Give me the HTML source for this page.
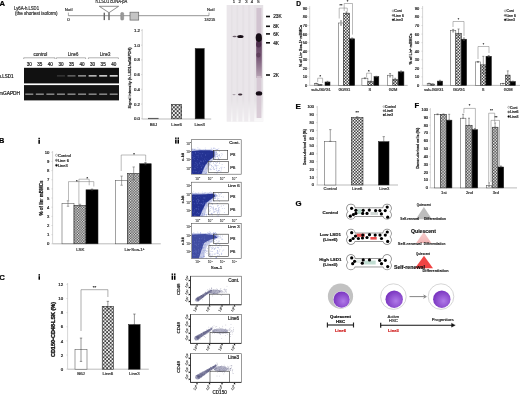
<!DOCTYPE html><html><head><meta charset="utf-8"><style>html,body{margin:0;padding:0;background:#fff;overflow:hidden}svg{display:block;filter:blur(0.35px)}text{font-family:"Liberation Sans", sans-serif}</style></head><body>
<svg width="520" height="395" viewBox="0 0 520 395">
<defs>
<pattern id="chkA" width="3.8" height="3.8" patternUnits="userSpaceOnUse"><rect width="3.8" height="3.8" fill="#444"/><rect width="1.9" height="1.9" fill="#f0f0f0"/><rect x="1.9" y="1.9" width="1.9" height="1.9" fill="#f0f0f0"/></pattern>
<pattern id="chkB" width="2.6" height="2.6" patternUnits="userSpaceOnUse"><rect width="2.6" height="2.6" fill="#444"/><rect width="1.3" height="1.3" fill="#f0f0f0"/><rect x="1.3" y="1.3" width="1.3" height="1.3" fill="#f0f0f0"/></pattern>
<pattern id="chkC" width="3.6" height="3.6" patternUnits="userSpaceOnUse"><rect width="3.6" height="3.6" fill="#444"/><rect width="1.8" height="1.8" fill="#f0f0f0"/><rect x="1.8" y="1.8" width="1.8" height="1.8" fill="#f0f0f0"/></pattern>
<pattern id="chkD" width="3.0" height="3.0" patternUnits="userSpaceOnUse"><rect width="3.0" height="3.0" fill="#444"/><rect width="1.5" height="1.5" fill="#f0f0f0"/><rect x="1.5" y="1.5" width="1.5" height="1.5" fill="#f0f0f0"/></pattern>
<pattern id="chkE" width="3.0" height="3.0" patternUnits="userSpaceOnUse"><rect width="3.0" height="3.0" fill="#444"/><rect width="1.5" height="1.5" fill="#f0f0f0"/><rect x="1.5" y="1.5" width="1.5" height="1.5" fill="#f0f0f0"/></pattern>
<pattern id="chkF" width="2.9" height="2.9" patternUnits="userSpaceOnUse"><rect width="2.9" height="2.9" fill="#444"/><rect width="1.45" height="1.45" fill="#f0f0f0"/><rect x="1.45" y="1.45" width="1.45" height="1.45" fill="#f0f0f0"/></pattern>
<radialGradient id="purp" cx="0.6" cy="0.6" r="0.6"><stop offset="0" stop-color="#b07ae8"/><stop offset="1" stop-color="#7a35c0"/></radialGradient>
<linearGradient id="lane5" x1="0" y1="0" x2="0" y2="1"><stop offset="0" stop-color="#5a3a58"/><stop offset="0.5" stop-color="#7a5a78"/><stop offset="1" stop-color="#b9a6b6"/></linearGradient>
<linearGradient id="blotfade" x1="0" y1="0" x2="0" y2="1"><stop offset="0" stop-color="#fff" stop-opacity="0"/><stop offset="1" stop-color="#fff" stop-opacity="0.8"/></linearGradient>
<filter id="blur1"><feGaussianBlur stdDeviation="0.5"/></filter>
<filter id="blur2"><feGaussianBlur stdDeviation="1"/></filter>
</defs>
<rect width="520" height="395" fill="#fff"/>
<text x="-0.40" y="6.10" font-size="7.6" fill="#000" stroke="#000" stroke-width="0.2" font-weight="bold">A</text>
<text x="14.00" y="10.00" font-size="4.6" fill="#333" stroke="#333" stroke-width="0.2" textLength="25" lengthAdjust="spacingAndGlyphs">Ly6A-h.LSD1</text>
<text x="15.00" y="15.30" font-size="4.6" fill="#333" stroke="#333" stroke-width="0.2" textLength="42.5" lengthAdjust="spacingAndGlyphs">(the shortest isoform)</text>
<line x1="68.40" y1="15.70" x2="209.00" y2="15.70" stroke="#777" stroke-width="0.8"/>
<text x="64.80" y="11.10" font-size="4.3" fill="#333" stroke="#333" stroke-width="0.2" textLength="7.8" lengthAdjust="spacingAndGlyphs">NotI</text>
<line x1="68.40" y1="12.60" x2="68.40" y2="15.70" stroke="#555" stroke-width="0.5"/>
<text x="68.40" y="20.80" font-size="4.3" fill="#333" stroke="#333" stroke-width="0.2" text-anchor="middle">0</text>
<text x="95.60" y="3.40" font-size="4.5" fill="#333" stroke="#333" stroke-width="0.2" textLength="31.7" lengthAdjust="spacingAndGlyphs">h.LSD1 cDNA-pA</text>
<path d="M99.3 6.3 L118.6 6.3 L109 12.7 Z" fill="none" stroke="#444" stroke-width="0.6" />
<rect x="103.60" y="12.70" width="1.40" height="7.40" fill="#666" />
<rect x="108.30" y="12.70" width="1.40" height="7.40" fill="#666" />
<rect x="120.70" y="12.50" width="3.00" height="7.60" fill="#999" stroke="#777" stroke-width="0.4" rx="1"/>
<rect x="130.00" y="12.20" width="8.70" height="7.90" fill="#c4c4c4" stroke="#666" stroke-width="0.7" />
<text x="206.90" y="11.10" font-size="4.3" fill="#333" stroke="#333" stroke-width="0.2" textLength="7.7" lengthAdjust="spacingAndGlyphs">NotI</text>
<line x1="209.00" y1="12.60" x2="209.00" y2="15.70" stroke="#555" stroke-width="0.5"/>
<text x="209.80" y="21.10" font-size="4.3" fill="#333" stroke="#333" stroke-width="0.2" text-anchor="middle" textLength="11" lengthAdjust="spacingAndGlyphs">18215</text>
<text x="40.40" y="55.80" font-size="4.5" fill="#333" stroke="#333" stroke-width="0.2" text-anchor="middle" textLength="14" lengthAdjust="spacingAndGlyphs">control</text>
<text x="73.10" y="55.80" font-size="4.5" fill="#333" stroke="#333" stroke-width="0.2" text-anchor="middle" textLength="10.5" lengthAdjust="spacingAndGlyphs">Line6</text>
<text x="105.10" y="55.80" font-size="4.5" fill="#333" stroke="#333" stroke-width="0.2" text-anchor="middle" textLength="10.5" lengthAdjust="spacingAndGlyphs">Line3</text>
<path d="M23.7 59 L23.7 57.8 L55 57.8 L55 59" fill="none" stroke="#666" stroke-width="0.5" />
<path d="M56.4 59 L56.4 57.8 L85.6 57.8 L85.6 59" fill="none" stroke="#666" stroke-width="0.5" />
<path d="M88.4 59 L88.4 57.8 L118.4 57.8 L118.4 59" fill="none" stroke="#666" stroke-width="0.5" />
<text x="29.28" y="66.30" font-size="4.6" fill="#222" stroke="#222" stroke-width="0.2" text-anchor="middle">30</text>
<text x="39.83" y="66.30" font-size="4.6" fill="#222" stroke="#222" stroke-width="0.2" text-anchor="middle">35</text>
<text x="50.39" y="66.30" font-size="4.6" fill="#222" stroke="#222" stroke-width="0.2" text-anchor="middle">40</text>
<text x="60.94" y="66.30" font-size="4.6" fill="#222" stroke="#222" stroke-width="0.2" text-anchor="middle">30</text>
<text x="71.50" y="66.30" font-size="4.6" fill="#222" stroke="#222" stroke-width="0.2" text-anchor="middle">35</text>
<text x="82.06" y="66.30" font-size="4.6" fill="#222" stroke="#222" stroke-width="0.2" text-anchor="middle">40</text>
<text x="92.61" y="66.30" font-size="4.6" fill="#222" stroke="#222" stroke-width="0.2" text-anchor="middle">30</text>
<text x="103.17" y="66.30" font-size="4.6" fill="#222" stroke="#222" stroke-width="0.2" text-anchor="middle">35</text>
<text x="113.72" y="66.30" font-size="4.6" fill="#222" stroke="#222" stroke-width="0.2" text-anchor="middle">40</text>
<rect x="24.00" y="67.80" width="95.00" height="15.60" fill="#111" />
<rect x="24.00" y="85.10" width="95.00" height="15.30" fill="#141414" />
<rect x="25.28" y="93.5" width="8" height="1.4" fill="#bbb" opacity="0.75" filter="url(#blur1)"/>
<rect x="35.83" y="93.5" width="8" height="1.4" fill="#bbb" opacity="0.75" filter="url(#blur1)"/>
<rect x="46.39" y="93.5" width="8" height="1.4" fill="#bbb" opacity="0.75" filter="url(#blur1)"/>
<rect x="56.94" y="75.1" width="8" height="1.5" fill="#fff" opacity="0.15" filter="url(#blur1)"/>
<rect x="56.94" y="93.5" width="8" height="1.4" fill="#bbb" opacity="0.75" filter="url(#blur1)"/>
<rect x="67.50" y="75.1" width="8" height="1.5" fill="#fff" opacity="0.35" filter="url(#blur1)"/>
<rect x="67.50" y="93.5" width="8" height="1.4" fill="#bbb" opacity="0.75" filter="url(#blur1)"/>
<rect x="78.06" y="75.1" width="8" height="1.5" fill="#fff" opacity="0.55" filter="url(#blur1)"/>
<rect x="78.06" y="93.5" width="8" height="1.4" fill="#bbb" opacity="0.75" filter="url(#blur1)"/>
<rect x="88.61" y="75.1" width="8" height="1.5" fill="#fff" opacity="0.75" filter="url(#blur1)"/>
<rect x="88.61" y="93.5" width="8" height="1.4" fill="#bbb" opacity="0.75" filter="url(#blur1)"/>
<rect x="99.17" y="75.1" width="8" height="1.5" fill="#fff" opacity="0.85" filter="url(#blur1)"/>
<rect x="99.17" y="93.5" width="8" height="1.4" fill="#bbb" opacity="0.75" filter="url(#blur1)"/>
<rect x="109.72" y="75.1" width="8" height="1.5" fill="#fff" opacity="0.9" filter="url(#blur1)"/>
<rect x="109.72" y="93.5" width="8" height="1.4" fill="#bbb" opacity="0.75" filter="url(#blur1)"/>
<text x="-1.50" y="78.20" font-size="4.6" fill="#222" stroke="#222" stroke-width="0.2" textLength="15" lengthAdjust="spacingAndGlyphs">h.LSD1</text>
<text x="-1.00" y="95.20" font-size="4.6" fill="#222" stroke="#222" stroke-width="0.2" textLength="21" lengthAdjust="spacingAndGlyphs">mGAPDH</text>
<line x1="142.20" y1="29.00" x2="142.20" y2="119.00" stroke="#bbb" stroke-width="0.6"/>
<line x1="141.00" y1="118.80" x2="142.20" y2="118.80" stroke="#bbb" stroke-width="0.5"/>
<text x="140.00" y="120.35" font-size="4.3" fill="#222" stroke="#222" stroke-width="0.2" text-anchor="end">0.0</text>
<line x1="141.00" y1="104.07" x2="142.20" y2="104.07" stroke="#bbb" stroke-width="0.5"/>
<text x="140.00" y="105.62" font-size="4.3" fill="#222" stroke="#222" stroke-width="0.2" text-anchor="end">0.2</text>
<line x1="141.00" y1="89.34" x2="142.20" y2="89.34" stroke="#bbb" stroke-width="0.5"/>
<text x="140.00" y="90.89" font-size="4.3" fill="#222" stroke="#222" stroke-width="0.2" text-anchor="end">0.4</text>
<line x1="141.00" y1="74.61" x2="142.20" y2="74.61" stroke="#bbb" stroke-width="0.5"/>
<text x="140.00" y="76.16" font-size="4.3" fill="#222" stroke="#222" stroke-width="0.2" text-anchor="end">0.6</text>
<line x1="141.00" y1="59.88" x2="142.20" y2="59.88" stroke="#bbb" stroke-width="0.5"/>
<text x="140.00" y="61.43" font-size="4.3" fill="#222" stroke="#222" stroke-width="0.2" text-anchor="end">0.8</text>
<line x1="141.00" y1="45.15" x2="142.20" y2="45.15" stroke="#bbb" stroke-width="0.5"/>
<text x="140.00" y="46.70" font-size="4.3" fill="#222" stroke="#222" stroke-width="0.2" text-anchor="end">1.0</text>
<line x1="141.00" y1="30.42" x2="142.20" y2="30.42" stroke="#bbb" stroke-width="0.5"/>
<text x="140.00" y="31.97" font-size="4.3" fill="#222" stroke="#222" stroke-width="0.2" text-anchor="end">1.2</text>
<line x1="142.20" y1="119.00" x2="211.20" y2="119.00" stroke="#aaa" stroke-width="0.8"/>
<rect x="148.30" y="118.20" width="10.20" height="0.60" fill="#fff" stroke="#555" stroke-width="0.55" />
<rect x="171.60" y="104.30" width="10.10" height="14.50" fill="url(#chkA)" stroke="#222" stroke-width="0.55" />
<rect x="195.20" y="48.60" width="9.00" height="70.20" fill="#000" stroke="#222" stroke-width="0.55" />
<text x="153.40" y="126.00" font-size="4.3" fill="#333" stroke="#333" stroke-width="0.2" text-anchor="middle">B6J</text>
<text x="176.60" y="126.00" font-size="4.3" fill="#333" stroke="#333" stroke-width="0.2" text-anchor="middle">Line6</text>
<text x="199.70" y="126.00" font-size="4.3" fill="#333" stroke="#333" stroke-width="0.2" text-anchor="middle">Line3</text>
<text x="131.20" y="78.00" font-size="4.4" fill="#222" stroke="#222" stroke-width="0.22" text-anchor="middle" font-weight="bold" textLength="61" lengthAdjust="spacingAndGlyphs" transform="rotate(-90 131.20 78.00)">Signal intensity (h.LSD1/mGAPDH)</text>
<g>
<rect x="226.70" y="5.00" width="36.50" height="116.50" fill="#e5e1e5" />
<rect x="226.7" y="100" width="36.5" height="21.5" fill="url(#blotfade)"/>
<rect x="227.00" y="5.00" width="4.00" height="116.50" fill="#ebe7eb" opacity="0.8"/>
<rect x="232.50" y="5.00" width="4.00" height="116.50" fill="#ebe7eb" opacity="0.8"/>
<rect x="238.30" y="5.00" width="4.00" height="116.50" fill="#ebe7eb" opacity="0.8"/>
<rect x="244.20" y="5.00" width="4.00" height="116.50" fill="#ebe7eb" opacity="0.8"/>
<rect x="250.20" y="5.00" width="4.00" height="116.50" fill="#ebe7eb" opacity="0.8"/>
<rect x="256.2" y="38" width="5.6" height="40" fill="url(#lane5)" filter="url(#blur1)"/>
<rect x="256.6" y="76" width="4.8" height="42" fill="#d3c3d0" opacity="0.8" filter="url(#blur1)"/>
<ellipse cx="258.6" cy="44.5" rx="2.6" ry="3.0" fill="#4a2a48" opacity="0.85" filter="url(#blur1)"/>
<ellipse cx="258.4" cy="55" rx="2.2" ry="2.6" fill="#5a3a56" opacity="0.8" filter="url(#blur1)"/>
<rect x="256.4" y="8" width="5" height="27" fill="#cdbccb" opacity="0.8" filter="url(#blur1)"/>
<ellipse cx="258.8" cy="37.6" rx="3.1" ry="4.4" fill="#160a14" filter="url(#blur1)"/>
<ellipse cx="259.0" cy="93.4" rx="3.2" ry="2.2" fill="#160a14" filter="url(#blur1)"/>
<ellipse cx="240.4" cy="36.5" rx="3.2" ry="1.6" fill="#160a14" filter="url(#blur1)"/>
<ellipse cx="234.6" cy="36.4" rx="2.1" ry="0.75" fill="#3a2a38" opacity="0.7" filter="url(#blur1)"/>
<ellipse cx="240.2" cy="94.6" rx="2.2" ry="1.0" fill="#2a1a28" opacity="0.9" filter="url(#blur1)"/>
<ellipse cx="234" cy="94.6" rx="1.6" ry="0.6" fill="#6a5a68" opacity="0.5" filter="url(#blur1)"/>
</g>
<text x="233.80" y="3.40" font-size="4.2" fill="#333" stroke="#333" stroke-width="0.2" text-anchor="middle">1</text>
<text x="239.70" y="3.40" font-size="4.2" fill="#333" stroke="#333" stroke-width="0.2" text-anchor="middle">2</text>
<text x="246.30" y="3.40" font-size="4.2" fill="#333" stroke="#333" stroke-width="0.2" text-anchor="middle">3</text>
<text x="251.90" y="3.40" font-size="4.2" fill="#333" stroke="#333" stroke-width="0.2" text-anchor="middle">4</text>
<text x="258.50" y="3.40" font-size="4.2" fill="#333" stroke="#333" stroke-width="0.2" text-anchor="middle">5</text>
<rect x="266.00" y="15.70" width="4.00" height="1.60" fill="#111" />
<text x="273.20" y="18.20" font-size="4.8" fill="#222" stroke="#222" stroke-width="0.2">23K</text>
<rect x="266.00" y="25.50" width="4.00" height="1.60" fill="#111" />
<text x="273.20" y="28.00" font-size="4.8" fill="#222" stroke="#222" stroke-width="0.2">8K</text>
<rect x="266.00" y="33.10" width="4.00" height="1.60" fill="#111" />
<text x="273.20" y="35.60" font-size="4.8" fill="#222" stroke="#222" stroke-width="0.2">6K</text>
<rect x="266.00" y="42.00" width="4.00" height="1.60" fill="#111" />
<text x="273.20" y="44.50" font-size="4.8" fill="#222" stroke="#222" stroke-width="0.2">4K</text>
<rect x="266.00" y="74.20" width="4.00" height="1.60" fill="#111" />
<text x="273.20" y="76.70" font-size="4.8" fill="#222" stroke="#222" stroke-width="0.2">2K</text>
<text x="-1.00" y="143.40" font-size="7.4" fill="#000" stroke="#000" stroke-width="0.2" font-weight="bold">B</text>
<rect x="38.40" y="137.80" width="1.5" height="1.4" fill="#000"/>
<rect x="38.40" y="139.80" width="1.5" height="4.00" fill="#000"/>
<rect x="175.10" y="137.50" width="1.5" height="1.4" fill="#000"/>
<rect x="175.10" y="139.50" width="1.5" height="4.10" fill="#000"/>
<rect x="177.50" y="137.50" width="1.5" height="1.4" fill="#000"/>
<rect x="177.50" y="139.50" width="1.5" height="4.10" fill="#000"/>
<line x1="52.60" y1="151.00" x2="52.60" y2="243.80" stroke="#bbb" stroke-width="0.6"/>
<line x1="51.40" y1="243.80" x2="52.60" y2="243.80" stroke="#bbb" stroke-width="0.5"/>
<text x="49.30" y="245.31" font-size="4.2" fill="#222" stroke="#222" stroke-width="0.2" text-anchor="end">0</text>
<line x1="51.40" y1="234.65" x2="52.60" y2="234.65" stroke="#bbb" stroke-width="0.5"/>
<text x="49.30" y="236.16" font-size="4.2" fill="#222" stroke="#222" stroke-width="0.2" text-anchor="end">1</text>
<line x1="51.40" y1="225.50" x2="52.60" y2="225.50" stroke="#bbb" stroke-width="0.5"/>
<text x="49.30" y="227.01" font-size="4.2" fill="#222" stroke="#222" stroke-width="0.2" text-anchor="end">2</text>
<line x1="51.40" y1="216.35" x2="52.60" y2="216.35" stroke="#bbb" stroke-width="0.5"/>
<text x="49.30" y="217.86" font-size="4.2" fill="#222" stroke="#222" stroke-width="0.2" text-anchor="end">3</text>
<line x1="51.40" y1="207.20" x2="52.60" y2="207.20" stroke="#bbb" stroke-width="0.5"/>
<text x="49.30" y="208.71" font-size="4.2" fill="#222" stroke="#222" stroke-width="0.2" text-anchor="end">4</text>
<line x1="51.40" y1="198.05" x2="52.60" y2="198.05" stroke="#bbb" stroke-width="0.5"/>
<text x="49.30" y="199.56" font-size="4.2" fill="#222" stroke="#222" stroke-width="0.2" text-anchor="end">5</text>
<line x1="51.40" y1="188.90" x2="52.60" y2="188.90" stroke="#bbb" stroke-width="0.5"/>
<text x="49.30" y="190.41" font-size="4.2" fill="#222" stroke="#222" stroke-width="0.2" text-anchor="end">6</text>
<line x1="51.40" y1="179.75" x2="52.60" y2="179.75" stroke="#bbb" stroke-width="0.5"/>
<text x="49.30" y="181.26" font-size="4.2" fill="#222" stroke="#222" stroke-width="0.2" text-anchor="end">7</text>
<line x1="51.40" y1="170.60" x2="52.60" y2="170.60" stroke="#bbb" stroke-width="0.5"/>
<text x="49.30" y="172.11" font-size="4.2" fill="#222" stroke="#222" stroke-width="0.2" text-anchor="end">8</text>
<line x1="51.40" y1="161.45" x2="52.60" y2="161.45" stroke="#bbb" stroke-width="0.5"/>
<text x="49.30" y="162.96" font-size="4.2" fill="#222" stroke="#222" stroke-width="0.2" text-anchor="end">9</text>
<line x1="51.40" y1="152.30" x2="52.60" y2="152.30" stroke="#bbb" stroke-width="0.5"/>
<text x="49.30" y="153.81" font-size="4.2" fill="#222" stroke="#222" stroke-width="0.2" text-anchor="end">10</text>
<line x1="52.60" y1="243.80" x2="160.80" y2="243.80" stroke="#aaa" stroke-width="0.8"/>
<rect x="62.00" y="203.54" width="12.00" height="40.26" fill="#fff" stroke="#555" stroke-width="0.55" />
<line x1="68.00" y1="200.80" x2="68.00" y2="206.28" stroke="#555" stroke-width="0.5"/>
<line x1="66.80" y1="200.80" x2="69.20" y2="200.80" stroke="#555" stroke-width="0.5"/>
<line x1="66.80" y1="206.28" x2="69.20" y2="206.28" stroke="#555" stroke-width="0.5"/>
<rect x="74.00" y="205.37" width="12.00" height="38.43" fill="url(#chkB)" stroke="#222" stroke-width="0.55" />
<line x1="80.00" y1="204.27" x2="80.00" y2="206.47" stroke="#555" stroke-width="0.5"/>
<line x1="78.80" y1="204.27" x2="81.20" y2="204.27" stroke="#555" stroke-width="0.5"/>
<line x1="78.80" y1="206.47" x2="81.20" y2="206.47" stroke="#555" stroke-width="0.5"/>
<rect x="86.00" y="189.81" width="12.00" height="53.99" fill="#000" stroke="#222" stroke-width="0.55" />
<line x1="92.00" y1="189.08" x2="92.00" y2="190.55" stroke="#333" stroke-width="0.5"/>
<line x1="90.80" y1="189.08" x2="93.20" y2="189.08" stroke="#333" stroke-width="0.5"/>
<line x1="90.80" y1="190.55" x2="93.20" y2="190.55" stroke="#333" stroke-width="0.5"/>
<rect x="115.50" y="180.67" width="12.20" height="63.13" fill="#fff" stroke="#555" stroke-width="0.55" />
<line x1="121.60" y1="176.09" x2="121.60" y2="185.24" stroke="#555" stroke-width="0.5"/>
<line x1="120.40" y1="176.09" x2="122.80" y2="176.09" stroke="#555" stroke-width="0.5"/>
<line x1="120.40" y1="185.24" x2="122.80" y2="185.24" stroke="#555" stroke-width="0.5"/>
<rect x="127.70" y="173.35" width="12.00" height="70.45" fill="url(#chkB)" stroke="#222" stroke-width="0.55" />
<line x1="133.70" y1="166.94" x2="133.70" y2="179.75" stroke="#555" stroke-width="0.5"/>
<line x1="132.50" y1="166.94" x2="134.90" y2="166.94" stroke="#555" stroke-width="0.5"/>
<line x1="132.50" y1="179.75" x2="134.90" y2="179.75" stroke="#555" stroke-width="0.5"/>
<rect x="139.70" y="163.74" width="11.50" height="80.06" fill="#000" stroke="#222" stroke-width="0.55" />
<line x1="145.45" y1="162.64" x2="145.45" y2="164.84" stroke="#333" stroke-width="0.5"/>
<line x1="144.25" y1="162.64" x2="146.65" y2="162.64" stroke="#333" stroke-width="0.5"/>
<line x1="144.25" y1="164.84" x2="146.65" y2="164.84" stroke="#333" stroke-width="0.5"/>
<path d="M68.5 200.4 L68.5 181.6 L93.8 181.6 L93.8 186.5" fill="none" stroke="#777" stroke-width="0.5" />
<path d="M78.9 205 L78.9 179.2 L89.2 179.2 L89.2 185.3" fill="none" stroke="#777" stroke-width="0.5" />
<text x="76.90" y="182.60" font-size="4" fill="#333" stroke="#333" stroke-width="0.2" text-anchor="middle">*</text>
<text x="87.20" y="179.80" font-size="4" fill="#333" stroke="#333" stroke-width="0.2" text-anchor="middle">*</text>
<path d="M121.2 171 L121.2 155 L145.7 155 L145.7 161.5" fill="none" stroke="#777" stroke-width="0.5" />
<text x="134.00" y="156.40" font-size="4" fill="#333" stroke="#333" stroke-width="0.2" text-anchor="middle">*</text>
<text x="80.30" y="251.00" font-size="4.4" fill="#333" stroke="#333" stroke-width="0.2" text-anchor="middle">LSK</text>
<text x="134.50" y="251.00" font-size="4.4" fill="#333" stroke="#333" stroke-width="0.2" text-anchor="middle">Lin<tspan font-size="3" dy="-1.5">-</tspan><tspan dy="1.5">Sca-1</tspan><tspan font-size="3" dy="-1.5">+</tspan></text>
<text x="42.60" y="198.00" font-size="4.6" fill="#222" stroke="#222" stroke-width="0.22" text-anchor="middle" font-weight="bold" textLength="35" lengthAdjust="spacingAndGlyphs" transform="rotate(-90 42.60 198.00)">% of lin<tspan font-size="3" dy="-1.5">-</tspan><tspan dy="1.5"> mBMCs</tspan></text>
<circle cx="56.50" cy="155.30" r="1.1" fill="#fff" stroke="#333" stroke-width="0.35"/>
<text x="58.00" y="156.74" font-size="4.0" fill="#222" stroke="#222" stroke-width="0.2">Control</text>
<circle cx="56.50" cy="160.30" r="1.1" fill="#777" stroke="#333" stroke-width="0.35"/>
<text x="58.00" y="161.74" font-size="4.0" fill="#222" stroke="#222" stroke-width="0.2">Line 6</text>
<circle cx="56.50" cy="165.30" r="1.1" fill="#000" stroke="#333" stroke-width="0.35"/>
<text x="58.00" y="166.74" font-size="4.0" fill="#222" stroke="#222" stroke-width="0.2">Line3</text>
<rect x="191.50" y="139.70" width="49.70" height="34.50" fill="#fff" stroke="#555" stroke-width="0.6" />
<path d="M191.6 149.5 L212.0 149.3 L217.0 152.0 L216.0 157.0 L211.0 162.0 L208.0 168.0 L206.5 174.0 L191.6 174.0 Z" fill="#6070c0" opacity="0.35" filter="url(#blur1)"/><path d="M191.6 151.0 L200.0 150.2 L210.0 150.3 L214.5 151.3 L214.5 156.5 L209.0 160.5 L205.0 166.0 L201.5 174.0 L191.6 174.0 Z" fill="#1b2a8e" opacity="0.95" filter="url(#blur1)"/><circle cx="195.8" cy="169.9" r="0.42" fill="#3a4ab0" opacity="0.5"/><circle cx="213.4" cy="155.1" r="0.42" fill="#3a4ab0" opacity="0.5"/><circle cx="205.9" cy="159.9" r="0.42" fill="#3a4ab0" opacity="0.5"/><circle cx="210.2" cy="168.4" r="0.42" fill="#3a4ab0" opacity="0.5"/><circle cx="194.6" cy="149.4" r="0.42" fill="#3a4ab0" opacity="0.5"/><circle cx="215.4" cy="159.5" r="0.42" fill="#3a4ab0" opacity="0.5"/><circle cx="213.3" cy="148.8" r="0.42" fill="#3a4ab0" opacity="0.5"/><circle cx="204.5" cy="166.7" r="0.42" fill="#3a4ab0" opacity="0.5"/><circle cx="198.4" cy="172.3" r="0.42" fill="#3a4ab0" opacity="0.5"/><circle cx="217.2" cy="149.5" r="0.42" fill="#3a4ab0" opacity="0.5"/><circle cx="192.7" cy="162.2" r="0.42" fill="#3a4ab0" opacity="0.5"/><circle cx="218.3" cy="158.2" r="0.42" fill="#3a4ab0" opacity="0.5"/><circle cx="198.1" cy="159.3" r="0.42" fill="#3a4ab0" opacity="0.5"/><circle cx="192.8" cy="154.2" r="0.42" fill="#3a4ab0" opacity="0.5"/><circle cx="204.3" cy="161.1" r="0.42" fill="#3a4ab0" opacity="0.5"/><circle cx="198.5" cy="154.5" r="0.42" fill="#3a4ab0" opacity="0.5"/><circle cx="198.1" cy="160.2" r="0.42" fill="#3a4ab0" opacity="0.5"/><circle cx="200.1" cy="149.2" r="0.42" fill="#3a4ab0" opacity="0.5"/><circle cx="215.5" cy="162.6" r="0.42" fill="#3a4ab0" opacity="0.5"/><circle cx="210.0" cy="153.3" r="0.42" fill="#3a4ab0" opacity="0.5"/><circle cx="219.8" cy="170.2" r="0.42" fill="#3a4ab0" opacity="0.5"/><circle cx="195.4" cy="157.0" r="0.42" fill="#3a4ab0" opacity="0.5"/><circle cx="212.2" cy="166.5" r="0.42" fill="#3a4ab0" opacity="0.5"/><circle cx="218.2" cy="159.3" r="0.42" fill="#3a4ab0" opacity="0.5"/><circle cx="215.2" cy="165.5" r="0.42" fill="#3a4ab0" opacity="0.5"/><circle cx="200.5" cy="163.4" r="0.42" fill="#3a4ab0" opacity="0.5"/><circle cx="216.7" cy="169.9" r="0.42" fill="#3a4ab0" opacity="0.5"/><circle cx="206.1" cy="163.4" r="0.42" fill="#3a4ab0" opacity="0.5"/><circle cx="193.0" cy="154.8" r="0.42" fill="#3a4ab0" opacity="0.5"/><circle cx="214.3" cy="159.1" r="0.42" fill="#3a4ab0" opacity="0.5"/><circle cx="196.8" cy="162.4" r="0.42" fill="#3a4ab0" opacity="0.5"/><circle cx="211.7" cy="165.6" r="0.42" fill="#3a4ab0" opacity="0.5"/><circle cx="202.5" cy="159.7" r="0.42" fill="#3a4ab0" opacity="0.5"/><circle cx="206.2" cy="168.2" r="0.42" fill="#3a4ab0" opacity="0.5"/><circle cx="206.6" cy="158.5" r="0.42" fill="#3a4ab0" opacity="0.5"/><circle cx="205.7" cy="149.4" r="0.42" fill="#3a4ab0" opacity="0.5"/><circle cx="193.2" cy="166.3" r="0.42" fill="#3a4ab0" opacity="0.5"/><circle cx="219.5" cy="163.5" r="0.42" fill="#3a4ab0" opacity="0.5"/><circle cx="203.0" cy="153.0" r="0.42" fill="#3a4ab0" opacity="0.5"/><circle cx="206.1" cy="173.3" r="0.42" fill="#3a4ab0" opacity="0.5"/><circle cx="213.6" cy="162.2" r="0.42" fill="#3a4ab0" opacity="0.5"/><circle cx="216.1" cy="154.5" r="0.42" fill="#3a4ab0" opacity="0.5"/><circle cx="206.4" cy="172.5" r="0.42" fill="#3a4ab0" opacity="0.5"/><circle cx="208.2" cy="160.2" r="0.42" fill="#3a4ab0" opacity="0.5"/><circle cx="199.5" cy="162.4" r="0.42" fill="#3a4ab0" opacity="0.5"/><circle cx="218.8" cy="148.8" r="0.42" fill="#3a4ab0" opacity="0.5"/><circle cx="213.9" cy="169.2" r="0.42" fill="#3a4ab0" opacity="0.5"/><circle cx="216.8" cy="167.2" r="0.42" fill="#3a4ab0" opacity="0.5"/><circle cx="214.7" cy="161.7" r="0.42" fill="#3a4ab0" opacity="0.5"/><circle cx="207.7" cy="159.4" r="0.42" fill="#3a4ab0" opacity="0.5"/><circle cx="193.6" cy="170.5" r="0.42" fill="#3a4ab0" opacity="0.5"/><circle cx="208.0" cy="153.7" r="0.42" fill="#3a4ab0" opacity="0.5"/><circle cx="206.1" cy="160.8" r="0.42" fill="#3a4ab0" opacity="0.5"/><circle cx="202.0" cy="157.4" r="0.42" fill="#3a4ab0" opacity="0.5"/><circle cx="207.1" cy="164.3" r="0.42" fill="#3a4ab0" opacity="0.5"/><circle cx="209.1" cy="160.2" r="0.42" fill="#3a4ab0" opacity="0.5"/><circle cx="192.8" cy="154.4" r="0.42" fill="#3a4ab0" opacity="0.5"/><circle cx="197.0" cy="163.3" r="0.42" fill="#3a4ab0" opacity="0.5"/><circle cx="216.1" cy="168.7" r="0.42" fill="#3a4ab0" opacity="0.5"/><circle cx="214.3" cy="169.1" r="0.42" fill="#3a4ab0" opacity="0.5"/><circle cx="199.1" cy="169.7" r="0.42" fill="#3a4ab0" opacity="0.5"/><circle cx="210.8" cy="150.8" r="0.42" fill="#3a4ab0" opacity="0.5"/><circle cx="192.5" cy="149.1" r="0.42" fill="#3a4ab0" opacity="0.5"/><circle cx="213.2" cy="154.9" r="0.42" fill="#3a4ab0" opacity="0.5"/><circle cx="195.1" cy="164.3" r="0.42" fill="#3a4ab0" opacity="0.5"/><circle cx="201.6" cy="150.4" r="0.42" fill="#3a4ab0" opacity="0.5"/><circle cx="196.5" cy="161.9" r="0.42" fill="#3a4ab0" opacity="0.5"/><circle cx="196.7" cy="155.5" r="0.42" fill="#3a4ab0" opacity="0.5"/><circle cx="211.9" cy="160.1" r="0.42" fill="#3a4ab0" opacity="0.5"/><circle cx="201.0" cy="160.5" r="0.42" fill="#3a4ab0" opacity="0.5"/><circle cx="192.7" cy="158.4" r="0.42" fill="#3a4ab0" opacity="0.5"/><circle cx="203.8" cy="153.4" r="0.42" fill="#3a4ab0" opacity="0.5"/><circle cx="195.0" cy="171.2" r="0.42" fill="#3a4ab0" opacity="0.5"/><circle cx="206.3" cy="153.9" r="0.42" fill="#3a4ab0" opacity="0.5"/><circle cx="209.0" cy="169.1" r="0.42" fill="#3a4ab0" opacity="0.5"/><circle cx="192.6" cy="149.1" r="0.42" fill="#3a4ab0" opacity="0.5"/><circle cx="196.1" cy="166.7" r="0.42" fill="#3a4ab0" opacity="0.5"/><circle cx="196.5" cy="166.3" r="0.42" fill="#3a4ab0" opacity="0.5"/><circle cx="211.0" cy="162.3" r="0.42" fill="#3a4ab0" opacity="0.5"/><circle cx="198.2" cy="173.1" r="0.42" fill="#3a4ab0" opacity="0.5"/><circle cx="214.3" cy="161.6" r="0.42" fill="#3a4ab0" opacity="0.5"/><circle cx="198.2" cy="164.9" r="0.42" fill="#3a4ab0" opacity="0.5"/><circle cx="203.1" cy="163.1" r="0.42" fill="#3a4ab0" opacity="0.5"/><circle cx="201.0" cy="164.5" r="0.42" fill="#3a4ab0" opacity="0.5"/><circle cx="193.6" cy="156.2" r="0.42" fill="#3a4ab0" opacity="0.5"/><circle cx="219.1" cy="170.6" r="0.42" fill="#3a4ab0" opacity="0.5"/><circle cx="200.6" cy="170.2" r="0.42" fill="#3a4ab0" opacity="0.5"/><circle cx="200.7" cy="172.2" r="0.42" fill="#3a4ab0" opacity="0.5"/><circle cx="212.8" cy="159.1" r="0.42" fill="#3a4ab0" opacity="0.5"/><circle cx="199.1" cy="148.9" r="0.42" fill="#3a4ab0" opacity="0.5"/><circle cx="216.6" cy="149.6" r="0.42" fill="#3a4ab0" opacity="0.5"/><circle cx="214.9" cy="172.8" r="0.42" fill="#3a4ab0" opacity="0.5"/><circle cx="208.0" cy="153.0" r="0.42" fill="#3a4ab0" opacity="0.5"/><circle cx="216.3" cy="173.0" r="0.42" fill="#3a4ab0" opacity="0.5"/><circle cx="211.7" cy="161.4" r="0.42" fill="#3a4ab0" opacity="0.5"/><circle cx="202.6" cy="157.4" r="0.42" fill="#3a4ab0" opacity="0.5"/><circle cx="197.8" cy="165.6" r="0.42" fill="#3a4ab0" opacity="0.5"/><circle cx="204.1" cy="153.6" r="0.42" fill="#3a4ab0" opacity="0.5"/><circle cx="194.9" cy="165.3" r="0.42" fill="#3a4ab0" opacity="0.5"/><circle cx="200.3" cy="161.2" r="0.42" fill="#3a4ab0" opacity="0.5"/><circle cx="201.1" cy="170.5" r="0.42" fill="#3a4ab0" opacity="0.5"/><circle cx="217.2" cy="149.2" r="0.42" fill="#3a4ab0" opacity="0.5"/><circle cx="197.6" cy="156.9" r="0.42" fill="#3a4ab0" opacity="0.5"/><circle cx="219.6" cy="168.3" r="0.42" fill="#3a4ab0" opacity="0.5"/><circle cx="201.5" cy="154.0" r="0.42" fill="#3a4ab0" opacity="0.5"/><circle cx="210.9" cy="169.6" r="0.42" fill="#3a4ab0" opacity="0.5"/><circle cx="218.1" cy="157.3" r="0.42" fill="#3a4ab0" opacity="0.5"/><circle cx="216.7" cy="165.9" r="0.42" fill="#3a4ab0" opacity="0.5"/><circle cx="205.6" cy="173.3" r="0.42" fill="#3a4ab0" opacity="0.5"/><circle cx="198.6" cy="166.8" r="0.42" fill="#3a4ab0" opacity="0.5"/><circle cx="194.4" cy="152.9" r="0.42" fill="#3a4ab0" opacity="0.5"/><circle cx="217.5" cy="154.0" r="0.42" fill="#3a4ab0" opacity="0.5"/><circle cx="213.3" cy="163.7" r="0.42" fill="#3a4ab0" opacity="0.5"/><circle cx="215.6" cy="157.9" r="0.42" fill="#3a4ab0" opacity="0.5"/><circle cx="201.5" cy="156.0" r="0.42" fill="#3a4ab0" opacity="0.5"/><circle cx="216.3" cy="163.8" r="0.42" fill="#3a4ab0" opacity="0.5"/><circle cx="218.7" cy="170.9" r="0.42" fill="#3a4ab0" opacity="0.5"/><circle cx="195.8" cy="162.5" r="0.42" fill="#3a4ab0" opacity="0.5"/><circle cx="194.9" cy="149.7" r="0.42" fill="#3a4ab0" opacity="0.5"/><circle cx="194.0" cy="170.4" r="0.42" fill="#3a4ab0" opacity="0.5"/><circle cx="214.1" cy="169.4" r="0.42" fill="#3a4ab0" opacity="0.5"/><circle cx="201.5" cy="164.1" r="0.42" fill="#3a4ab0" opacity="0.5"/><circle cx="213.9" cy="158.2" r="0.42" fill="#3a4ab0" opacity="0.5"/><circle cx="208.0" cy="154.3" r="0.42" fill="#3a4ab0" opacity="0.5"/><circle cx="194.3" cy="155.4" r="0.42" fill="#3a4ab0" opacity="0.5"/><circle cx="216.9" cy="162.8" r="0.42" fill="#3a4ab0" opacity="0.5"/><circle cx="217.9" cy="160.1" r="0.42" fill="#3a4ab0" opacity="0.5"/><circle cx="199.8" cy="168.4" r="0.42" fill="#3a4ab0" opacity="0.5"/><circle cx="215.2" cy="149.0" r="0.42" fill="#3a4ab0" opacity="0.5"/><circle cx="210.8" cy="151.0" r="0.42" fill="#3a4ab0" opacity="0.5"/><circle cx="195.2" cy="170.8" r="0.42" fill="#3a4ab0" opacity="0.5"/><circle cx="193.1" cy="154.7" r="0.42" fill="#3a4ab0" opacity="0.5"/><circle cx="219.7" cy="159.2" r="0.42" fill="#3a4ab0" opacity="0.5"/><circle cx="195.2" cy="152.9" r="0.42" fill="#3a4ab0" opacity="0.5"/><circle cx="198.8" cy="167.3" r="0.42" fill="#3a4ab0" opacity="0.5"/><circle cx="194.9" cy="171.5" r="0.42" fill="#3a4ab0" opacity="0.5"/><circle cx="202.6" cy="173.0" r="0.42" fill="#3a4ab0" opacity="0.5"/><circle cx="217.5" cy="156.1" r="0.42" fill="#3a4ab0" opacity="0.5"/><circle cx="199.1" cy="160.6" r="0.42" fill="#3a4ab0" opacity="0.5"/><circle cx="194.8" cy="165.0" r="0.42" fill="#3a4ab0" opacity="0.5"/><circle cx="193.1" cy="149.0" r="0.42" fill="#3a4ab0" opacity="0.5"/><circle cx="219.5" cy="156.1" r="0.42" fill="#3a4ab0" opacity="0.5"/><circle cx="208.7" cy="159.9" r="0.42" fill="#3a4ab0" opacity="0.5"/><circle cx="200.8" cy="150.3" r="0.42" fill="#3a4ab0" opacity="0.5"/><circle cx="217.6" cy="172.9" r="0.42" fill="#3a4ab0" opacity="0.5"/><circle cx="219.2" cy="151.5" r="0.42" fill="#3a4ab0" opacity="0.5"/><circle cx="198.0" cy="164.1" r="0.42" fill="#3a4ab0" opacity="0.5"/><circle cx="219.4" cy="162.3" r="0.42" fill="#3a4ab0" opacity="0.5"/><circle cx="211.3" cy="165.2" r="0.42" fill="#3a4ab0" opacity="0.5"/><circle cx="199.3" cy="162.2" r="0.42" fill="#3a4ab0" opacity="0.5"/><circle cx="200.6" cy="154.9" r="0.42" fill="#3a4ab0" opacity="0.5"/><circle cx="194.3" cy="155.7" r="0.42" fill="#3a4ab0" opacity="0.5"/><circle cx="219.5" cy="159.9" r="0.42" fill="#3a4ab0" opacity="0.5"/><circle cx="210.3" cy="164.8" r="0.42" fill="#3a4ab0" opacity="0.5"/><circle cx="218.3" cy="158.5" r="0.42" fill="#3a4ab0" opacity="0.5"/><circle cx="200.6" cy="156.9" r="0.42" fill="#3a4ab0" opacity="0.5"/><circle cx="200.9" cy="169.9" r="0.42" fill="#3a4ab0" opacity="0.5"/><circle cx="217.0" cy="156.3" r="0.42" fill="#3a4ab0" opacity="0.5"/><circle cx="201.4" cy="162.3" r="0.42" fill="#3a4ab0" opacity="0.5"/><circle cx="208.2" cy="163.6" r="0.42" fill="#3a4ab0" opacity="0.5"/><circle cx="197.9" cy="147.8" r="0.4" fill="#8898e0" opacity="0.6"/><circle cx="197.9" cy="147.9" r="0.4" fill="#8898e0" opacity="0.6"/><circle cx="205.2" cy="147.9" r="0.4" fill="#8898e0" opacity="0.6"/><circle cx="193.8" cy="149.3" r="0.4" fill="#8898e0" opacity="0.6"/><circle cx="199.0" cy="149.7" r="0.4" fill="#8898e0" opacity="0.6"/><circle cx="203.8" cy="149.9" r="0.4" fill="#8898e0" opacity="0.6"/><circle cx="195.7" cy="149.0" r="0.4" fill="#8898e0" opacity="0.6"/><circle cx="211.1" cy="147.9" r="0.4" fill="#8898e0" opacity="0.6"/><circle cx="214.8" cy="148.1" r="0.4" fill="#8898e0" opacity="0.6"/><circle cx="210.6" cy="150.2" r="0.4" fill="#8898e0" opacity="0.6"/><circle cx="211.7" cy="148.5" r="0.4" fill="#8898e0" opacity="0.6"/><circle cx="194.6" cy="149.0" r="0.4" fill="#8898e0" opacity="0.6"/><circle cx="214.1" cy="148.4" r="0.4" fill="#8898e0" opacity="0.6"/><circle cx="213.5" cy="148.1" r="0.4" fill="#8898e0" opacity="0.6"/><circle cx="213.9" cy="147.8" r="0.4" fill="#8898e0" opacity="0.6"/><circle cx="196.4" cy="171.6" r="0.45" fill="#7a88d8" opacity="0.55"/><circle cx="203.3" cy="171.7" r="0.45" fill="#7a88d8" opacity="0.55"/><circle cx="203.8" cy="168.2" r="0.45" fill="#7a88d8" opacity="0.55"/><circle cx="201.7" cy="156.0" r="0.45" fill="#7a88d8" opacity="0.55"/><circle cx="198.1" cy="155.6" r="0.45" fill="#7a88d8" opacity="0.55"/><circle cx="202.0" cy="166.6" r="0.45" fill="#7a88d8" opacity="0.55"/><circle cx="195.5" cy="153.6" r="0.45" fill="#7a88d8" opacity="0.55"/><circle cx="205.5" cy="169.6" r="0.45" fill="#7a88d8" opacity="0.55"/><circle cx="199.7" cy="163.8" r="0.45" fill="#7a88d8" opacity="0.55"/><circle cx="203.9" cy="161.9" r="0.45" fill="#7a88d8" opacity="0.55"/><circle cx="197.5" cy="159.5" r="0.45" fill="#7a88d8" opacity="0.55"/><circle cx="195.6" cy="152.7" r="0.45" fill="#7a88d8" opacity="0.55"/><circle cx="201.1" cy="161.2" r="0.45" fill="#7a88d8" opacity="0.55"/><circle cx="200.0" cy="153.5" r="0.45" fill="#7a88d8" opacity="0.55"/><circle cx="197.0" cy="155.2" r="0.45" fill="#7a88d8" opacity="0.55"/><circle cx="193.8" cy="157.8" r="0.45" fill="#7a88d8" opacity="0.55"/><circle cx="203.6" cy="160.8" r="0.45" fill="#7a88d8" opacity="0.55"/><circle cx="197.6" cy="165.4" r="0.45" fill="#7a88d8" opacity="0.55"/><circle cx="195.3" cy="152.4" r="0.45" fill="#7a88d8" opacity="0.55"/><circle cx="199.4" cy="163.0" r="0.45" fill="#7a88d8" opacity="0.55"/><circle cx="201.1" cy="161.6" r="0.45" fill="#7a88d8" opacity="0.55"/><circle cx="201.6" cy="167.9" r="0.45" fill="#7a88d8" opacity="0.55"/><circle cx="195.3" cy="162.8" r="0.45" fill="#7a88d8" opacity="0.55"/><circle cx="198.7" cy="157.0" r="0.45" fill="#7a88d8" opacity="0.55"/><circle cx="197.8" cy="164.2" r="0.45" fill="#7a88d8" opacity="0.55"/><circle cx="204.7" cy="171.9" r="0.45" fill="#7a88d8" opacity="0.55"/><circle cx="195.9" cy="166.1" r="0.45" fill="#7a88d8" opacity="0.55"/><circle cx="192.7" cy="153.7" r="0.45" fill="#7a88d8" opacity="0.55"/><circle cx="199.2" cy="171.1" r="0.45" fill="#7a88d8" opacity="0.55"/><circle cx="194.2" cy="168.7" r="0.45" fill="#7a88d8" opacity="0.55"/><circle cx="204.4" cy="158.9" r="0.45" fill="#7a88d8" opacity="0.55"/><circle cx="201.7" cy="170.5" r="0.45" fill="#7a88d8" opacity="0.55"/><circle cx="197.2" cy="167.3" r="0.45" fill="#7a88d8" opacity="0.55"/><circle cx="202.3" cy="165.0" r="0.45" fill="#7a88d8" opacity="0.55"/><circle cx="204.0" cy="171.5" r="0.45" fill="#7a88d8" opacity="0.55"/><circle cx="205.4" cy="164.5" r="0.45" fill="#7a88d8" opacity="0.55"/><circle cx="194.5" cy="157.6" r="0.45" fill="#7a88d8" opacity="0.55"/><circle cx="195.0" cy="164.4" r="0.45" fill="#7a88d8" opacity="0.55"/><circle cx="202.6" cy="153.3" r="0.45" fill="#7a88d8" opacity="0.55"/><circle cx="201.5" cy="167.6" r="0.45" fill="#7a88d8" opacity="0.55"/><circle cx="196.9" cy="163.3" r="0.45" fill="#7a88d8" opacity="0.55"/><circle cx="194.3" cy="167.9" r="0.45" fill="#7a88d8" opacity="0.55"/><circle cx="192.6" cy="173.3" r="0.45" fill="#7a88d8" opacity="0.55"/><circle cx="203.3" cy="165.7" r="0.45" fill="#7a88d8" opacity="0.55"/><circle cx="195.7" cy="171.8" r="0.45" fill="#7a88d8" opacity="0.55"/><circle cx="205.4" cy="155.2" r="0.45" fill="#7a88d8" opacity="0.55"/><circle cx="202.9" cy="170.3" r="0.45" fill="#7a88d8" opacity="0.55"/><circle cx="201.2" cy="167.3" r="0.45" fill="#7a88d8" opacity="0.55"/><circle cx="198.2" cy="172.1" r="0.45" fill="#7a88d8" opacity="0.55"/><circle cx="205.6" cy="160.4" r="0.45" fill="#7a88d8" opacity="0.55"/><circle cx="203.2" cy="161.5" r="0.45" fill="#7a88d8" opacity="0.55"/><circle cx="194.3" cy="159.2" r="0.45" fill="#7a88d8" opacity="0.55"/><circle cx="193.8" cy="171.7" r="0.45" fill="#7a88d8" opacity="0.55"/><circle cx="205.4" cy="154.8" r="0.45" fill="#7a88d8" opacity="0.55"/><circle cx="200.4" cy="161.0" r="0.45" fill="#7a88d8" opacity="0.55"/><circle cx="193.7" cy="158.6" r="0.45" fill="#7a88d8" opacity="0.55"/><circle cx="195.5" cy="168.3" r="0.45" fill="#7a88d8" opacity="0.55"/><circle cx="192.1" cy="156.3" r="0.45" fill="#7a88d8" opacity="0.55"/><circle cx="198.1" cy="152.7" r="0.45" fill="#7a88d8" opacity="0.55"/><circle cx="200.8" cy="165.2" r="0.45" fill="#7a88d8" opacity="0.55"/><circle cx="222.1" cy="164.4" r="0.4" fill="#5060b8" opacity="0.6"/><circle cx="213.6" cy="167.4" r="0.4" fill="#5060b8" opacity="0.6"/><circle cx="213.4" cy="167.8" r="0.4" fill="#5060b8" opacity="0.6"/><circle cx="213.1" cy="168.7" r="0.4" fill="#5060b8" opacity="0.6"/><circle cx="221.4" cy="169.9" r="0.4" fill="#5060b8" opacity="0.6"/><circle cx="224.2" cy="167.5" r="0.4" fill="#5060b8" opacity="0.6"/><circle cx="216.8" cy="170.3" r="0.4" fill="#5060b8" opacity="0.6"/><circle cx="221.0" cy="167.7" r="0.4" fill="#5060b8" opacity="0.6"/><circle cx="215.1" cy="165.1" r="0.4" fill="#5060b8" opacity="0.6"/><circle cx="210.9" cy="169.8" r="0.4" fill="#5060b8" opacity="0.6"/><circle cx="211.0" cy="169.3" r="0.4" fill="#5060b8" opacity="0.6"/><circle cx="217.6" cy="171.3" r="0.4" fill="#5060b8" opacity="0.6"/><circle cx="220.9" cy="171.4" r="0.4" fill="#5060b8" opacity="0.6"/><circle cx="211.3" cy="167.1" r="0.4" fill="#5060b8" opacity="0.6"/><circle cx="218.0" cy="165.3" r="0.4" fill="#5060b8" opacity="0.6"/><circle cx="216.9" cy="165.7" r="0.4" fill="#5060b8" opacity="0.6"/><circle cx="217.3" cy="162.5" r="0.4" fill="#5060b8" opacity="0.6"/><circle cx="216.0" cy="166.6" r="0.4" fill="#5060b8" opacity="0.6"/><circle cx="213.9" cy="166.1" r="0.4" fill="#5060b8" opacity="0.6"/><circle cx="221.3" cy="168.7" r="0.4" fill="#5060b8" opacity="0.6"/><circle cx="216.8" cy="168.4" r="0.4" fill="#5060b8" opacity="0.6"/><circle cx="215.0" cy="164.4" r="0.4" fill="#5060b8" opacity="0.6"/><circle cx="209.3" cy="165.0" r="0.4" fill="#5060b8" opacity="0.6"/><circle cx="218.4" cy="170.5" r="0.4" fill="#5060b8" opacity="0.6"/><circle cx="222.0" cy="167.1" r="0.4" fill="#5060b8" opacity="0.6"/><circle cx="222.6" cy="154.1" r="0.4" fill="#5060b8" opacity="0.6"/><circle cx="221.2" cy="153.8" r="0.4" fill="#5060b8" opacity="0.6"/><circle cx="220.4" cy="157.2" r="0.4" fill="#5060b8" opacity="0.6"/><circle cx="216.3" cy="152.4" r="0.4" fill="#5060b8" opacity="0.6"/><circle cx="219.2" cy="154.5" r="0.4" fill="#5060b8" opacity="0.6"/><circle cx="216.8" cy="151.4" r="0.4" fill="#5060b8" opacity="0.6"/><circle cx="217.1" cy="153.9" r="0.4" fill="#5060b8" opacity="0.6"/><circle cx="217.2" cy="156.5" r="0.4" fill="#5060b8" opacity="0.6"/><circle cx="218.9" cy="155.7" r="0.4" fill="#5060b8" opacity="0.6"/><circle cx="221.8" cy="155.8" r="0.4" fill="#5060b8" opacity="0.6"/><circle cx="218.0" cy="155.8" r="0.4" fill="#5060b8" opacity="0.6"/><circle cx="219.4" cy="155.2" r="0.4" fill="#5060b8" opacity="0.6"/>
<rect x="213.50" y="150.40" width="14.20" height="8.90" fill="none" stroke="#333" stroke-width="0.6" />
<rect x="208.20" y="161.50" width="20.40" height="11.10" fill="none" stroke="#333" stroke-width="0.6" />
<text x="239.70" y="144.20" font-size="4.4" fill="#222" stroke="#222" stroke-width="0.2" text-anchor="end">Cont.</text>
<text x="230.20" y="156.45" font-size="4.2" fill="#222" stroke="#222" stroke-width="0.2">P8</text>
<text x="230.20" y="168.65" font-size="4.2" fill="#222" stroke="#222" stroke-width="0.2">P6</text>
<text x="189.90" y="144.50" font-size="3.2" fill="#333" stroke="#333" stroke-width="0.08" text-anchor="end">10</text>
<text x="190.90" y="143.00" font-size="2.2" fill="#333" stroke="#333" stroke-width="0.05" text-anchor="end">3</text>
<text x="189.90" y="153.30" font-size="3.2" fill="#333" stroke="#333" stroke-width="0.08" text-anchor="end">10</text>
<text x="190.90" y="151.80" font-size="2.2" fill="#333" stroke="#333" stroke-width="0.05" text-anchor="end">2</text>
<text x="189.90" y="161.30" font-size="3.2" fill="#333" stroke="#333" stroke-width="0.08" text-anchor="end">10</text>
<text x="190.90" y="159.80" font-size="2.2" fill="#333" stroke="#333" stroke-width="0.05" text-anchor="end">1</text>
<text x="189.90" y="169.50" font-size="3.2" fill="#333" stroke="#333" stroke-width="0.08" text-anchor="end">10</text>
<text x="190.90" y="168.00" font-size="2.2" fill="#333" stroke="#333" stroke-width="0.05" text-anchor="end">0</text>
<text x="183.60" y="156.95" font-size="4.2" fill="#222" stroke="#222" stroke-width="0.2" text-anchor="middle" transform="rotate(-90 183.60 156.95)">c-kit</text>
<text x="196.90" y="179.50" font-size="3.2" fill="#333" stroke="#333" stroke-width="0.08" text-anchor="middle">10</text>
<text x="199.70" y="177.90" font-size="2.2" fill="#333" stroke="#333" stroke-width="0.05" text-anchor="middle">0</text>
<text x="209.40" y="179.50" font-size="3.2" fill="#333" stroke="#333" stroke-width="0.08" text-anchor="middle">10</text>
<text x="212.20" y="177.90" font-size="2.2" fill="#333" stroke="#333" stroke-width="0.05" text-anchor="middle">1</text>
<text x="221.40" y="179.50" font-size="3.2" fill="#333" stroke="#333" stroke-width="0.08" text-anchor="middle">10</text>
<text x="224.20" y="177.90" font-size="2.2" fill="#333" stroke="#333" stroke-width="0.05" text-anchor="middle">2</text>
<text x="233.40" y="179.50" font-size="3.2" fill="#333" stroke="#333" stroke-width="0.08" text-anchor="middle">10</text>
<text x="236.20" y="177.90" font-size="2.2" fill="#333" stroke="#333" stroke-width="0.05" text-anchor="middle">3</text>
<rect x="191.50" y="182.20" width="49.70" height="34.40" fill="#fff" stroke="#555" stroke-width="0.6" />
<path d="M192.0 193.0 L214.0 192.5 L218.0 195.5 L214.0 199.0 L209.0 204.0 L206.0 210.0 L204.5 216.3 L192.0 216.3 Z" fill="#6070c0" opacity="0.35" filter="url(#blur1)"/><path d="M192.0 194.6 L205.0 194.2 L213.5 193.8 L215.5 196.0 L212.0 198.5 L206.0 203.0 L202.5 210.0 L200.0 216.3 L192.0 216.3 Z" fill="#1b2a8e" opacity="0.95" filter="url(#blur1)"/><circle cx="218.8" cy="214.9" r="0.42" fill="#3a4ab0" opacity="0.5"/><circle cx="193.6" cy="194.3" r="0.42" fill="#3a4ab0" opacity="0.5"/><circle cx="215.4" cy="209.8" r="0.42" fill="#3a4ab0" opacity="0.5"/><circle cx="210.8" cy="199.6" r="0.42" fill="#3a4ab0" opacity="0.5"/><circle cx="209.0" cy="206.7" r="0.42" fill="#3a4ab0" opacity="0.5"/><circle cx="208.3" cy="196.1" r="0.42" fill="#3a4ab0" opacity="0.5"/><circle cx="204.1" cy="201.7" r="0.42" fill="#3a4ab0" opacity="0.5"/><circle cx="212.2" cy="216.0" r="0.42" fill="#3a4ab0" opacity="0.5"/><circle cx="218.6" cy="205.3" r="0.42" fill="#3a4ab0" opacity="0.5"/><circle cx="204.5" cy="198.7" r="0.42" fill="#3a4ab0" opacity="0.5"/><circle cx="193.0" cy="193.0" r="0.42" fill="#3a4ab0" opacity="0.5"/><circle cx="205.0" cy="199.9" r="0.42" fill="#3a4ab0" opacity="0.5"/><circle cx="202.6" cy="213.5" r="0.42" fill="#3a4ab0" opacity="0.5"/><circle cx="206.7" cy="205.6" r="0.42" fill="#3a4ab0" opacity="0.5"/><circle cx="198.6" cy="192.9" r="0.42" fill="#3a4ab0" opacity="0.5"/><circle cx="201.1" cy="195.6" r="0.42" fill="#3a4ab0" opacity="0.5"/><circle cx="206.3" cy="216.1" r="0.42" fill="#3a4ab0" opacity="0.5"/><circle cx="210.9" cy="196.6" r="0.42" fill="#3a4ab0" opacity="0.5"/><circle cx="217.0" cy="211.3" r="0.42" fill="#3a4ab0" opacity="0.5"/><circle cx="212.6" cy="213.9" r="0.42" fill="#3a4ab0" opacity="0.5"/><circle cx="213.4" cy="211.1" r="0.42" fill="#3a4ab0" opacity="0.5"/><circle cx="201.9" cy="215.6" r="0.42" fill="#3a4ab0" opacity="0.5"/><circle cx="218.9" cy="196.1" r="0.42" fill="#3a4ab0" opacity="0.5"/><circle cx="213.1" cy="209.3" r="0.42" fill="#3a4ab0" opacity="0.5"/><circle cx="204.9" cy="204.9" r="0.42" fill="#3a4ab0" opacity="0.5"/><circle cx="205.7" cy="214.3" r="0.42" fill="#3a4ab0" opacity="0.5"/><circle cx="206.0" cy="212.1" r="0.42" fill="#3a4ab0" opacity="0.5"/><circle cx="201.9" cy="213.3" r="0.42" fill="#3a4ab0" opacity="0.5"/><circle cx="217.2" cy="203.3" r="0.42" fill="#3a4ab0" opacity="0.5"/><circle cx="207.9" cy="214.2" r="0.42" fill="#3a4ab0" opacity="0.5"/><circle cx="212.3" cy="203.9" r="0.42" fill="#3a4ab0" opacity="0.5"/><circle cx="198.2" cy="200.0" r="0.42" fill="#3a4ab0" opacity="0.5"/><circle cx="211.6" cy="196.3" r="0.42" fill="#3a4ab0" opacity="0.5"/><circle cx="217.4" cy="198.7" r="0.42" fill="#3a4ab0" opacity="0.5"/><circle cx="217.5" cy="199.7" r="0.42" fill="#3a4ab0" opacity="0.5"/><circle cx="218.8" cy="209.1" r="0.42" fill="#3a4ab0" opacity="0.5"/><circle cx="206.1" cy="204.6" r="0.42" fill="#3a4ab0" opacity="0.5"/><circle cx="210.2" cy="206.3" r="0.42" fill="#3a4ab0" opacity="0.5"/><circle cx="200.7" cy="197.2" r="0.42" fill="#3a4ab0" opacity="0.5"/><circle cx="206.3" cy="214.5" r="0.42" fill="#3a4ab0" opacity="0.5"/><circle cx="209.5" cy="194.1" r="0.42" fill="#3a4ab0" opacity="0.5"/><circle cx="215.0" cy="209.6" r="0.42" fill="#3a4ab0" opacity="0.5"/><circle cx="217.4" cy="196.9" r="0.42" fill="#3a4ab0" opacity="0.5"/><circle cx="212.9" cy="193.7" r="0.42" fill="#3a4ab0" opacity="0.5"/><circle cx="210.3" cy="198.8" r="0.42" fill="#3a4ab0" opacity="0.5"/><circle cx="198.3" cy="213.1" r="0.42" fill="#3a4ab0" opacity="0.5"/><circle cx="195.0" cy="204.7" r="0.42" fill="#3a4ab0" opacity="0.5"/><circle cx="215.9" cy="198.1" r="0.42" fill="#3a4ab0" opacity="0.5"/><circle cx="197.9" cy="213.3" r="0.42" fill="#3a4ab0" opacity="0.5"/><circle cx="203.8" cy="209.4" r="0.42" fill="#3a4ab0" opacity="0.5"/><circle cx="192.9" cy="200.9" r="0.42" fill="#3a4ab0" opacity="0.5"/><circle cx="196.8" cy="208.3" r="0.42" fill="#3a4ab0" opacity="0.5"/><circle cx="194.3" cy="215.0" r="0.42" fill="#3a4ab0" opacity="0.5"/><circle cx="192.7" cy="209.7" r="0.42" fill="#3a4ab0" opacity="0.5"/><circle cx="192.6" cy="198.4" r="0.42" fill="#3a4ab0" opacity="0.5"/><circle cx="214.8" cy="196.0" r="0.42" fill="#3a4ab0" opacity="0.5"/><circle cx="197.1" cy="208.8" r="0.42" fill="#3a4ab0" opacity="0.5"/><circle cx="202.8" cy="193.3" r="0.42" fill="#3a4ab0" opacity="0.5"/><circle cx="219.7" cy="195.9" r="0.42" fill="#3a4ab0" opacity="0.5"/><circle cx="193.0" cy="200.5" r="0.42" fill="#3a4ab0" opacity="0.5"/><circle cx="209.2" cy="210.0" r="0.42" fill="#3a4ab0" opacity="0.5"/><circle cx="195.2" cy="200.3" r="0.42" fill="#3a4ab0" opacity="0.5"/><circle cx="192.9" cy="203.0" r="0.42" fill="#3a4ab0" opacity="0.5"/><circle cx="213.4" cy="209.9" r="0.42" fill="#3a4ab0" opacity="0.5"/><circle cx="217.3" cy="210.3" r="0.42" fill="#3a4ab0" opacity="0.5"/><circle cx="216.1" cy="209.1" r="0.42" fill="#3a4ab0" opacity="0.5"/><circle cx="205.2" cy="197.7" r="0.42" fill="#3a4ab0" opacity="0.5"/><circle cx="210.5" cy="199.8" r="0.42" fill="#3a4ab0" opacity="0.5"/><circle cx="194.9" cy="203.0" r="0.42" fill="#3a4ab0" opacity="0.5"/><circle cx="216.5" cy="195.3" r="0.42" fill="#3a4ab0" opacity="0.5"/><circle cx="208.4" cy="201.7" r="0.42" fill="#3a4ab0" opacity="0.5"/><circle cx="206.4" cy="195.7" r="0.42" fill="#3a4ab0" opacity="0.5"/><circle cx="218.9" cy="198.5" r="0.42" fill="#3a4ab0" opacity="0.5"/><circle cx="209.0" cy="202.3" r="0.42" fill="#3a4ab0" opacity="0.5"/><circle cx="192.5" cy="205.6" r="0.42" fill="#3a4ab0" opacity="0.5"/><circle cx="195.9" cy="193.7" r="0.42" fill="#3a4ab0" opacity="0.5"/><circle cx="192.9" cy="196.1" r="0.42" fill="#3a4ab0" opacity="0.5"/><circle cx="194.7" cy="207.4" r="0.42" fill="#3a4ab0" opacity="0.5"/><circle cx="206.2" cy="215.7" r="0.42" fill="#3a4ab0" opacity="0.5"/><circle cx="218.2" cy="216.0" r="0.42" fill="#3a4ab0" opacity="0.5"/><circle cx="198.5" cy="202.9" r="0.42" fill="#3a4ab0" opacity="0.5"/><circle cx="199.0" cy="206.4" r="0.42" fill="#3a4ab0" opacity="0.5"/><circle cx="209.5" cy="211.3" r="0.42" fill="#3a4ab0" opacity="0.5"/><circle cx="211.9" cy="198.4" r="0.42" fill="#3a4ab0" opacity="0.5"/><circle cx="203.8" cy="204.8" r="0.42" fill="#3a4ab0" opacity="0.5"/><circle cx="192.1" cy="193.1" r="0.42" fill="#3a4ab0" opacity="0.5"/><circle cx="203.4" cy="194.9" r="0.42" fill="#3a4ab0" opacity="0.5"/><circle cx="212.3" cy="198.0" r="0.42" fill="#3a4ab0" opacity="0.5"/><circle cx="194.8" cy="196.6" r="0.42" fill="#3a4ab0" opacity="0.5"/><circle cx="198.5" cy="197.5" r="0.42" fill="#3a4ab0" opacity="0.5"/><circle cx="206.6" cy="203.4" r="0.42" fill="#3a4ab0" opacity="0.5"/><circle cx="200.7" cy="207.6" r="0.42" fill="#3a4ab0" opacity="0.5"/><circle cx="197.9" cy="213.9" r="0.42" fill="#3a4ab0" opacity="0.5"/><circle cx="219.0" cy="209.6" r="0.42" fill="#3a4ab0" opacity="0.5"/><circle cx="204.1" cy="204.5" r="0.42" fill="#3a4ab0" opacity="0.5"/><circle cx="208.3" cy="193.5" r="0.42" fill="#3a4ab0" opacity="0.5"/><circle cx="203.7" cy="204.8" r="0.42" fill="#3a4ab0" opacity="0.5"/><circle cx="197.1" cy="194.5" r="0.42" fill="#3a4ab0" opacity="0.5"/><circle cx="214.5" cy="201.0" r="0.42" fill="#3a4ab0" opacity="0.5"/><circle cx="206.5" cy="214.2" r="0.42" fill="#3a4ab0" opacity="0.5"/><circle cx="209.1" cy="199.2" r="0.42" fill="#3a4ab0" opacity="0.5"/><circle cx="219.5" cy="201.2" r="0.42" fill="#3a4ab0" opacity="0.5"/><circle cx="192.5" cy="208.6" r="0.42" fill="#3a4ab0" opacity="0.5"/><circle cx="194.8" cy="199.6" r="0.42" fill="#3a4ab0" opacity="0.5"/><circle cx="215.5" cy="208.3" r="0.42" fill="#3a4ab0" opacity="0.5"/><circle cx="192.4" cy="203.0" r="0.42" fill="#3a4ab0" opacity="0.5"/><circle cx="203.5" cy="203.9" r="0.42" fill="#3a4ab0" opacity="0.5"/><circle cx="197.8" cy="206.3" r="0.42" fill="#3a4ab0" opacity="0.5"/><circle cx="194.1" cy="199.1" r="0.42" fill="#3a4ab0" opacity="0.5"/><circle cx="202.4" cy="214.6" r="0.42" fill="#3a4ab0" opacity="0.5"/><circle cx="194.1" cy="210.3" r="0.42" fill="#3a4ab0" opacity="0.5"/><circle cx="197.4" cy="205.9" r="0.42" fill="#3a4ab0" opacity="0.5"/><circle cx="203.0" cy="203.3" r="0.42" fill="#3a4ab0" opacity="0.5"/><circle cx="213.1" cy="201.7" r="0.42" fill="#3a4ab0" opacity="0.5"/><circle cx="195.4" cy="195.2" r="0.42" fill="#3a4ab0" opacity="0.5"/><circle cx="194.3" cy="212.5" r="0.42" fill="#3a4ab0" opacity="0.5"/><circle cx="209.9" cy="215.1" r="0.42" fill="#3a4ab0" opacity="0.5"/><circle cx="211.4" cy="192.9" r="0.42" fill="#3a4ab0" opacity="0.5"/><circle cx="210.5" cy="210.8" r="0.42" fill="#3a4ab0" opacity="0.5"/><circle cx="212.3" cy="204.2" r="0.42" fill="#3a4ab0" opacity="0.5"/><circle cx="202.0" cy="203.2" r="0.42" fill="#3a4ab0" opacity="0.5"/><circle cx="214.4" cy="198.7" r="0.42" fill="#3a4ab0" opacity="0.5"/><circle cx="206.7" cy="203.7" r="0.42" fill="#3a4ab0" opacity="0.5"/><circle cx="218.7" cy="211.4" r="0.42" fill="#3a4ab0" opacity="0.5"/><circle cx="218.1" cy="212.2" r="0.42" fill="#3a4ab0" opacity="0.5"/><circle cx="200.3" cy="197.8" r="0.42" fill="#3a4ab0" opacity="0.5"/><circle cx="205.7" cy="198.5" r="0.42" fill="#3a4ab0" opacity="0.5"/><circle cx="204.0" cy="208.5" r="0.42" fill="#3a4ab0" opacity="0.5"/><circle cx="217.7" cy="206.2" r="0.42" fill="#3a4ab0" opacity="0.5"/><circle cx="214.9" cy="194.6" r="0.42" fill="#3a4ab0" opacity="0.5"/><circle cx="202.0" cy="216.0" r="0.42" fill="#3a4ab0" opacity="0.5"/><circle cx="196.1" cy="202.2" r="0.42" fill="#3a4ab0" opacity="0.5"/><circle cx="193.9" cy="194.4" r="0.42" fill="#3a4ab0" opacity="0.5"/><circle cx="217.1" cy="215.8" r="0.42" fill="#3a4ab0" opacity="0.5"/><circle cx="210.1" cy="195.4" r="0.42" fill="#3a4ab0" opacity="0.5"/><circle cx="200.3" cy="197.8" r="0.42" fill="#3a4ab0" opacity="0.5"/><circle cx="210.8" cy="208.5" r="0.42" fill="#3a4ab0" opacity="0.5"/><circle cx="204.3" cy="204.8" r="0.42" fill="#3a4ab0" opacity="0.5"/><circle cx="195.1" cy="205.2" r="0.42" fill="#3a4ab0" opacity="0.5"/><circle cx="218.6" cy="210.3" r="0.42" fill="#3a4ab0" opacity="0.5"/><circle cx="194.7" cy="204.6" r="0.42" fill="#3a4ab0" opacity="0.5"/><circle cx="212.0" cy="198.4" r="0.42" fill="#3a4ab0" opacity="0.5"/><circle cx="217.1" cy="203.3" r="0.42" fill="#3a4ab0" opacity="0.5"/><circle cx="211.7" cy="201.9" r="0.42" fill="#3a4ab0" opacity="0.5"/><circle cx="219.9" cy="210.9" r="0.42" fill="#3a4ab0" opacity="0.5"/><circle cx="208.1" cy="195.7" r="0.42" fill="#3a4ab0" opacity="0.5"/><circle cx="204.4" cy="193.0" r="0.42" fill="#3a4ab0" opacity="0.5"/><circle cx="208.7" cy="213.3" r="0.42" fill="#3a4ab0" opacity="0.5"/><circle cx="197.1" cy="204.4" r="0.42" fill="#3a4ab0" opacity="0.5"/><circle cx="205.5" cy="201.9" r="0.42" fill="#3a4ab0" opacity="0.5"/><circle cx="211.9" cy="214.6" r="0.42" fill="#3a4ab0" opacity="0.5"/><circle cx="211.8" cy="203.5" r="0.42" fill="#3a4ab0" opacity="0.5"/><circle cx="218.9" cy="200.2" r="0.42" fill="#3a4ab0" opacity="0.5"/><circle cx="212.9" cy="208.0" r="0.42" fill="#3a4ab0" opacity="0.5"/><circle cx="213.3" cy="212.6" r="0.42" fill="#3a4ab0" opacity="0.5"/><circle cx="198.3" cy="207.1" r="0.42" fill="#3a4ab0" opacity="0.5"/><circle cx="203.3" cy="208.2" r="0.42" fill="#3a4ab0" opacity="0.5"/><circle cx="219.4" cy="207.4" r="0.42" fill="#3a4ab0" opacity="0.5"/><circle cx="192.3" cy="203.4" r="0.42" fill="#3a4ab0" opacity="0.5"/><circle cx="211.9" cy="213.3" r="0.42" fill="#3a4ab0" opacity="0.5"/><circle cx="207.6" cy="193.3" r="0.4" fill="#8898e0" opacity="0.6"/><circle cx="192.4" cy="193.7" r="0.4" fill="#8898e0" opacity="0.6"/><circle cx="209.5" cy="192.8" r="0.4" fill="#8898e0" opacity="0.6"/><circle cx="213.7" cy="193.5" r="0.4" fill="#8898e0" opacity="0.6"/><circle cx="194.4" cy="193.3" r="0.4" fill="#8898e0" opacity="0.6"/><circle cx="210.4" cy="191.8" r="0.4" fill="#8898e0" opacity="0.6"/><circle cx="209.9" cy="192.8" r="0.4" fill="#8898e0" opacity="0.6"/><circle cx="196.6" cy="193.3" r="0.4" fill="#8898e0" opacity="0.6"/><circle cx="195.3" cy="192.8" r="0.4" fill="#8898e0" opacity="0.6"/><circle cx="202.4" cy="191.9" r="0.4" fill="#8898e0" opacity="0.6"/><circle cx="205.6" cy="192.5" r="0.4" fill="#8898e0" opacity="0.6"/><circle cx="196.9" cy="193.7" r="0.4" fill="#8898e0" opacity="0.6"/><circle cx="193.7" cy="191.3" r="0.4" fill="#8898e0" opacity="0.6"/><circle cx="203.7" cy="193.4" r="0.4" fill="#8898e0" opacity="0.6"/><circle cx="207.8" cy="193.2" r="0.4" fill="#8898e0" opacity="0.6"/><circle cx="198.8" cy="209.5" r="0.45" fill="#7a88d8" opacity="0.55"/><circle cx="196.7" cy="201.2" r="0.45" fill="#7a88d8" opacity="0.55"/><circle cx="199.0" cy="196.4" r="0.45" fill="#7a88d8" opacity="0.55"/><circle cx="193.1" cy="211.1" r="0.45" fill="#7a88d8" opacity="0.55"/><circle cx="194.4" cy="211.0" r="0.45" fill="#7a88d8" opacity="0.55"/><circle cx="203.0" cy="204.0" r="0.45" fill="#7a88d8" opacity="0.55"/><circle cx="201.4" cy="211.8" r="0.45" fill="#7a88d8" opacity="0.55"/><circle cx="204.1" cy="198.5" r="0.45" fill="#7a88d8" opacity="0.55"/><circle cx="194.3" cy="203.5" r="0.45" fill="#7a88d8" opacity="0.55"/><circle cx="198.5" cy="201.8" r="0.45" fill="#7a88d8" opacity="0.55"/><circle cx="192.1" cy="207.1" r="0.45" fill="#7a88d8" opacity="0.55"/><circle cx="205.5" cy="203.2" r="0.45" fill="#7a88d8" opacity="0.55"/><circle cx="199.5" cy="203.6" r="0.45" fill="#7a88d8" opacity="0.55"/><circle cx="198.2" cy="213.5" r="0.45" fill="#7a88d8" opacity="0.55"/><circle cx="196.3" cy="209.0" r="0.45" fill="#7a88d8" opacity="0.55"/><circle cx="198.8" cy="206.7" r="0.45" fill="#7a88d8" opacity="0.55"/><circle cx="204.8" cy="197.4" r="0.45" fill="#7a88d8" opacity="0.55"/><circle cx="203.5" cy="202.0" r="0.45" fill="#7a88d8" opacity="0.55"/><circle cx="201.0" cy="212.0" r="0.45" fill="#7a88d8" opacity="0.55"/><circle cx="201.1" cy="203.8" r="0.45" fill="#7a88d8" opacity="0.55"/><circle cx="203.8" cy="197.7" r="0.45" fill="#7a88d8" opacity="0.55"/><circle cx="200.9" cy="203.7" r="0.45" fill="#7a88d8" opacity="0.55"/><circle cx="199.4" cy="213.1" r="0.45" fill="#7a88d8" opacity="0.55"/><circle cx="203.2" cy="208.6" r="0.45" fill="#7a88d8" opacity="0.55"/><circle cx="196.3" cy="200.5" r="0.45" fill="#7a88d8" opacity="0.55"/><circle cx="198.4" cy="200.5" r="0.45" fill="#7a88d8" opacity="0.55"/><circle cx="195.9" cy="215.2" r="0.45" fill="#7a88d8" opacity="0.55"/><circle cx="193.6" cy="212.4" r="0.45" fill="#7a88d8" opacity="0.55"/><circle cx="197.3" cy="203.2" r="0.45" fill="#7a88d8" opacity="0.55"/><circle cx="196.5" cy="197.4" r="0.45" fill="#7a88d8" opacity="0.55"/><circle cx="198.4" cy="199.2" r="0.45" fill="#7a88d8" opacity="0.55"/><circle cx="198.2" cy="201.7" r="0.45" fill="#7a88d8" opacity="0.55"/><circle cx="204.5" cy="214.5" r="0.45" fill="#7a88d8" opacity="0.55"/><circle cx="198.2" cy="208.8" r="0.45" fill="#7a88d8" opacity="0.55"/><circle cx="205.0" cy="202.4" r="0.45" fill="#7a88d8" opacity="0.55"/><circle cx="193.4" cy="200.6" r="0.45" fill="#7a88d8" opacity="0.55"/><circle cx="194.7" cy="209.6" r="0.45" fill="#7a88d8" opacity="0.55"/><circle cx="197.2" cy="203.0" r="0.45" fill="#7a88d8" opacity="0.55"/><circle cx="203.1" cy="200.5" r="0.45" fill="#7a88d8" opacity="0.55"/><circle cx="203.3" cy="208.6" r="0.45" fill="#7a88d8" opacity="0.55"/><circle cx="197.6" cy="212.5" r="0.45" fill="#7a88d8" opacity="0.55"/><circle cx="196.8" cy="213.6" r="0.45" fill="#7a88d8" opacity="0.55"/><circle cx="205.0" cy="206.0" r="0.45" fill="#7a88d8" opacity="0.55"/><circle cx="201.7" cy="215.1" r="0.45" fill="#7a88d8" opacity="0.55"/><circle cx="202.4" cy="211.0" r="0.45" fill="#7a88d8" opacity="0.55"/><circle cx="204.2" cy="214.8" r="0.45" fill="#7a88d8" opacity="0.55"/><circle cx="202.5" cy="215.7" r="0.45" fill="#7a88d8" opacity="0.55"/><circle cx="196.1" cy="208.4" r="0.45" fill="#7a88d8" opacity="0.55"/><circle cx="201.4" cy="203.3" r="0.45" fill="#7a88d8" opacity="0.55"/><circle cx="197.5" cy="199.3" r="0.45" fill="#7a88d8" opacity="0.55"/><circle cx="205.4" cy="203.0" r="0.45" fill="#7a88d8" opacity="0.55"/><circle cx="198.7" cy="213.9" r="0.45" fill="#7a88d8" opacity="0.55"/><circle cx="194.6" cy="215.3" r="0.45" fill="#7a88d8" opacity="0.55"/><circle cx="193.8" cy="196.4" r="0.45" fill="#7a88d8" opacity="0.55"/><circle cx="196.9" cy="203.1" r="0.45" fill="#7a88d8" opacity="0.55"/><circle cx="204.8" cy="213.7" r="0.45" fill="#7a88d8" opacity="0.55"/><circle cx="202.7" cy="204.7" r="0.45" fill="#7a88d8" opacity="0.55"/><circle cx="199.6" cy="200.6" r="0.45" fill="#7a88d8" opacity="0.55"/><circle cx="203.7" cy="203.7" r="0.45" fill="#7a88d8" opacity="0.55"/><circle cx="196.0" cy="208.7" r="0.45" fill="#7a88d8" opacity="0.55"/><circle cx="211.8" cy="207.6" r="0.4" fill="#5060b8" opacity="0.6"/><circle cx="223.4" cy="205.7" r="0.4" fill="#5060b8" opacity="0.6"/><circle cx="211.6" cy="206.6" r="0.4" fill="#5060b8" opacity="0.6"/><circle cx="213.3" cy="208.6" r="0.4" fill="#5060b8" opacity="0.6"/><circle cx="213.3" cy="207.9" r="0.4" fill="#5060b8" opacity="0.6"/><circle cx="213.2" cy="207.0" r="0.4" fill="#5060b8" opacity="0.6"/><circle cx="218.7" cy="207.8" r="0.4" fill="#5060b8" opacity="0.6"/><circle cx="215.1" cy="211.7" r="0.4" fill="#5060b8" opacity="0.6"/><circle cx="210.4" cy="206.1" r="0.4" fill="#5060b8" opacity="0.6"/><circle cx="222.3" cy="208.7" r="0.4" fill="#5060b8" opacity="0.6"/><circle cx="221.2" cy="206.0" r="0.4" fill="#5060b8" opacity="0.6"/><circle cx="217.3" cy="212.4" r="0.4" fill="#5060b8" opacity="0.6"/><circle cx="214.6" cy="211.7" r="0.4" fill="#5060b8" opacity="0.6"/><circle cx="218.7" cy="208.4" r="0.4" fill="#5060b8" opacity="0.6"/><circle cx="224.5" cy="208.3" r="0.4" fill="#5060b8" opacity="0.6"/><circle cx="216.6" cy="210.4" r="0.4" fill="#5060b8" opacity="0.6"/><circle cx="214.3" cy="212.3" r="0.4" fill="#5060b8" opacity="0.6"/><circle cx="218.5" cy="210.1" r="0.4" fill="#5060b8" opacity="0.6"/><circle cx="217.6" cy="213.7" r="0.4" fill="#5060b8" opacity="0.6"/><circle cx="224.3" cy="212.4" r="0.4" fill="#5060b8" opacity="0.6"/><circle cx="216.3" cy="208.5" r="0.4" fill="#5060b8" opacity="0.6"/><circle cx="217.4" cy="205.2" r="0.4" fill="#5060b8" opacity="0.6"/><circle cx="211.1" cy="213.8" r="0.4" fill="#5060b8" opacity="0.6"/><circle cx="211.4" cy="213.2" r="0.4" fill="#5060b8" opacity="0.6"/><circle cx="219.7" cy="213.0" r="0.4" fill="#5060b8" opacity="0.6"/><circle cx="214.3" cy="195.1" r="0.4" fill="#5060b8" opacity="0.6"/><circle cx="221.5" cy="193.4" r="0.4" fill="#5060b8" opacity="0.6"/><circle cx="214.6" cy="195.3" r="0.4" fill="#5060b8" opacity="0.6"/><circle cx="215.2" cy="194.2" r="0.4" fill="#5060b8" opacity="0.6"/><circle cx="220.2" cy="193.9" r="0.4" fill="#5060b8" opacity="0.6"/><circle cx="223.2" cy="197.0" r="0.4" fill="#5060b8" opacity="0.6"/><circle cx="214.0" cy="198.3" r="0.4" fill="#5060b8" opacity="0.6"/><circle cx="215.9" cy="196.0" r="0.4" fill="#5060b8" opacity="0.6"/><circle cx="219.1" cy="194.2" r="0.4" fill="#5060b8" opacity="0.6"/><circle cx="218.5" cy="193.7" r="0.4" fill="#5060b8" opacity="0.6"/><circle cx="215.5" cy="198.5" r="0.4" fill="#5060b8" opacity="0.6"/><circle cx="221.7" cy="196.3" r="0.4" fill="#5060b8" opacity="0.6"/>
<rect x="213.50" y="192.40" width="15.00" height="8.50" fill="none" stroke="#333" stroke-width="0.6" />
<rect x="208.50" y="203.80" width="20.00" height="11.00" fill="none" stroke="#333" stroke-width="0.6" />
<text x="239.70" y="186.70" font-size="4.4" fill="#222" stroke="#222" stroke-width="0.2" text-anchor="end">Line 6</text>
<text x="230.20" y="198.25" font-size="4.2" fill="#222" stroke="#222" stroke-width="0.2">P8</text>
<text x="230.20" y="210.90" font-size="4.2" fill="#222" stroke="#222" stroke-width="0.2">P6</text>
<text x="189.90" y="187.00" font-size="3.2" fill="#333" stroke="#333" stroke-width="0.08" text-anchor="end">10</text>
<text x="190.90" y="185.50" font-size="2.2" fill="#333" stroke="#333" stroke-width="0.05" text-anchor="end">3</text>
<text x="189.90" y="195.80" font-size="3.2" fill="#333" stroke="#333" stroke-width="0.08" text-anchor="end">10</text>
<text x="190.90" y="194.30" font-size="2.2" fill="#333" stroke="#333" stroke-width="0.05" text-anchor="end">2</text>
<text x="189.90" y="203.80" font-size="3.2" fill="#333" stroke="#333" stroke-width="0.08" text-anchor="end">10</text>
<text x="190.90" y="202.30" font-size="2.2" fill="#333" stroke="#333" stroke-width="0.05" text-anchor="end">1</text>
<text x="189.90" y="212.00" font-size="3.2" fill="#333" stroke="#333" stroke-width="0.08" text-anchor="end">10</text>
<text x="190.90" y="210.50" font-size="2.2" fill="#333" stroke="#333" stroke-width="0.05" text-anchor="end">0</text>
<text x="183.60" y="199.40" font-size="4.2" fill="#222" stroke="#222" stroke-width="0.2" text-anchor="middle" transform="rotate(-90 183.60 199.40)">c-kit</text>
<text x="196.90" y="221.50" font-size="3.2" fill="#333" stroke="#333" stroke-width="0.08" text-anchor="middle">10</text>
<text x="199.70" y="219.90" font-size="2.2" fill="#333" stroke="#333" stroke-width="0.05" text-anchor="middle">0</text>
<text x="209.40" y="221.50" font-size="3.2" fill="#333" stroke="#333" stroke-width="0.08" text-anchor="middle">10</text>
<text x="212.20" y="219.90" font-size="2.2" fill="#333" stroke="#333" stroke-width="0.05" text-anchor="middle">1</text>
<text x="221.40" y="221.50" font-size="3.2" fill="#333" stroke="#333" stroke-width="0.08" text-anchor="middle">10</text>
<text x="224.20" y="219.90" font-size="2.2" fill="#333" stroke="#333" stroke-width="0.05" text-anchor="middle">2</text>
<text x="233.40" y="221.50" font-size="3.2" fill="#333" stroke="#333" stroke-width="0.08" text-anchor="middle">10</text>
<text x="236.20" y="219.90" font-size="2.2" fill="#333" stroke="#333" stroke-width="0.05" text-anchor="middle">3</text>
<rect x="191.50" y="223.60" width="49.70" height="35.00" fill="#fff" stroke="#555" stroke-width="0.6" />
<path d="M192.0 233.0 L216.0 233.2 L220.0 236.5 L213.0 241.0 L207.0 246.0 L205.0 252.0 L204.0 258.3 L192.0 258.3 Z" fill="#6070c0" opacity="0.35" filter="url(#blur1)"/><path d="M192.0 234.4 L205.0 234.0 L215.0 235.3 L217.5 237.8 L210.0 239.8 L204.0 243.0 L201.5 250.0 L199.0 258.3 L192.0 258.3 Z" fill="#1b2a8e" opacity="0.78" filter="url(#blur1)"/><circle cx="198.7" cy="246.4" r="0.42" fill="#3a4ab0" opacity="0.5"/><circle cx="202.4" cy="248.0" r="0.42" fill="#3a4ab0" opacity="0.5"/><circle cx="209.5" cy="234.2" r="0.42" fill="#3a4ab0" opacity="0.5"/><circle cx="192.4" cy="253.9" r="0.42" fill="#3a4ab0" opacity="0.5"/><circle cx="199.3" cy="238.5" r="0.42" fill="#3a4ab0" opacity="0.5"/><circle cx="219.9" cy="244.5" r="0.42" fill="#3a4ab0" opacity="0.5"/><circle cx="215.4" cy="244.7" r="0.42" fill="#3a4ab0" opacity="0.5"/><circle cx="209.9" cy="236.4" r="0.42" fill="#3a4ab0" opacity="0.5"/><circle cx="209.8" cy="254.7" r="0.42" fill="#3a4ab0" opacity="0.5"/><circle cx="206.6" cy="251.5" r="0.42" fill="#3a4ab0" opacity="0.5"/><circle cx="210.8" cy="234.1" r="0.42" fill="#3a4ab0" opacity="0.5"/><circle cx="213.2" cy="247.6" r="0.42" fill="#3a4ab0" opacity="0.5"/><circle cx="200.4" cy="233.3" r="0.42" fill="#3a4ab0" opacity="0.5"/><circle cx="216.2" cy="244.6" r="0.42" fill="#3a4ab0" opacity="0.5"/><circle cx="212.1" cy="255.0" r="0.42" fill="#3a4ab0" opacity="0.5"/><circle cx="212.0" cy="256.1" r="0.42" fill="#3a4ab0" opacity="0.5"/><circle cx="203.1" cy="253.0" r="0.42" fill="#3a4ab0" opacity="0.5"/><circle cx="204.4" cy="256.5" r="0.42" fill="#3a4ab0" opacity="0.5"/><circle cx="216.6" cy="235.0" r="0.42" fill="#3a4ab0" opacity="0.5"/><circle cx="195.8" cy="238.1" r="0.42" fill="#3a4ab0" opacity="0.5"/><circle cx="219.0" cy="243.7" r="0.42" fill="#3a4ab0" opacity="0.5"/><circle cx="209.5" cy="240.2" r="0.42" fill="#3a4ab0" opacity="0.5"/><circle cx="206.2" cy="242.4" r="0.42" fill="#3a4ab0" opacity="0.5"/><circle cx="201.8" cy="247.5" r="0.42" fill="#3a4ab0" opacity="0.5"/><circle cx="208.4" cy="255.6" r="0.42" fill="#3a4ab0" opacity="0.5"/><circle cx="211.1" cy="256.3" r="0.42" fill="#3a4ab0" opacity="0.5"/><circle cx="216.0" cy="257.9" r="0.42" fill="#3a4ab0" opacity="0.5"/><circle cx="210.8" cy="236.7" r="0.42" fill="#3a4ab0" opacity="0.5"/><circle cx="216.1" cy="257.2" r="0.42" fill="#3a4ab0" opacity="0.5"/><circle cx="217.3" cy="247.1" r="0.42" fill="#3a4ab0" opacity="0.5"/><circle cx="212.0" cy="237.9" r="0.42" fill="#3a4ab0" opacity="0.5"/><circle cx="215.3" cy="247.2" r="0.42" fill="#3a4ab0" opacity="0.5"/><circle cx="200.0" cy="234.1" r="0.42" fill="#3a4ab0" opacity="0.5"/><circle cx="215.9" cy="257.8" r="0.42" fill="#3a4ab0" opacity="0.5"/><circle cx="194.5" cy="253.0" r="0.42" fill="#3a4ab0" opacity="0.5"/><circle cx="203.5" cy="236.4" r="0.42" fill="#3a4ab0" opacity="0.5"/><circle cx="200.2" cy="252.2" r="0.42" fill="#3a4ab0" opacity="0.5"/><circle cx="216.4" cy="233.6" r="0.42" fill="#3a4ab0" opacity="0.5"/><circle cx="209.2" cy="233.7" r="0.42" fill="#3a4ab0" opacity="0.5"/><circle cx="212.1" cy="241.0" r="0.42" fill="#3a4ab0" opacity="0.5"/><circle cx="216.7" cy="257.6" r="0.42" fill="#3a4ab0" opacity="0.5"/><circle cx="206.2" cy="258.1" r="0.42" fill="#3a4ab0" opacity="0.5"/><circle cx="200.7" cy="234.5" r="0.42" fill="#3a4ab0" opacity="0.5"/><circle cx="208.8" cy="233.3" r="0.42" fill="#3a4ab0" opacity="0.5"/><circle cx="197.5" cy="242.9" r="0.42" fill="#3a4ab0" opacity="0.5"/><circle cx="209.1" cy="236.5" r="0.42" fill="#3a4ab0" opacity="0.5"/><circle cx="193.2" cy="254.7" r="0.42" fill="#3a4ab0" opacity="0.5"/><circle cx="200.8" cy="257.0" r="0.42" fill="#3a4ab0" opacity="0.5"/><circle cx="217.1" cy="242.2" r="0.42" fill="#3a4ab0" opacity="0.5"/><circle cx="204.9" cy="245.8" r="0.42" fill="#3a4ab0" opacity="0.5"/><circle cx="210.0" cy="247.7" r="0.42" fill="#3a4ab0" opacity="0.5"/><circle cx="207.7" cy="248.4" r="0.42" fill="#3a4ab0" opacity="0.5"/><circle cx="218.3" cy="245.5" r="0.42" fill="#3a4ab0" opacity="0.5"/><circle cx="204.1" cy="250.9" r="0.42" fill="#3a4ab0" opacity="0.5"/><circle cx="198.7" cy="240.2" r="0.42" fill="#3a4ab0" opacity="0.5"/><circle cx="219.4" cy="245.8" r="0.42" fill="#3a4ab0" opacity="0.5"/><circle cx="207.4" cy="232.8" r="0.42" fill="#3a4ab0" opacity="0.5"/><circle cx="203.6" cy="247.3" r="0.42" fill="#3a4ab0" opacity="0.5"/><circle cx="192.6" cy="248.3" r="0.42" fill="#3a4ab0" opacity="0.5"/><circle cx="209.7" cy="234.0" r="0.42" fill="#3a4ab0" opacity="0.5"/><circle cx="209.6" cy="244.4" r="0.42" fill="#3a4ab0" opacity="0.5"/><circle cx="211.0" cy="241.5" r="0.42" fill="#3a4ab0" opacity="0.5"/><circle cx="211.8" cy="251.4" r="0.42" fill="#3a4ab0" opacity="0.5"/><circle cx="192.6" cy="234.1" r="0.42" fill="#3a4ab0" opacity="0.5"/><circle cx="210.9" cy="257.2" r="0.42" fill="#3a4ab0" opacity="0.5"/><circle cx="199.0" cy="244.2" r="0.42" fill="#3a4ab0" opacity="0.5"/><circle cx="208.6" cy="240.7" r="0.42" fill="#3a4ab0" opacity="0.5"/><circle cx="202.2" cy="240.5" r="0.42" fill="#3a4ab0" opacity="0.5"/><circle cx="202.3" cy="247.7" r="0.42" fill="#3a4ab0" opacity="0.5"/><circle cx="200.4" cy="242.2" r="0.42" fill="#3a4ab0" opacity="0.5"/><circle cx="213.6" cy="233.2" r="0.42" fill="#3a4ab0" opacity="0.5"/><circle cx="207.9" cy="251.3" r="0.42" fill="#3a4ab0" opacity="0.5"/><circle cx="200.7" cy="238.2" r="0.42" fill="#3a4ab0" opacity="0.5"/><circle cx="214.5" cy="238.6" r="0.42" fill="#3a4ab0" opacity="0.5"/><circle cx="197.2" cy="243.6" r="0.42" fill="#3a4ab0" opacity="0.5"/><circle cx="211.5" cy="235.1" r="0.42" fill="#3a4ab0" opacity="0.5"/><circle cx="201.0" cy="241.0" r="0.42" fill="#3a4ab0" opacity="0.5"/><circle cx="215.3" cy="243.7" r="0.42" fill="#3a4ab0" opacity="0.5"/><circle cx="216.0" cy="236.8" r="0.42" fill="#3a4ab0" opacity="0.5"/><circle cx="201.4" cy="249.1" r="0.42" fill="#3a4ab0" opacity="0.5"/><circle cx="216.8" cy="244.0" r="0.42" fill="#3a4ab0" opacity="0.5"/><circle cx="198.3" cy="235.6" r="0.42" fill="#3a4ab0" opacity="0.5"/><circle cx="206.8" cy="237.4" r="0.42" fill="#3a4ab0" opacity="0.5"/><circle cx="214.6" cy="254.0" r="0.42" fill="#3a4ab0" opacity="0.5"/><circle cx="197.1" cy="239.6" r="0.42" fill="#3a4ab0" opacity="0.5"/><circle cx="214.6" cy="248.9" r="0.42" fill="#3a4ab0" opacity="0.5"/><circle cx="214.6" cy="241.3" r="0.42" fill="#3a4ab0" opacity="0.5"/><circle cx="195.6" cy="240.0" r="0.42" fill="#3a4ab0" opacity="0.5"/><circle cx="214.2" cy="239.4" r="0.42" fill="#3a4ab0" opacity="0.5"/><circle cx="201.7" cy="243.2" r="0.42" fill="#3a4ab0" opacity="0.5"/><circle cx="203.8" cy="243.0" r="0.42" fill="#3a4ab0" opacity="0.5"/><circle cx="217.8" cy="236.5" r="0.42" fill="#3a4ab0" opacity="0.5"/><circle cx="192.1" cy="256.6" r="0.42" fill="#3a4ab0" opacity="0.5"/><circle cx="216.6" cy="257.8" r="0.42" fill="#3a4ab0" opacity="0.5"/><circle cx="204.2" cy="256.8" r="0.42" fill="#3a4ab0" opacity="0.5"/><circle cx="218.0" cy="238.2" r="0.42" fill="#3a4ab0" opacity="0.5"/><circle cx="212.9" cy="253.9" r="0.42" fill="#3a4ab0" opacity="0.5"/><circle cx="210.6" cy="245.8" r="0.42" fill="#3a4ab0" opacity="0.5"/><circle cx="200.1" cy="241.2" r="0.42" fill="#3a4ab0" opacity="0.5"/><circle cx="198.4" cy="234.2" r="0.42" fill="#3a4ab0" opacity="0.5"/><circle cx="208.5" cy="239.8" r="0.42" fill="#3a4ab0" opacity="0.5"/><circle cx="214.7" cy="233.7" r="0.42" fill="#3a4ab0" opacity="0.5"/><circle cx="217.3" cy="250.3" r="0.42" fill="#3a4ab0" opacity="0.5"/><circle cx="217.9" cy="255.5" r="0.42" fill="#3a4ab0" opacity="0.5"/><circle cx="217.2" cy="247.3" r="0.42" fill="#3a4ab0" opacity="0.5"/><circle cx="192.4" cy="251.6" r="0.42" fill="#3a4ab0" opacity="0.5"/><circle cx="196.8" cy="240.2" r="0.42" fill="#3a4ab0" opacity="0.5"/><circle cx="210.6" cy="245.9" r="0.42" fill="#3a4ab0" opacity="0.5"/><circle cx="203.6" cy="256.5" r="0.42" fill="#3a4ab0" opacity="0.5"/><circle cx="209.1" cy="241.2" r="0.42" fill="#3a4ab0" opacity="0.5"/><circle cx="199.1" cy="254.6" r="0.42" fill="#3a4ab0" opacity="0.5"/><circle cx="205.4" cy="252.5" r="0.42" fill="#3a4ab0" opacity="0.5"/><circle cx="201.9" cy="237.6" r="0.42" fill="#3a4ab0" opacity="0.5"/><circle cx="207.0" cy="253.4" r="0.42" fill="#3a4ab0" opacity="0.5"/><circle cx="196.8" cy="252.8" r="0.42" fill="#3a4ab0" opacity="0.5"/><circle cx="217.8" cy="253.1" r="0.42" fill="#3a4ab0" opacity="0.5"/><circle cx="215.1" cy="232.7" r="0.42" fill="#3a4ab0" opacity="0.5"/><circle cx="209.6" cy="254.6" r="0.42" fill="#3a4ab0" opacity="0.5"/><circle cx="193.4" cy="239.4" r="0.42" fill="#3a4ab0" opacity="0.5"/><circle cx="199.5" cy="246.0" r="0.42" fill="#3a4ab0" opacity="0.5"/><circle cx="203.8" cy="244.6" r="0.42" fill="#3a4ab0" opacity="0.5"/><circle cx="213.7" cy="232.5" r="0.42" fill="#3a4ab0" opacity="0.5"/><circle cx="193.5" cy="235.7" r="0.42" fill="#3a4ab0" opacity="0.5"/><circle cx="195.5" cy="234.3" r="0.42" fill="#3a4ab0" opacity="0.5"/><circle cx="219.3" cy="254.4" r="0.42" fill="#3a4ab0" opacity="0.5"/><circle cx="194.4" cy="245.4" r="0.42" fill="#3a4ab0" opacity="0.5"/><circle cx="200.8" cy="240.6" r="0.42" fill="#3a4ab0" opacity="0.5"/><circle cx="201.8" cy="249.1" r="0.42" fill="#3a4ab0" opacity="0.5"/><circle cx="208.4" cy="241.7" r="0.42" fill="#3a4ab0" opacity="0.5"/><circle cx="197.4" cy="240.9" r="0.42" fill="#3a4ab0" opacity="0.5"/><circle cx="195.5" cy="246.7" r="0.42" fill="#3a4ab0" opacity="0.5"/><circle cx="212.0" cy="242.2" r="0.42" fill="#3a4ab0" opacity="0.5"/><circle cx="194.2" cy="237.1" r="0.42" fill="#3a4ab0" opacity="0.5"/><circle cx="202.5" cy="248.0" r="0.42" fill="#3a4ab0" opacity="0.5"/><circle cx="213.9" cy="242.2" r="0.42" fill="#3a4ab0" opacity="0.5"/><circle cx="214.4" cy="248.4" r="0.42" fill="#3a4ab0" opacity="0.5"/><circle cx="204.1" cy="242.0" r="0.42" fill="#3a4ab0" opacity="0.5"/><circle cx="205.9" cy="250.5" r="0.42" fill="#3a4ab0" opacity="0.5"/><circle cx="203.8" cy="250.3" r="0.42" fill="#3a4ab0" opacity="0.5"/><circle cx="204.9" cy="238.8" r="0.42" fill="#3a4ab0" opacity="0.5"/><circle cx="207.0" cy="250.3" r="0.42" fill="#3a4ab0" opacity="0.5"/><circle cx="194.0" cy="243.4" r="0.42" fill="#3a4ab0" opacity="0.5"/><circle cx="203.9" cy="255.0" r="0.42" fill="#3a4ab0" opacity="0.5"/><circle cx="218.2" cy="242.1" r="0.42" fill="#3a4ab0" opacity="0.5"/><circle cx="217.1" cy="252.7" r="0.42" fill="#3a4ab0" opacity="0.5"/><circle cx="199.3" cy="244.4" r="0.42" fill="#3a4ab0" opacity="0.5"/><circle cx="195.4" cy="253.3" r="0.42" fill="#3a4ab0" opacity="0.5"/><circle cx="210.5" cy="255.2" r="0.42" fill="#3a4ab0" opacity="0.5"/><circle cx="214.2" cy="249.6" r="0.42" fill="#3a4ab0" opacity="0.5"/><circle cx="212.5" cy="246.9" r="0.42" fill="#3a4ab0" opacity="0.5"/><circle cx="194.9" cy="247.5" r="0.42" fill="#3a4ab0" opacity="0.5"/><circle cx="192.1" cy="236.2" r="0.42" fill="#3a4ab0" opacity="0.5"/><circle cx="213.7" cy="233.6" r="0.42" fill="#3a4ab0" opacity="0.5"/><circle cx="194.6" cy="235.0" r="0.42" fill="#3a4ab0" opacity="0.5"/><circle cx="216.7" cy="237.1" r="0.42" fill="#3a4ab0" opacity="0.5"/><circle cx="192.7" cy="254.0" r="0.42" fill="#3a4ab0" opacity="0.5"/><circle cx="195.4" cy="254.1" r="0.42" fill="#3a4ab0" opacity="0.5"/><circle cx="210.9" cy="253.9" r="0.42" fill="#3a4ab0" opacity="0.5"/><circle cx="218.7" cy="247.3" r="0.42" fill="#3a4ab0" opacity="0.5"/><circle cx="214.4" cy="233.4" r="0.42" fill="#3a4ab0" opacity="0.5"/><circle cx="210.4" cy="232.8" r="0.4" fill="#8898e0" opacity="0.6"/><circle cx="209.2" cy="231.8" r="0.4" fill="#8898e0" opacity="0.6"/><circle cx="210.0" cy="233.8" r="0.4" fill="#8898e0" opacity="0.6"/><circle cx="193.5" cy="232.3" r="0.4" fill="#8898e0" opacity="0.6"/><circle cx="205.5" cy="233.6" r="0.4" fill="#8898e0" opacity="0.6"/><circle cx="197.8" cy="231.9" r="0.4" fill="#8898e0" opacity="0.6"/><circle cx="198.0" cy="233.0" r="0.4" fill="#8898e0" opacity="0.6"/><circle cx="210.1" cy="232.5" r="0.4" fill="#8898e0" opacity="0.6"/><circle cx="200.8" cy="232.5" r="0.4" fill="#8898e0" opacity="0.6"/><circle cx="200.4" cy="232.5" r="0.4" fill="#8898e0" opacity="0.6"/><circle cx="194.0" cy="232.8" r="0.4" fill="#8898e0" opacity="0.6"/><circle cx="215.4" cy="232.5" r="0.4" fill="#8898e0" opacity="0.6"/><circle cx="209.9" cy="231.9" r="0.4" fill="#8898e0" opacity="0.6"/><circle cx="208.6" cy="233.4" r="0.4" fill="#8898e0" opacity="0.6"/><circle cx="208.2" cy="232.8" r="0.4" fill="#8898e0" opacity="0.6"/><circle cx="198.8" cy="250.2" r="0.45" fill="#7a88d8" opacity="0.55"/><circle cx="204.6" cy="239.3" r="0.45" fill="#7a88d8" opacity="0.55"/><circle cx="193.3" cy="252.5" r="0.45" fill="#7a88d8" opacity="0.55"/><circle cx="204.8" cy="247.4" r="0.45" fill="#7a88d8" opacity="0.55"/><circle cx="198.2" cy="251.9" r="0.45" fill="#7a88d8" opacity="0.55"/><circle cx="194.6" cy="241.9" r="0.45" fill="#7a88d8" opacity="0.55"/><circle cx="194.8" cy="248.9" r="0.45" fill="#7a88d8" opacity="0.55"/><circle cx="196.4" cy="241.1" r="0.45" fill="#7a88d8" opacity="0.55"/><circle cx="201.7" cy="257.1" r="0.45" fill="#7a88d8" opacity="0.55"/><circle cx="196.1" cy="251.6" r="0.45" fill="#7a88d8" opacity="0.55"/><circle cx="197.8" cy="254.9" r="0.45" fill="#7a88d8" opacity="0.55"/><circle cx="200.2" cy="241.9" r="0.45" fill="#7a88d8" opacity="0.55"/><circle cx="195.0" cy="236.5" r="0.45" fill="#7a88d8" opacity="0.55"/><circle cx="198.7" cy="244.5" r="0.45" fill="#7a88d8" opacity="0.55"/><circle cx="194.4" cy="244.0" r="0.45" fill="#7a88d8" opacity="0.55"/><circle cx="196.5" cy="253.1" r="0.45" fill="#7a88d8" opacity="0.55"/><circle cx="194.0" cy="257.9" r="0.45" fill="#7a88d8" opacity="0.55"/><circle cx="198.7" cy="249.2" r="0.45" fill="#7a88d8" opacity="0.55"/><circle cx="198.6" cy="254.4" r="0.45" fill="#7a88d8" opacity="0.55"/><circle cx="203.5" cy="248.3" r="0.45" fill="#7a88d8" opacity="0.55"/><circle cx="198.7" cy="251.9" r="0.45" fill="#7a88d8" opacity="0.55"/><circle cx="204.0" cy="244.8" r="0.45" fill="#7a88d8" opacity="0.55"/><circle cx="202.3" cy="257.2" r="0.45" fill="#7a88d8" opacity="0.55"/><circle cx="198.5" cy="241.1" r="0.45" fill="#7a88d8" opacity="0.55"/><circle cx="195.3" cy="251.9" r="0.45" fill="#7a88d8" opacity="0.55"/><circle cx="201.5" cy="257.2" r="0.45" fill="#7a88d8" opacity="0.55"/><circle cx="204.0" cy="241.4" r="0.45" fill="#7a88d8" opacity="0.55"/><circle cx="194.7" cy="241.7" r="0.45" fill="#7a88d8" opacity="0.55"/><circle cx="194.6" cy="251.6" r="0.45" fill="#7a88d8" opacity="0.55"/><circle cx="204.0" cy="255.9" r="0.45" fill="#7a88d8" opacity="0.55"/><circle cx="195.6" cy="255.1" r="0.45" fill="#7a88d8" opacity="0.55"/><circle cx="196.4" cy="245.4" r="0.45" fill="#7a88d8" opacity="0.55"/><circle cx="202.2" cy="237.9" r="0.45" fill="#7a88d8" opacity="0.55"/><circle cx="193.3" cy="254.4" r="0.45" fill="#7a88d8" opacity="0.55"/><circle cx="196.1" cy="243.9" r="0.45" fill="#7a88d8" opacity="0.55"/><circle cx="200.1" cy="250.9" r="0.45" fill="#7a88d8" opacity="0.55"/><circle cx="192.1" cy="243.4" r="0.45" fill="#7a88d8" opacity="0.55"/><circle cx="198.1" cy="246.7" r="0.45" fill="#7a88d8" opacity="0.55"/><circle cx="194.9" cy="248.9" r="0.45" fill="#7a88d8" opacity="0.55"/><circle cx="205.4" cy="244.6" r="0.45" fill="#7a88d8" opacity="0.55"/><circle cx="199.6" cy="238.6" r="0.45" fill="#7a88d8" opacity="0.55"/><circle cx="195.8" cy="250.7" r="0.45" fill="#7a88d8" opacity="0.55"/><circle cx="193.6" cy="255.6" r="0.45" fill="#7a88d8" opacity="0.55"/><circle cx="204.7" cy="238.1" r="0.45" fill="#7a88d8" opacity="0.55"/><circle cx="205.2" cy="244.3" r="0.45" fill="#7a88d8" opacity="0.55"/><circle cx="202.8" cy="252.7" r="0.45" fill="#7a88d8" opacity="0.55"/><circle cx="196.1" cy="250.9" r="0.45" fill="#7a88d8" opacity="0.55"/><circle cx="201.2" cy="253.8" r="0.45" fill="#7a88d8" opacity="0.55"/><circle cx="195.7" cy="252.7" r="0.45" fill="#7a88d8" opacity="0.55"/><circle cx="205.5" cy="250.9" r="0.45" fill="#7a88d8" opacity="0.55"/><circle cx="199.5" cy="238.5" r="0.45" fill="#7a88d8" opacity="0.55"/><circle cx="198.9" cy="243.8" r="0.45" fill="#7a88d8" opacity="0.55"/><circle cx="202.1" cy="251.0" r="0.45" fill="#7a88d8" opacity="0.55"/><circle cx="199.9" cy="240.0" r="0.45" fill="#7a88d8" opacity="0.55"/><circle cx="201.0" cy="249.9" r="0.45" fill="#7a88d8" opacity="0.55"/><circle cx="194.5" cy="255.7" r="0.45" fill="#7a88d8" opacity="0.55"/><circle cx="201.2" cy="238.7" r="0.45" fill="#7a88d8" opacity="0.55"/><circle cx="205.0" cy="239.1" r="0.45" fill="#7a88d8" opacity="0.55"/><circle cx="196.6" cy="251.9" r="0.45" fill="#7a88d8" opacity="0.55"/><circle cx="200.4" cy="248.3" r="0.45" fill="#7a88d8" opacity="0.55"/><circle cx="201.1" cy="246.1" r="0.45" fill="#7a88d8" opacity="0.55"/><circle cx="196.4" cy="239.9" r="0.45" fill="#7a88d8" opacity="0.55"/><circle cx="193.0" cy="251.8" r="0.45" fill="#7a88d8" opacity="0.55"/><circle cx="202.6" cy="248.0" r="0.45" fill="#7a88d8" opacity="0.55"/><circle cx="202.4" cy="243.9" r="0.45" fill="#7a88d8" opacity="0.55"/><circle cx="195.7" cy="244.5" r="0.45" fill="#7a88d8" opacity="0.55"/><circle cx="204.2" cy="236.9" r="0.45" fill="#7a88d8" opacity="0.55"/><circle cx="199.1" cy="241.5" r="0.45" fill="#7a88d8" opacity="0.55"/><circle cx="202.8" cy="243.8" r="0.45" fill="#7a88d8" opacity="0.55"/><circle cx="196.7" cy="244.9" r="0.45" fill="#7a88d8" opacity="0.55"/><circle cx="217.8" cy="253.5" r="0.4" fill="#5060b8" opacity="0.6"/><circle cx="215.1" cy="254.1" r="0.4" fill="#5060b8" opacity="0.6"/><circle cx="211.5" cy="249.0" r="0.4" fill="#5060b8" opacity="0.6"/><circle cx="211.4" cy="247.6" r="0.4" fill="#5060b8" opacity="0.6"/><circle cx="221.3" cy="253.1" r="0.4" fill="#5060b8" opacity="0.6"/><circle cx="212.6" cy="248.3" r="0.4" fill="#5060b8" opacity="0.6"/><circle cx="216.0" cy="253.2" r="0.4" fill="#5060b8" opacity="0.6"/><circle cx="221.8" cy="253.3" r="0.4" fill="#5060b8" opacity="0.6"/><circle cx="218.5" cy="247.9" r="0.4" fill="#5060b8" opacity="0.6"/><circle cx="215.7" cy="248.3" r="0.4" fill="#5060b8" opacity="0.6"/><circle cx="217.6" cy="251.7" r="0.4" fill="#5060b8" opacity="0.6"/><circle cx="212.9" cy="248.8" r="0.4" fill="#5060b8" opacity="0.6"/><circle cx="221.3" cy="246.9" r="0.4" fill="#5060b8" opacity="0.6"/><circle cx="221.6" cy="254.5" r="0.4" fill="#5060b8" opacity="0.6"/><circle cx="223.8" cy="250.0" r="0.4" fill="#5060b8" opacity="0.6"/><circle cx="218.0" cy="251.8" r="0.4" fill="#5060b8" opacity="0.6"/><circle cx="219.2" cy="255.3" r="0.4" fill="#5060b8" opacity="0.6"/><circle cx="219.9" cy="249.3" r="0.4" fill="#5060b8" opacity="0.6"/><circle cx="222.5" cy="250.9" r="0.4" fill="#5060b8" opacity="0.6"/><circle cx="218.7" cy="253.1" r="0.4" fill="#5060b8" opacity="0.6"/><circle cx="209.9" cy="253.5" r="0.4" fill="#5060b8" opacity="0.6"/><circle cx="219.6" cy="251.0" r="0.4" fill="#5060b8" opacity="0.6"/><circle cx="217.5" cy="250.7" r="0.4" fill="#5060b8" opacity="0.6"/><circle cx="212.7" cy="251.3" r="0.4" fill="#5060b8" opacity="0.6"/><circle cx="210.4" cy="251.1" r="0.4" fill="#5060b8" opacity="0.6"/><circle cx="220.0" cy="238.0" r="0.4" fill="#5060b8" opacity="0.6"/><circle cx="219.2" cy="241.1" r="0.4" fill="#5060b8" opacity="0.6"/><circle cx="222.4" cy="236.0" r="0.4" fill="#5060b8" opacity="0.6"/><circle cx="221.4" cy="239.1" r="0.4" fill="#5060b8" opacity="0.6"/><circle cx="214.0" cy="237.4" r="0.4" fill="#5060b8" opacity="0.6"/><circle cx="215.8" cy="235.7" r="0.4" fill="#5060b8" opacity="0.6"/><circle cx="218.9" cy="241.0" r="0.4" fill="#5060b8" opacity="0.6"/><circle cx="216.7" cy="240.6" r="0.4" fill="#5060b8" opacity="0.6"/><circle cx="220.4" cy="236.0" r="0.4" fill="#5060b8" opacity="0.6"/><circle cx="222.1" cy="238.9" r="0.4" fill="#5060b8" opacity="0.6"/><circle cx="222.8" cy="239.6" r="0.4" fill="#5060b8" opacity="0.6"/><circle cx="220.9" cy="237.3" r="0.4" fill="#5060b8" opacity="0.6"/>
<rect x="213.50" y="234.20" width="15.00" height="9.20" fill="none" stroke="#333" stroke-width="0.6" />
<rect x="208.90" y="245.60" width="19.60" height="10.90" fill="none" stroke="#333" stroke-width="0.6" />
<text x="239.70" y="228.10" font-size="4.4" fill="#222" stroke="#222" stroke-width="0.2" text-anchor="end">Line 3</text>
<text x="230.20" y="240.40" font-size="4.2" fill="#222" stroke="#222" stroke-width="0.2">P8</text>
<text x="230.20" y="252.65" font-size="4.2" fill="#222" stroke="#222" stroke-width="0.2">P6</text>
<text x="189.90" y="228.40" font-size="3.2" fill="#333" stroke="#333" stroke-width="0.08" text-anchor="end">10</text>
<text x="190.90" y="226.90" font-size="2.2" fill="#333" stroke="#333" stroke-width="0.05" text-anchor="end">3</text>
<text x="189.90" y="237.20" font-size="3.2" fill="#333" stroke="#333" stroke-width="0.08" text-anchor="end">10</text>
<text x="190.90" y="235.70" font-size="2.2" fill="#333" stroke="#333" stroke-width="0.05" text-anchor="end">2</text>
<text x="189.90" y="245.20" font-size="3.2" fill="#333" stroke="#333" stroke-width="0.08" text-anchor="end">10</text>
<text x="190.90" y="243.70" font-size="2.2" fill="#333" stroke="#333" stroke-width="0.05" text-anchor="end">1</text>
<text x="189.90" y="253.40" font-size="3.2" fill="#333" stroke="#333" stroke-width="0.08" text-anchor="end">10</text>
<text x="190.90" y="251.90" font-size="2.2" fill="#333" stroke="#333" stroke-width="0.05" text-anchor="end">0</text>
<text x="183.60" y="241.10" font-size="4.2" fill="#222" stroke="#222" stroke-width="0.2" text-anchor="middle" transform="rotate(-90 183.60 241.10)">c-kit</text>
<text x="196.90" y="263.20" font-size="3.2" fill="#333" stroke="#333" stroke-width="0.08" text-anchor="middle">10</text>
<text x="199.70" y="261.60" font-size="2.2" fill="#333" stroke="#333" stroke-width="0.05" text-anchor="middle">0</text>
<text x="209.40" y="263.20" font-size="3.2" fill="#333" stroke="#333" stroke-width="0.08" text-anchor="middle">10</text>
<text x="212.20" y="261.60" font-size="2.2" fill="#333" stroke="#333" stroke-width="0.05" text-anchor="middle">1</text>
<text x="221.40" y="263.20" font-size="3.2" fill="#333" stroke="#333" stroke-width="0.08" text-anchor="middle">10</text>
<text x="224.20" y="261.60" font-size="2.2" fill="#333" stroke="#333" stroke-width="0.05" text-anchor="middle">2</text>
<text x="233.40" y="263.20" font-size="3.2" fill="#333" stroke="#333" stroke-width="0.08" text-anchor="middle">10</text>
<text x="236.20" y="261.60" font-size="2.2" fill="#333" stroke="#333" stroke-width="0.05" text-anchor="middle">3</text>
<text x="216.50" y="268.80" font-size="4.4" fill="#222" stroke="#222" stroke-width="0.2" text-anchor="middle">Sca-1</text>
<text x="-0.80" y="279.90" font-size="7.8" fill="#000" stroke="#000" stroke-width="0.2" font-weight="bold">C</text>
<rect x="38.50" y="274.20" width="1.5" height="1.4" fill="#000"/>
<rect x="38.50" y="276.20" width="1.5" height="3.50" fill="#000"/>
<rect x="171.60" y="273.50" width="1.5" height="1.4" fill="#000"/>
<rect x="171.60" y="275.50" width="1.5" height="4.30" fill="#000"/>
<rect x="174.00" y="273.50" width="1.5" height="1.4" fill="#000"/>
<rect x="174.00" y="275.50" width="1.5" height="4.30" fill="#000"/>
<line x1="67.60" y1="283.00" x2="67.60" y2="369.20" stroke="#bbb" stroke-width="0.6"/>
<line x1="66.40" y1="369.20" x2="67.60" y2="369.20" stroke="#bbb" stroke-width="0.5"/>
<text x="63.20" y="370.78" font-size="4.4" fill="#222" stroke="#222" stroke-width="0.2" text-anchor="end">0</text>
<line x1="66.40" y1="355.06" x2="67.60" y2="355.06" stroke="#bbb" stroke-width="0.5"/>
<text x="63.20" y="356.64" font-size="4.4" fill="#222" stroke="#222" stroke-width="0.2" text-anchor="end">2</text>
<line x1="66.40" y1="340.92" x2="67.60" y2="340.92" stroke="#bbb" stroke-width="0.5"/>
<text x="63.20" y="342.50" font-size="4.4" fill="#222" stroke="#222" stroke-width="0.2" text-anchor="end">4</text>
<line x1="66.40" y1="326.78" x2="67.60" y2="326.78" stroke="#bbb" stroke-width="0.5"/>
<text x="63.20" y="328.36" font-size="4.4" fill="#222" stroke="#222" stroke-width="0.2" text-anchor="end">6</text>
<line x1="66.40" y1="312.64" x2="67.60" y2="312.64" stroke="#bbb" stroke-width="0.5"/>
<text x="63.20" y="314.22" font-size="4.4" fill="#222" stroke="#222" stroke-width="0.2" text-anchor="end">8</text>
<line x1="66.40" y1="298.50" x2="67.60" y2="298.50" stroke="#bbb" stroke-width="0.5"/>
<text x="63.20" y="300.08" font-size="4.4" fill="#222" stroke="#222" stroke-width="0.2" text-anchor="end">10</text>
<line x1="66.40" y1="284.36" x2="67.60" y2="284.36" stroke="#bbb" stroke-width="0.5"/>
<text x="63.20" y="285.94" font-size="4.4" fill="#222" stroke="#222" stroke-width="0.2" text-anchor="end">12</text>
<line x1="67.60" y1="369.20" x2="148.80" y2="369.20" stroke="#aaa" stroke-width="0.8"/>
<rect x="75.00" y="349.40" width="12.00" height="19.80" fill="#fff" stroke="#555" stroke-width="0.55" />
<line x1="81.00" y1="338.09" x2="81.00" y2="361.42" stroke="#333" stroke-width="0.5"/>
<line x1="79.80" y1="338.09" x2="82.20" y2="338.09" stroke="#333" stroke-width="0.5"/>
<line x1="79.80" y1="361.42" x2="82.20" y2="361.42" stroke="#333" stroke-width="0.5"/>
<rect x="102.20" y="306.28" width="11.30" height="62.92" fill="url(#chkC)" stroke="#222" stroke-width="0.55" />
<line x1="107.85" y1="301.33" x2="107.85" y2="309.11" stroke="#333" stroke-width="0.5"/>
<line x1="106.65" y1="301.33" x2="109.05" y2="301.33" stroke="#333" stroke-width="0.5"/>
<line x1="106.65" y1="309.11" x2="109.05" y2="309.11" stroke="#333" stroke-width="0.5"/>
<rect x="128.70" y="324.66" width="11.40" height="44.54" fill="#000" stroke="#222" stroke-width="0.55" />
<line x1="134.40" y1="314.05" x2="134.40" y2="324.66" stroke="#333" stroke-width="0.5"/>
<line x1="133.20" y1="314.05" x2="135.60" y2="314.05" stroke="#333" stroke-width="0.5"/>
<line x1="133.20" y1="324.66" x2="135.60" y2="324.66" stroke="#333" stroke-width="0.5"/>
<path d="M81 331 L81 289.7 L107.9 289.7 L107.9 297" fill="none" stroke="#777" stroke-width="0.6" />
<text x="94.50" y="289.00" font-size="4.4" fill="#333" stroke="#333" stroke-width="0.2" text-anchor="middle">**</text>
<text x="81.00" y="374.90" font-size="4.4" fill="#333" stroke="#333" stroke-width="0.2" text-anchor="middle">B6J</text>
<text x="107.90" y="374.90" font-size="4.4" fill="#333" stroke="#333" stroke-width="0.2" text-anchor="middle">Line6</text>
<text x="134.40" y="374.90" font-size="4.4" fill="#333" stroke="#333" stroke-width="0.2" text-anchor="middle">Line3</text>
<text x="55.40" y="329.50" font-size="4.8" fill="#111" stroke="#111" stroke-width="0.3" text-anchor="middle" font-weight="bold" textLength="55" lengthAdjust="spacingAndGlyphs" transform="rotate(-90 55.40 329.50)">CD150<tspan font-size="3" dy="-1.5">+</tspan><tspan dy="1.5">CD48</tspan><tspan font-size="3" dy="-1.5">-</tspan><tspan dy="1.5">LSK (%)</tspan></text>
<rect x="190.50" y="276.20" width="50.80" height="28.60" fill="#fff" stroke="#555" stroke-width="0.6" />
<path d="M198.34 301.48 L210.98 291.26 L210.22 290.14 L196.06 298.12 Z" fill="#5e5e88" opacity="0.75" filter="url(#blur1)"/><circle cx="197.20" cy="299.80" r="2.03" fill="#5e5e88" opacity="0.6" filter="url(#blur1)"/><ellipse cx="215.0" cy="291.8" rx="6.0" ry="2.2" fill="#6a6a90" opacity="0.5" filter="url(#blur1)"/><circle cx="205.5" cy="292.4" r="0.4" fill="#50507a" opacity="0.5"/><circle cx="209.7" cy="289.0" r="0.4" fill="#50507a" opacity="0.5"/><circle cx="195.2" cy="300.0" r="0.4" fill="#50507a" opacity="0.5"/><circle cx="206.3" cy="293.6" r="0.4" fill="#50507a" opacity="0.5"/><circle cx="203.5" cy="296.8" r="0.4" fill="#50507a" opacity="0.5"/><circle cx="205.6" cy="294.6" r="0.4" fill="#50507a" opacity="0.5"/><circle cx="202.4" cy="296.4" r="0.4" fill="#50507a" opacity="0.5"/><circle cx="199.5" cy="297.8" r="0.4" fill="#50507a" opacity="0.5"/><circle cx="205.5" cy="294.2" r="0.4" fill="#50507a" opacity="0.5"/><circle cx="209.1" cy="292.5" r="0.4" fill="#50507a" opacity="0.5"/><circle cx="210.9" cy="290.3" r="0.4" fill="#50507a" opacity="0.5"/><circle cx="208.6" cy="290.7" r="0.4" fill="#50507a" opacity="0.5"/><circle cx="201.4" cy="297.4" r="0.4" fill="#50507a" opacity="0.5"/><circle cx="210.8" cy="290.5" r="0.4" fill="#50507a" opacity="0.5"/><circle cx="202.3" cy="297.0" r="0.4" fill="#50507a" opacity="0.5"/><circle cx="197.6" cy="300.5" r="0.4" fill="#50507a" opacity="0.5"/><circle cx="196.8" cy="299.0" r="0.4" fill="#50507a" opacity="0.5"/><circle cx="201.8" cy="295.9" r="0.4" fill="#50507a" opacity="0.5"/><circle cx="199.9" cy="297.1" r="0.4" fill="#50507a" opacity="0.5"/><circle cx="198.2" cy="299.2" r="0.4" fill="#50507a" opacity="0.5"/><circle cx="207.4" cy="292.8" r="0.4" fill="#50507a" opacity="0.5"/><circle cx="206.9" cy="293.6" r="0.4" fill="#50507a" opacity="0.5"/><circle cx="197.9" cy="299.9" r="0.4" fill="#50507a" opacity="0.5"/><circle cx="210.6" cy="292.7" r="0.4" fill="#50507a" opacity="0.5"/><circle cx="210.5" cy="291.0" r="0.4" fill="#50507a" opacity="0.5"/><circle cx="200.2" cy="296.3" r="0.4" fill="#50507a" opacity="0.5"/><circle cx="198.6" cy="297.0" r="0.4" fill="#50507a" opacity="0.5"/><circle cx="211.1" cy="292.5" r="0.4" fill="#50507a" opacity="0.5"/><circle cx="197.7" cy="300.1" r="0.4" fill="#50507a" opacity="0.5"/><circle cx="208.3" cy="293.4" r="0.4" fill="#50507a" opacity="0.5"/><circle cx="204.2" cy="295.6" r="0.4" fill="#50507a" opacity="0.5"/><circle cx="200.1" cy="298.5" r="0.4" fill="#50507a" opacity="0.5"/><circle cx="207.0" cy="293.5" r="0.4" fill="#50507a" opacity="0.5"/><circle cx="199.1" cy="299.3" r="0.4" fill="#50507a" opacity="0.5"/><circle cx="202.7" cy="297.4" r="0.4" fill="#50507a" opacity="0.5"/><circle cx="207.3" cy="292.6" r="0.4" fill="#50507a" opacity="0.5"/><circle cx="198.2" cy="299.2" r="0.4" fill="#50507a" opacity="0.5"/><circle cx="204.1" cy="294.9" r="0.4" fill="#50507a" opacity="0.5"/><circle cx="208.3" cy="292.7" r="0.4" fill="#50507a" opacity="0.5"/><circle cx="208.6" cy="293.3" r="0.4" fill="#50507a" opacity="0.5"/><circle cx="199.7" cy="297.7" r="0.4" fill="#50507a" opacity="0.5"/><circle cx="205.2" cy="295.7" r="0.4" fill="#50507a" opacity="0.5"/><circle cx="209.2" cy="291.3" r="0.4" fill="#50507a" opacity="0.5"/><circle cx="206.2" cy="293.3" r="0.4" fill="#50507a" opacity="0.5"/><circle cx="203.2" cy="296.9" r="0.4" fill="#50507a" opacity="0.5"/><circle cx="211.8" cy="290.5" r="0.4" fill="#50507a" opacity="0.5"/><circle cx="203.7" cy="295.6" r="0.4" fill="#50507a" opacity="0.5"/><circle cx="201.3" cy="295.4" r="0.4" fill="#50507a" opacity="0.5"/><circle cx="202.4" cy="294.8" r="0.4" fill="#50507a" opacity="0.5"/><circle cx="205.6" cy="292.0" r="0.4" fill="#50507a" opacity="0.5"/><circle cx="201.8" cy="295.7" r="0.4" fill="#50507a" opacity="0.5"/><circle cx="203.9" cy="293.9" r="0.4" fill="#50507a" opacity="0.5"/><circle cx="202.5" cy="296.6" r="0.4" fill="#50507a" opacity="0.5"/><circle cx="206.2" cy="294.6" r="0.4" fill="#50507a" opacity="0.5"/><circle cx="200.0" cy="296.5" r="0.4" fill="#50507a" opacity="0.5"/><circle cx="207.1" cy="290.9" r="0.4" fill="#50507a" opacity="0.5"/><circle cx="200.9" cy="295.3" r="0.4" fill="#50507a" opacity="0.5"/><circle cx="207.2" cy="293.8" r="0.4" fill="#50507a" opacity="0.5"/><circle cx="207.8" cy="289.4" r="0.4" fill="#50507a" opacity="0.5"/><circle cx="208.8" cy="291.0" r="0.4" fill="#50507a" opacity="0.5"/><circle cx="200.6" cy="296.3" r="0.4" fill="#50507a" opacity="0.5"/><circle cx="203.0" cy="294.0" r="0.4" fill="#50507a" opacity="0.5"/><circle cx="207.8" cy="294.7" r="0.4" fill="#50507a" opacity="0.5"/><circle cx="204.5" cy="293.6" r="0.4" fill="#50507a" opacity="0.5"/><circle cx="205.8" cy="292.7" r="0.4" fill="#50507a" opacity="0.5"/><circle cx="207.4" cy="293.3" r="0.4" fill="#50507a" opacity="0.5"/><circle cx="202.7" cy="295.2" r="0.4" fill="#50507a" opacity="0.5"/><circle cx="206.2" cy="293.3" r="0.4" fill="#50507a" opacity="0.5"/><circle cx="203.6" cy="295.8" r="0.4" fill="#50507a" opacity="0.5"/><circle cx="198.7" cy="299.2" r="0.4" fill="#50507a" opacity="0.5"/><circle cx="200.9" cy="298.3" r="0.4" fill="#50507a" opacity="0.5"/><circle cx="201.3" cy="295.5" r="0.4" fill="#50507a" opacity="0.5"/><circle cx="200.4" cy="297.6" r="0.4" fill="#50507a" opacity="0.5"/><circle cx="202.4" cy="297.1" r="0.4" fill="#50507a" opacity="0.5"/><circle cx="199.2" cy="297.9" r="0.4" fill="#50507a" opacity="0.5"/><circle cx="197.3" cy="299.2" r="0.4" fill="#50507a" opacity="0.5"/><circle cx="203.8" cy="296.0" r="0.4" fill="#50507a" opacity="0.5"/><circle cx="210.5" cy="290.1" r="0.4" fill="#50507a" opacity="0.5"/><circle cx="207.5" cy="291.7" r="0.4" fill="#50507a" opacity="0.5"/><circle cx="198.0" cy="297.8" r="0.4" fill="#50507a" opacity="0.5"/><circle cx="211.4" cy="290.8" r="0.4" fill="#50507a" opacity="0.5"/><circle cx="201.9" cy="296.6" r="0.4" fill="#50507a" opacity="0.5"/><circle cx="197.4" cy="298.3" r="0.4" fill="#50507a" opacity="0.5"/><circle cx="197.6" cy="297.0" r="0.4" fill="#50507a" opacity="0.5"/><circle cx="201.6" cy="296.7" r="0.4" fill="#50507a" opacity="0.5"/><circle cx="202.1" cy="297.0" r="0.4" fill="#50507a" opacity="0.5"/><circle cx="211.2" cy="290.4" r="0.4" fill="#50507a" opacity="0.5"/><circle cx="201.8" cy="297.3" r="0.4" fill="#50507a" opacity="0.5"/><circle cx="201.6" cy="298.6" r="0.4" fill="#50507a" opacity="0.5"/><circle cx="203.5" cy="296.4" r="0.4" fill="#50507a" opacity="0.5"/><circle cx="198.1" cy="297.9" r="0.4" fill="#50507a" opacity="0.5"/><circle cx="201.5" cy="295.3" r="0.4" fill="#50507a" opacity="0.5"/><circle cx="196.6" cy="299.5" r="0.4" fill="#50507a" opacity="0.5"/><circle cx="209.9" cy="290.6" r="0.4" fill="#50507a" opacity="0.5"/><circle cx="202.5" cy="299.8" r="0.4" fill="#50507a" opacity="0.5"/><circle cx="200.2" cy="296.4" r="0.4" fill="#50507a" opacity="0.5"/><circle cx="204.5" cy="292.9" r="0.4" fill="#50507a" opacity="0.5"/><circle cx="198.8" cy="297.9" r="0.4" fill="#50507a" opacity="0.5"/><circle cx="203.9" cy="295.7" r="0.4" fill="#50507a" opacity="0.5"/><circle cx="203.4" cy="295.2" r="0.4" fill="#50507a" opacity="0.5"/><circle cx="207.0" cy="292.9" r="0.4" fill="#50507a" opacity="0.5"/><circle cx="198.4" cy="298.1" r="0.4" fill="#50507a" opacity="0.5"/><circle cx="208.9" cy="291.7" r="0.4" fill="#50507a" opacity="0.5"/><circle cx="206.5" cy="293.3" r="0.4" fill="#50507a" opacity="0.5"/><circle cx="205.9" cy="292.5" r="0.4" fill="#50507a" opacity="0.5"/><circle cx="208.7" cy="292.2" r="0.4" fill="#50507a" opacity="0.5"/><circle cx="208.9" cy="292.8" r="0.4" fill="#50507a" opacity="0.5"/><circle cx="210.1" cy="293.0" r="0.4" fill="#50507a" opacity="0.5"/><circle cx="205.8" cy="293.8" r="0.4" fill="#50507a" opacity="0.5"/><circle cx="208.1" cy="292.4" r="0.4" fill="#50507a" opacity="0.5"/><circle cx="217.6" cy="289.5" r="0.38" fill="#5a5a80" opacity="0.55"/><circle cx="215.0" cy="291.0" r="0.38" fill="#5a5a80" opacity="0.55"/><circle cx="211.8" cy="288.5" r="0.38" fill="#5a5a80" opacity="0.55"/><circle cx="210.2" cy="289.8" r="0.38" fill="#5a5a80" opacity="0.55"/><circle cx="213.1" cy="293.3" r="0.38" fill="#5a5a80" opacity="0.55"/><circle cx="220.9" cy="288.5" r="0.38" fill="#5a5a80" opacity="0.55"/><circle cx="209.5" cy="290.8" r="0.38" fill="#5a5a80" opacity="0.55"/><circle cx="227.0" cy="286.2" r="0.38" fill="#5a5a80" opacity="0.55"/><circle cx="221.6" cy="295.5" r="0.38" fill="#5a5a80" opacity="0.55"/><circle cx="212.9" cy="292.9" r="0.38" fill="#5a5a80" opacity="0.55"/><circle cx="220.6" cy="294.8" r="0.38" fill="#5a5a80" opacity="0.55"/><circle cx="211.4" cy="290.8" r="0.38" fill="#5a5a80" opacity="0.55"/><circle cx="214.3" cy="292.8" r="0.38" fill="#5a5a80" opacity="0.55"/><circle cx="220.0" cy="291.2" r="0.38" fill="#5a5a80" opacity="0.55"/><circle cx="216.5" cy="293.3" r="0.38" fill="#5a5a80" opacity="0.55"/><circle cx="209.8" cy="294.2" r="0.38" fill="#5a5a80" opacity="0.55"/><circle cx="210.9" cy="291.2" r="0.38" fill="#5a5a80" opacity="0.55"/><circle cx="210.0" cy="292.3" r="0.38" fill="#5a5a80" opacity="0.55"/><circle cx="219.4" cy="291.5" r="0.38" fill="#5a5a80" opacity="0.55"/><circle cx="211.4" cy="287.6" r="0.38" fill="#5a5a80" opacity="0.55"/><circle cx="216.8" cy="290.7" r="0.38" fill="#5a5a80" opacity="0.55"/><circle cx="217.8" cy="294.3" r="0.38" fill="#5a5a80" opacity="0.55"/><circle cx="225.9" cy="291.3" r="0.38" fill="#5a5a80" opacity="0.55"/><circle cx="221.6" cy="292.2" r="0.38" fill="#5a5a80" opacity="0.55"/><circle cx="211.7" cy="290.1" r="0.38" fill="#5a5a80" opacity="0.55"/><circle cx="225.4" cy="290.0" r="0.38" fill="#5a5a80" opacity="0.55"/><circle cx="219.0" cy="290.6" r="0.38" fill="#5a5a80" opacity="0.55"/><circle cx="218.9" cy="290.6" r="0.38" fill="#5a5a80" opacity="0.55"/><circle cx="213.6" cy="291.8" r="0.38" fill="#5a5a80" opacity="0.55"/><circle cx="211.4" cy="289.3" r="0.38" fill="#5a5a80" opacity="0.55"/><circle cx="213.2" cy="289.4" r="0.38" fill="#5a5a80" opacity="0.55"/><circle cx="212.2" cy="294.2" r="0.38" fill="#5a5a80" opacity="0.55"/><circle cx="221.8" cy="291.3" r="0.38" fill="#5a5a80" opacity="0.55"/><circle cx="221.0" cy="291.0" r="0.38" fill="#5a5a80" opacity="0.55"/><circle cx="210.6" cy="293.7" r="0.38" fill="#5a5a80" opacity="0.55"/><circle cx="213.3" cy="293.7" r="0.38" fill="#5a5a80" opacity="0.55"/><circle cx="224.8" cy="290.0" r="0.38" fill="#5a5a80" opacity="0.55"/><circle cx="223.3" cy="292.0" r="0.38" fill="#5a5a80" opacity="0.55"/><circle cx="209.5" cy="291.6" r="0.38" fill="#5a5a80" opacity="0.55"/><circle cx="211.7" cy="291.1" r="0.38" fill="#5a5a80" opacity="0.55"/><circle cx="226.1" cy="291.1" r="0.38" fill="#5a5a80" opacity="0.55"/><circle cx="211.1" cy="290.4" r="0.38" fill="#5a5a80" opacity="0.55"/><circle cx="226.5" cy="289.8" r="0.38" fill="#5a5a80" opacity="0.55"/><circle cx="211.5" cy="288.5" r="0.38" fill="#5a5a80" opacity="0.55"/><circle cx="220.2" cy="290.8" r="0.38" fill="#5a5a80" opacity="0.55"/><circle cx="215.0" cy="292.9" r="0.38" fill="#5a5a80" opacity="0.55"/><circle cx="220.0" cy="290.6" r="0.38" fill="#5a5a80" opacity="0.55"/><circle cx="211.5" cy="293.4" r="0.38" fill="#5a5a80" opacity="0.55"/><circle cx="224.0" cy="289.5" r="0.38" fill="#5a5a80" opacity="0.55"/><circle cx="216.8" cy="288.8" r="0.38" fill="#5a5a80" opacity="0.55"/><circle cx="224.3" cy="289.0" r="0.38" fill="#5a5a80" opacity="0.55"/><circle cx="219.3" cy="291.4" r="0.38" fill="#5a5a80" opacity="0.55"/><circle cx="222.3" cy="291.0" r="0.38" fill="#5a5a80" opacity="0.55"/><circle cx="209.6" cy="292.3" r="0.38" fill="#5a5a80" opacity="0.55"/><circle cx="212.6" cy="295.9" r="0.38" fill="#5a5a80" opacity="0.55"/><circle cx="217.7" cy="292.8" r="0.38" fill="#5a5a80" opacity="0.55"/><circle cx="222.7" cy="294.1" r="0.38" fill="#5a5a80" opacity="0.55"/><circle cx="225.0" cy="291.8" r="0.38" fill="#5a5a80" opacity="0.55"/><circle cx="220.2" cy="289.7" r="0.38" fill="#5a5a80" opacity="0.55"/><circle cx="210.8" cy="292.7" r="0.38" fill="#5a5a80" opacity="0.55"/><circle cx="211.8" cy="292.8" r="0.38" fill="#5a5a80" opacity="0.55"/><circle cx="215.9" cy="293.4" r="0.38" fill="#5a5a80" opacity="0.55"/><circle cx="224.8" cy="292.7" r="0.38" fill="#5a5a80" opacity="0.55"/><circle cx="214.0" cy="293.0" r="0.38" fill="#5a5a80" opacity="0.55"/><circle cx="211.9" cy="291.4" r="0.38" fill="#5a5a80" opacity="0.55"/><circle cx="217.7" cy="293.2" r="0.38" fill="#5a5a80" opacity="0.55"/><circle cx="209.6" cy="293.5" r="0.38" fill="#5a5a80" opacity="0.55"/><circle cx="225.9" cy="290.9" r="0.38" fill="#5a5a80" opacity="0.55"/><circle cx="221.4" cy="290.7" r="0.38" fill="#5a5a80" opacity="0.55"/><circle cx="226.0" cy="289.7" r="0.38" fill="#5a5a80" opacity="0.55"/><circle cx="211.1" cy="290.9" r="0.38" fill="#5a5a80" opacity="0.55"/><circle cx="221.1" cy="290.3" r="0.38" fill="#5a5a80" opacity="0.55"/><circle cx="222.1" cy="292.5" r="0.38" fill="#5a5a80" opacity="0.55"/><circle cx="209.4" cy="292.9" r="0.38" fill="#5a5a80" opacity="0.55"/><circle cx="213.1" cy="293.6" r="0.38" fill="#5a5a80" opacity="0.55"/><circle cx="226.5" cy="292.7" r="0.38" fill="#5a5a80" opacity="0.55"/><circle cx="215.6" cy="290.9" r="0.38" fill="#5a5a80" opacity="0.55"/><circle cx="214.1" cy="293.9" r="0.38" fill="#5a5a80" opacity="0.55"/><circle cx="222.2" cy="291.5" r="0.38" fill="#5a5a80" opacity="0.55"/><circle cx="213.3" cy="290.6" r="0.38" fill="#5a5a80" opacity="0.55"/>
<rect x="209.50" y="294.20" width="19.90" height="10.60" fill="none" stroke="#333" stroke-width="0.6" />
<text x="239.20" y="281.80" font-size="4.6" fill="#222" stroke="#222" stroke-width="0.2" text-anchor="end">Cont.</text>
<line x1="190.50" y1="276.20" x2="190.50" y2="304.80" stroke="#222" stroke-width="0.8"/>
<line x1="190.50" y1="304.80" x2="241.30" y2="304.80" stroke="#222" stroke-width="0.8"/>
<g transform="translate(187.90 300.00) rotate(-55)"><text x="0" y="0" font-size="3.3" text-anchor="middle" fill="#333" stroke="#333" stroke-width="0.12">10<tspan font-size="2.3" dy="-1.3">1</tspan></text></g>
<path d="M188.7 300.6 L190.5 301.6 L188.7 302.6 Z" fill="#111"/>
<g transform="translate(187.90 293.00) rotate(-55)"><text x="0" y="0" font-size="3.3" text-anchor="middle" fill="#333" stroke="#333" stroke-width="0.12">10<tspan font-size="2.3" dy="-1.3">2</tspan></text></g>
<path d="M188.7 293.6 L190.5 294.6 L188.7 295.6 Z" fill="#111"/>
<g transform="translate(187.90 286.00) rotate(-55)"><text x="0" y="0" font-size="3.3" text-anchor="middle" fill="#333" stroke="#333" stroke-width="0.12">10<tspan font-size="2.3" dy="-1.3">3</tspan></text></g>
<path d="M188.7 286.6 L190.5 287.6 L188.7 288.6 Z" fill="#111"/>
<g transform="translate(187.90 279.00) rotate(-55)"><text x="0" y="0" font-size="3.3" text-anchor="middle" fill="#333" stroke="#333" stroke-width="0.12">10<tspan font-size="2.3" dy="-1.3">4</tspan></text></g>
<path d="M188.7 279.6 L190.5 280.6 L188.7 281.6 Z" fill="#111"/>
<text x="180.50" y="289.30" font-size="4.0" fill="#222" stroke="#222" stroke-width="0.2" text-anchor="middle" textLength="11.6" lengthAdjust="spacingAndGlyphs" transform="rotate(-90 180.50 289.30)">CD48</text>
<g transform="translate(196.50 310.10) rotate(-55)"><text x="0" y="0" font-size="3.3" text-anchor="middle" fill="#333" stroke="#333" stroke-width="0.12">10<tspan font-size="2.3" dy="-1.3">0</tspan></text></g>
<path d="M196.0 306.6 L197.0 304.8 L198.0 306.6 Z" fill="#111"/>
<g transform="translate(209.00 310.10) rotate(-55)"><text x="0" y="0" font-size="3.3" text-anchor="middle" fill="#333" stroke="#333" stroke-width="0.12">10<tspan font-size="2.3" dy="-1.3">1</tspan></text></g>
<path d="M208.5 306.6 L209.5 304.8 L210.5 306.6 Z" fill="#111"/>
<g transform="translate(221.50 310.10) rotate(-55)"><text x="0" y="0" font-size="3.3" text-anchor="middle" fill="#333" stroke="#333" stroke-width="0.12">10<tspan font-size="2.3" dy="-1.3">2</tspan></text></g>
<path d="M221.0 306.6 L222.0 304.8 L223.0 306.6 Z" fill="#111"/>
<g transform="translate(234.00 310.10) rotate(-55)"><text x="0" y="0" font-size="3.3" text-anchor="middle" fill="#333" stroke="#333" stroke-width="0.12">10<tspan font-size="2.3" dy="-1.3">3</tspan></text></g>
<path d="M233.5 306.6 L234.5 304.8 L235.5 306.6 Z" fill="#111"/>
<rect x="190.50" y="314.40" width="50.80" height="29.00" fill="#fff" stroke="#555" stroke-width="0.6" />
<path d="M197.70 340.10 L212.60 328.93 L211.80 327.67 L195.30 336.30 Z" fill="#5e5e88" opacity="0.75" filter="url(#blur1)"/><circle cx="196.50" cy="338.20" r="2.25" fill="#5e5e88" opacity="0.6" filter="url(#blur1)"/><ellipse cx="220.0" cy="331.0" rx="8.0" ry="2.5" fill="#6a6a90" opacity="0.5" filter="url(#blur1)"/><circle cx="209.5" cy="329.3" r="0.4" fill="#50507a" opacity="0.5"/><circle cx="202.1" cy="335.6" r="0.4" fill="#50507a" opacity="0.5"/><circle cx="203.9" cy="332.6" r="0.4" fill="#50507a" opacity="0.5"/><circle cx="208.3" cy="332.4" r="0.4" fill="#50507a" opacity="0.5"/><circle cx="206.9" cy="331.6" r="0.4" fill="#50507a" opacity="0.5"/><circle cx="207.7" cy="332.6" r="0.4" fill="#50507a" opacity="0.5"/><circle cx="209.0" cy="332.0" r="0.4" fill="#50507a" opacity="0.5"/><circle cx="207.8" cy="330.7" r="0.4" fill="#50507a" opacity="0.5"/><circle cx="198.5" cy="335.6" r="0.4" fill="#50507a" opacity="0.5"/><circle cx="204.0" cy="334.2" r="0.4" fill="#50507a" opacity="0.5"/><circle cx="205.8" cy="334.3" r="0.4" fill="#50507a" opacity="0.5"/><circle cx="206.2" cy="333.8" r="0.4" fill="#50507a" opacity="0.5"/><circle cx="204.2" cy="333.7" r="0.4" fill="#50507a" opacity="0.5"/><circle cx="203.6" cy="331.9" r="0.4" fill="#50507a" opacity="0.5"/><circle cx="209.4" cy="330.2" r="0.4" fill="#50507a" opacity="0.5"/><circle cx="201.5" cy="334.1" r="0.4" fill="#50507a" opacity="0.5"/><circle cx="207.5" cy="333.5" r="0.4" fill="#50507a" opacity="0.5"/><circle cx="205.8" cy="334.0" r="0.4" fill="#50507a" opacity="0.5"/><circle cx="201.8" cy="336.2" r="0.4" fill="#50507a" opacity="0.5"/><circle cx="199.2" cy="338.8" r="0.4" fill="#50507a" opacity="0.5"/><circle cx="209.2" cy="331.4" r="0.4" fill="#50507a" opacity="0.5"/><circle cx="195.7" cy="339.9" r="0.4" fill="#50507a" opacity="0.5"/><circle cx="205.9" cy="333.0" r="0.4" fill="#50507a" opacity="0.5"/><circle cx="205.6" cy="337.4" r="0.4" fill="#50507a" opacity="0.5"/><circle cx="195.9" cy="338.4" r="0.4" fill="#50507a" opacity="0.5"/><circle cx="203.5" cy="334.2" r="0.4" fill="#50507a" opacity="0.5"/><circle cx="213.0" cy="327.6" r="0.4" fill="#50507a" opacity="0.5"/><circle cx="208.7" cy="330.0" r="0.4" fill="#50507a" opacity="0.5"/><circle cx="207.9" cy="330.2" r="0.4" fill="#50507a" opacity="0.5"/><circle cx="207.2" cy="331.4" r="0.4" fill="#50507a" opacity="0.5"/><circle cx="208.1" cy="332.0" r="0.4" fill="#50507a" opacity="0.5"/><circle cx="208.9" cy="330.6" r="0.4" fill="#50507a" opacity="0.5"/><circle cx="197.6" cy="336.5" r="0.4" fill="#50507a" opacity="0.5"/><circle cx="198.3" cy="336.3" r="0.4" fill="#50507a" opacity="0.5"/><circle cx="198.8" cy="336.8" r="0.4" fill="#50507a" opacity="0.5"/><circle cx="206.0" cy="333.3" r="0.4" fill="#50507a" opacity="0.5"/><circle cx="204.6" cy="334.2" r="0.4" fill="#50507a" opacity="0.5"/><circle cx="201.6" cy="334.3" r="0.4" fill="#50507a" opacity="0.5"/><circle cx="209.1" cy="331.3" r="0.4" fill="#50507a" opacity="0.5"/><circle cx="201.7" cy="333.9" r="0.4" fill="#50507a" opacity="0.5"/><circle cx="201.0" cy="334.4" r="0.4" fill="#50507a" opacity="0.5"/><circle cx="211.2" cy="329.0" r="0.4" fill="#50507a" opacity="0.5"/><circle cx="203.8" cy="333.8" r="0.4" fill="#50507a" opacity="0.5"/><circle cx="209.9" cy="331.6" r="0.4" fill="#50507a" opacity="0.5"/><circle cx="204.0" cy="333.9" r="0.4" fill="#50507a" opacity="0.5"/><circle cx="198.3" cy="339.9" r="0.4" fill="#50507a" opacity="0.5"/><circle cx="204.6" cy="332.9" r="0.4" fill="#50507a" opacity="0.5"/><circle cx="208.1" cy="330.2" r="0.4" fill="#50507a" opacity="0.5"/><circle cx="197.7" cy="337.6" r="0.4" fill="#50507a" opacity="0.5"/><circle cx="205.9" cy="331.7" r="0.4" fill="#50507a" opacity="0.5"/><circle cx="206.7" cy="332.3" r="0.4" fill="#50507a" opacity="0.5"/><circle cx="204.5" cy="332.3" r="0.4" fill="#50507a" opacity="0.5"/><circle cx="206.2" cy="331.5" r="0.4" fill="#50507a" opacity="0.5"/><circle cx="210.8" cy="330.7" r="0.4" fill="#50507a" opacity="0.5"/><circle cx="212.6" cy="328.0" r="0.4" fill="#50507a" opacity="0.5"/><circle cx="203.0" cy="332.1" r="0.4" fill="#50507a" opacity="0.5"/><circle cx="200.7" cy="336.1" r="0.4" fill="#50507a" opacity="0.5"/><circle cx="203.6" cy="332.8" r="0.4" fill="#50507a" opacity="0.5"/><circle cx="200.8" cy="335.1" r="0.4" fill="#50507a" opacity="0.5"/><circle cx="209.9" cy="330.2" r="0.4" fill="#50507a" opacity="0.5"/><circle cx="213.0" cy="329.9" r="0.4" fill="#50507a" opacity="0.5"/><circle cx="201.9" cy="335.2" r="0.4" fill="#50507a" opacity="0.5"/><circle cx="211.4" cy="329.2" r="0.4" fill="#50507a" opacity="0.5"/><circle cx="208.5" cy="329.2" r="0.4" fill="#50507a" opacity="0.5"/><circle cx="197.5" cy="338.7" r="0.4" fill="#50507a" opacity="0.5"/><circle cx="199.0" cy="337.6" r="0.4" fill="#50507a" opacity="0.5"/><circle cx="211.1" cy="327.9" r="0.4" fill="#50507a" opacity="0.5"/><circle cx="197.7" cy="336.9" r="0.4" fill="#50507a" opacity="0.5"/><circle cx="204.0" cy="333.0" r="0.4" fill="#50507a" opacity="0.5"/><circle cx="198.8" cy="338.0" r="0.4" fill="#50507a" opacity="0.5"/><circle cx="196.4" cy="337.8" r="0.4" fill="#50507a" opacity="0.5"/><circle cx="201.7" cy="336.5" r="0.4" fill="#50507a" opacity="0.5"/><circle cx="202.7" cy="335.1" r="0.4" fill="#50507a" opacity="0.5"/><circle cx="206.2" cy="332.1" r="0.4" fill="#50507a" opacity="0.5"/><circle cx="198.8" cy="337.3" r="0.4" fill="#50507a" opacity="0.5"/><circle cx="205.8" cy="331.3" r="0.4" fill="#50507a" opacity="0.5"/><circle cx="199.0" cy="337.2" r="0.4" fill="#50507a" opacity="0.5"/><circle cx="200.7" cy="335.9" r="0.4" fill="#50507a" opacity="0.5"/><circle cx="204.3" cy="331.4" r="0.4" fill="#50507a" opacity="0.5"/><circle cx="207.0" cy="330.9" r="0.4" fill="#50507a" opacity="0.5"/><circle cx="207.6" cy="331.5" r="0.4" fill="#50507a" opacity="0.5"/><circle cx="206.1" cy="332.2" r="0.4" fill="#50507a" opacity="0.5"/><circle cx="197.2" cy="337.3" r="0.4" fill="#50507a" opacity="0.5"/><circle cx="208.4" cy="331.7" r="0.4" fill="#50507a" opacity="0.5"/><circle cx="195.3" cy="337.4" r="0.4" fill="#50507a" opacity="0.5"/><circle cx="198.0" cy="335.1" r="0.4" fill="#50507a" opacity="0.5"/><circle cx="199.5" cy="335.6" r="0.4" fill="#50507a" opacity="0.5"/><circle cx="210.8" cy="330.9" r="0.4" fill="#50507a" opacity="0.5"/><circle cx="200.6" cy="338.9" r="0.4" fill="#50507a" opacity="0.5"/><circle cx="198.7" cy="336.9" r="0.4" fill="#50507a" opacity="0.5"/><circle cx="206.9" cy="330.1" r="0.4" fill="#50507a" opacity="0.5"/><circle cx="200.4" cy="335.6" r="0.4" fill="#50507a" opacity="0.5"/><circle cx="210.3" cy="328.0" r="0.4" fill="#50507a" opacity="0.5"/><circle cx="199.2" cy="335.7" r="0.4" fill="#50507a" opacity="0.5"/><circle cx="208.8" cy="327.1" r="0.4" fill="#50507a" opacity="0.5"/><circle cx="206.9" cy="329.6" r="0.4" fill="#50507a" opacity="0.5"/><circle cx="197.8" cy="337.1" r="0.4" fill="#50507a" opacity="0.5"/><circle cx="204.1" cy="336.2" r="0.4" fill="#50507a" opacity="0.5"/><circle cx="199.1" cy="336.8" r="0.4" fill="#50507a" opacity="0.5"/><circle cx="203.5" cy="333.6" r="0.4" fill="#50507a" opacity="0.5"/><circle cx="199.1" cy="336.8" r="0.4" fill="#50507a" opacity="0.5"/><circle cx="196.7" cy="337.8" r="0.4" fill="#50507a" opacity="0.5"/><circle cx="205.7" cy="332.9" r="0.4" fill="#50507a" opacity="0.5"/><circle cx="204.2" cy="336.6" r="0.4" fill="#50507a" opacity="0.5"/><circle cx="201.5" cy="333.7" r="0.4" fill="#50507a" opacity="0.5"/><circle cx="205.6" cy="332.1" r="0.4" fill="#50507a" opacity="0.5"/><circle cx="199.1" cy="336.4" r="0.4" fill="#50507a" opacity="0.5"/><circle cx="204.0" cy="332.5" r="0.4" fill="#50507a" opacity="0.5"/><circle cx="211.8" cy="327.7" r="0.4" fill="#50507a" opacity="0.5"/><circle cx="197.4" cy="336.4" r="0.4" fill="#50507a" opacity="0.5"/><circle cx="231.0" cy="327.6" r="0.38" fill="#5a5a80" opacity="0.55"/><circle cx="229.9" cy="330.3" r="0.38" fill="#5a5a80" opacity="0.55"/><circle cx="222.3" cy="333.7" r="0.38" fill="#5a5a80" opacity="0.55"/><circle cx="215.4" cy="326.9" r="0.38" fill="#5a5a80" opacity="0.55"/><circle cx="232.2" cy="334.1" r="0.38" fill="#5a5a80" opacity="0.55"/><circle cx="219.4" cy="327.7" r="0.38" fill="#5a5a80" opacity="0.55"/><circle cx="217.5" cy="332.5" r="0.38" fill="#5a5a80" opacity="0.55"/><circle cx="230.8" cy="332.6" r="0.38" fill="#5a5a80" opacity="0.55"/><circle cx="220.0" cy="332.9" r="0.38" fill="#5a5a80" opacity="0.55"/><circle cx="213.8" cy="331.1" r="0.38" fill="#5a5a80" opacity="0.55"/><circle cx="225.7" cy="331.6" r="0.38" fill="#5a5a80" opacity="0.55"/><circle cx="214.0" cy="325.8" r="0.38" fill="#5a5a80" opacity="0.55"/><circle cx="220.4" cy="334.5" r="0.38" fill="#5a5a80" opacity="0.55"/><circle cx="230.4" cy="334.5" r="0.38" fill="#5a5a80" opacity="0.55"/><circle cx="223.4" cy="333.6" r="0.38" fill="#5a5a80" opacity="0.55"/><circle cx="229.1" cy="330.2" r="0.38" fill="#5a5a80" opacity="0.55"/><circle cx="222.7" cy="326.2" r="0.38" fill="#5a5a80" opacity="0.55"/><circle cx="230.5" cy="336.5" r="0.38" fill="#5a5a80" opacity="0.55"/><circle cx="225.0" cy="333.2" r="0.38" fill="#5a5a80" opacity="0.55"/><circle cx="229.6" cy="328.6" r="0.38" fill="#5a5a80" opacity="0.55"/><circle cx="213.5" cy="331.7" r="0.38" fill="#5a5a80" opacity="0.55"/><circle cx="225.3" cy="331.8" r="0.38" fill="#5a5a80" opacity="0.55"/><circle cx="227.8" cy="332.5" r="0.38" fill="#5a5a80" opacity="0.55"/><circle cx="214.5" cy="333.2" r="0.38" fill="#5a5a80" opacity="0.55"/><circle cx="227.1" cy="331.2" r="0.38" fill="#5a5a80" opacity="0.55"/><circle cx="233.6" cy="330.0" r="0.38" fill="#5a5a80" opacity="0.55"/><circle cx="226.6" cy="332.5" r="0.38" fill="#5a5a80" opacity="0.55"/><circle cx="215.5" cy="332.5" r="0.38" fill="#5a5a80" opacity="0.55"/><circle cx="228.0" cy="332.2" r="0.38" fill="#5a5a80" opacity="0.55"/><circle cx="216.0" cy="330.3" r="0.38" fill="#5a5a80" opacity="0.55"/><circle cx="225.8" cy="333.4" r="0.38" fill="#5a5a80" opacity="0.55"/><circle cx="222.1" cy="328.1" r="0.38" fill="#5a5a80" opacity="0.55"/><circle cx="214.4" cy="329.1" r="0.38" fill="#5a5a80" opacity="0.55"/><circle cx="229.7" cy="329.4" r="0.38" fill="#5a5a80" opacity="0.55"/><circle cx="224.6" cy="330.4" r="0.38" fill="#5a5a80" opacity="0.55"/><circle cx="225.8" cy="325.0" r="0.38" fill="#5a5a80" opacity="0.55"/><circle cx="232.1" cy="331.0" r="0.38" fill="#5a5a80" opacity="0.55"/><circle cx="231.4" cy="331.1" r="0.38" fill="#5a5a80" opacity="0.55"/><circle cx="212.7" cy="333.5" r="0.38" fill="#5a5a80" opacity="0.55"/><circle cx="213.3" cy="330.9" r="0.38" fill="#5a5a80" opacity="0.55"/><circle cx="218.0" cy="330.6" r="0.38" fill="#5a5a80" opacity="0.55"/><circle cx="225.7" cy="328.8" r="0.38" fill="#5a5a80" opacity="0.55"/><circle cx="214.2" cy="332.1" r="0.38" fill="#5a5a80" opacity="0.55"/><circle cx="230.3" cy="329.1" r="0.38" fill="#5a5a80" opacity="0.55"/><circle cx="215.2" cy="329.7" r="0.38" fill="#5a5a80" opacity="0.55"/><circle cx="220.9" cy="328.8" r="0.38" fill="#5a5a80" opacity="0.55"/><circle cx="212.4" cy="326.7" r="0.38" fill="#5a5a80" opacity="0.55"/><circle cx="214.3" cy="330.1" r="0.38" fill="#5a5a80" opacity="0.55"/><circle cx="221.8" cy="338.3" r="0.38" fill="#5a5a80" opacity="0.55"/><circle cx="233.3" cy="331.6" r="0.38" fill="#5a5a80" opacity="0.55"/><circle cx="226.9" cy="330.1" r="0.38" fill="#5a5a80" opacity="0.55"/><circle cx="214.7" cy="331.1" r="0.38" fill="#5a5a80" opacity="0.55"/><circle cx="227.5" cy="332.9" r="0.38" fill="#5a5a80" opacity="0.55"/><circle cx="231.0" cy="324.4" r="0.38" fill="#5a5a80" opacity="0.55"/><circle cx="221.6" cy="330.9" r="0.38" fill="#5a5a80" opacity="0.55"/><circle cx="219.6" cy="333.8" r="0.38" fill="#5a5a80" opacity="0.55"/><circle cx="224.0" cy="332.9" r="0.38" fill="#5a5a80" opacity="0.55"/><circle cx="233.6" cy="329.3" r="0.38" fill="#5a5a80" opacity="0.55"/><circle cx="227.8" cy="334.6" r="0.38" fill="#5a5a80" opacity="0.55"/><circle cx="226.6" cy="332.1" r="0.38" fill="#5a5a80" opacity="0.55"/><circle cx="225.7" cy="335.7" r="0.38" fill="#5a5a80" opacity="0.55"/><circle cx="222.9" cy="331.1" r="0.38" fill="#5a5a80" opacity="0.55"/><circle cx="223.8" cy="331.3" r="0.38" fill="#5a5a80" opacity="0.55"/><circle cx="212.3" cy="331.5" r="0.38" fill="#5a5a80" opacity="0.55"/><circle cx="216.6" cy="330.6" r="0.38" fill="#5a5a80" opacity="0.55"/><circle cx="213.3" cy="332.2" r="0.38" fill="#5a5a80" opacity="0.55"/><circle cx="228.0" cy="329.6" r="0.38" fill="#5a5a80" opacity="0.55"/><circle cx="216.8" cy="326.5" r="0.38" fill="#5a5a80" opacity="0.55"/><circle cx="228.0" cy="330.2" r="0.38" fill="#5a5a80" opacity="0.55"/><circle cx="231.3" cy="330.4" r="0.38" fill="#5a5a80" opacity="0.55"/><circle cx="219.9" cy="331.6" r="0.38" fill="#5a5a80" opacity="0.55"/><circle cx="232.3" cy="332.3" r="0.38" fill="#5a5a80" opacity="0.55"/><circle cx="216.9" cy="328.9" r="0.38" fill="#5a5a80" opacity="0.55"/><circle cx="219.9" cy="332.9" r="0.38" fill="#5a5a80" opacity="0.55"/><circle cx="226.4" cy="333.1" r="0.38" fill="#5a5a80" opacity="0.55"/><circle cx="224.9" cy="332.3" r="0.38" fill="#5a5a80" opacity="0.55"/><circle cx="225.6" cy="329.6" r="0.38" fill="#5a5a80" opacity="0.55"/><circle cx="226.0" cy="329.9" r="0.38" fill="#5a5a80" opacity="0.55"/><circle cx="233.4" cy="327.8" r="0.38" fill="#5a5a80" opacity="0.55"/><circle cx="230.4" cy="331.4" r="0.38" fill="#5a5a80" opacity="0.55"/>
<rect x="210.00" y="332.50" width="19.40" height="10.90" fill="none" stroke="#333" stroke-width="0.6" />
<text x="239.20" y="320.00" font-size="4.6" fill="#222" stroke="#222" stroke-width="0.2" text-anchor="end">Line6</text>
<line x1="190.50" y1="314.40" x2="190.50" y2="343.40" stroke="#222" stroke-width="0.8"/>
<line x1="190.50" y1="343.40" x2="241.30" y2="343.40" stroke="#222" stroke-width="0.8"/>
<g transform="translate(187.90 338.60) rotate(-55)"><text x="0" y="0" font-size="3.3" text-anchor="middle" fill="#333" stroke="#333" stroke-width="0.12">10<tspan font-size="2.3" dy="-1.3">1</tspan></text></g>
<path d="M188.7 339.2 L190.5 340.2 L188.7 341.2 Z" fill="#111"/>
<g transform="translate(187.90 331.60) rotate(-55)"><text x="0" y="0" font-size="3.3" text-anchor="middle" fill="#333" stroke="#333" stroke-width="0.12">10<tspan font-size="2.3" dy="-1.3">2</tspan></text></g>
<path d="M188.7 332.2 L190.5 333.2 L188.7 334.2 Z" fill="#111"/>
<g transform="translate(187.90 324.60) rotate(-55)"><text x="0" y="0" font-size="3.3" text-anchor="middle" fill="#333" stroke="#333" stroke-width="0.12">10<tspan font-size="2.3" dy="-1.3">3</tspan></text></g>
<path d="M188.7 325.2 L190.5 326.2 L188.7 327.2 Z" fill="#111"/>
<g transform="translate(187.90 317.60) rotate(-55)"><text x="0" y="0" font-size="3.3" text-anchor="middle" fill="#333" stroke="#333" stroke-width="0.12">10<tspan font-size="2.3" dy="-1.3">4</tspan></text></g>
<path d="M188.7 318.2 L190.5 319.2 L188.7 320.2 Z" fill="#111"/>
<text x="180.50" y="327.70" font-size="4.0" fill="#222" stroke="#222" stroke-width="0.2" text-anchor="middle" textLength="11.6" lengthAdjust="spacingAndGlyphs" transform="rotate(-90 180.50 327.70)">CD48</text>
<g transform="translate(196.50 349.00) rotate(-55)"><text x="0" y="0" font-size="3.3" text-anchor="middle" fill="#333" stroke="#333" stroke-width="0.12">10<tspan font-size="2.3" dy="-1.3">0</tspan></text></g>
<path d="M196.0 345.2 L197.0 343.4 L198.0 345.2 Z" fill="#111"/>
<g transform="translate(209.00 349.00) rotate(-55)"><text x="0" y="0" font-size="3.3" text-anchor="middle" fill="#333" stroke="#333" stroke-width="0.12">10<tspan font-size="2.3" dy="-1.3">1</tspan></text></g>
<path d="M208.5 345.2 L209.5 343.4 L210.5 345.2 Z" fill="#111"/>
<g transform="translate(221.50 349.00) rotate(-55)"><text x="0" y="0" font-size="3.3" text-anchor="middle" fill="#333" stroke="#333" stroke-width="0.12">10<tspan font-size="2.3" dy="-1.3">2</tspan></text></g>
<path d="M221.0 345.2 L222.0 343.4 L223.0 345.2 Z" fill="#111"/>
<g transform="translate(234.00 349.00) rotate(-55)"><text x="0" y="0" font-size="3.3" text-anchor="middle" fill="#333" stroke="#333" stroke-width="0.12">10<tspan font-size="2.3" dy="-1.3">3</tspan></text></g>
<path d="M233.5 345.2 L234.5 343.4 L235.5 345.2 Z" fill="#111"/>
<rect x="190.50" y="353.70" width="50.80" height="28.70" fill="#fff" stroke="#555" stroke-width="0.6" />
<path d="M198.77 379.23 L216.92 365.98 L216.08 364.62 L196.23 375.17 Z" fill="#5e5e88" opacity="0.75" filter="url(#blur1)"/><circle cx="197.50" cy="377.20" r="2.40" fill="#5e5e88" opacity="0.6" filter="url(#blur1)"/><ellipse cx="221.0" cy="369.0" rx="7.0" ry="3.0" fill="#6a6a90" opacity="0.5" filter="url(#blur1)"/><circle cx="204.5" cy="374.5" r="0.4" fill="#50507a" opacity="0.5"/><circle cx="197.9" cy="376.1" r="0.4" fill="#50507a" opacity="0.5"/><circle cx="198.3" cy="376.5" r="0.4" fill="#50507a" opacity="0.5"/><circle cx="206.1" cy="372.2" r="0.4" fill="#50507a" opacity="0.5"/><circle cx="205.8" cy="371.7" r="0.4" fill="#50507a" opacity="0.5"/><circle cx="200.1" cy="372.8" r="0.4" fill="#50507a" opacity="0.5"/><circle cx="206.3" cy="372.0" r="0.4" fill="#50507a" opacity="0.5"/><circle cx="198.9" cy="376.0" r="0.4" fill="#50507a" opacity="0.5"/><circle cx="200.9" cy="376.1" r="0.4" fill="#50507a" opacity="0.5"/><circle cx="213.6" cy="368.7" r="0.4" fill="#50507a" opacity="0.5"/><circle cx="208.8" cy="370.5" r="0.4" fill="#50507a" opacity="0.5"/><circle cx="199.3" cy="376.7" r="0.4" fill="#50507a" opacity="0.5"/><circle cx="209.6" cy="369.5" r="0.4" fill="#50507a" opacity="0.5"/><circle cx="207.8" cy="370.5" r="0.4" fill="#50507a" opacity="0.5"/><circle cx="212.4" cy="367.0" r="0.4" fill="#50507a" opacity="0.5"/><circle cx="206.4" cy="370.0" r="0.4" fill="#50507a" opacity="0.5"/><circle cx="210.7" cy="371.2" r="0.4" fill="#50507a" opacity="0.5"/><circle cx="198.3" cy="376.6" r="0.4" fill="#50507a" opacity="0.5"/><circle cx="200.1" cy="375.4" r="0.4" fill="#50507a" opacity="0.5"/><circle cx="210.3" cy="367.9" r="0.4" fill="#50507a" opacity="0.5"/><circle cx="213.5" cy="368.2" r="0.4" fill="#50507a" opacity="0.5"/><circle cx="207.8" cy="369.6" r="0.4" fill="#50507a" opacity="0.5"/><circle cx="214.5" cy="366.8" r="0.4" fill="#50507a" opacity="0.5"/><circle cx="211.6" cy="369.9" r="0.4" fill="#50507a" opacity="0.5"/><circle cx="211.7" cy="369.4" r="0.4" fill="#50507a" opacity="0.5"/><circle cx="201.8" cy="374.8" r="0.4" fill="#50507a" opacity="0.5"/><circle cx="197.3" cy="377.1" r="0.4" fill="#50507a" opacity="0.5"/><circle cx="201.3" cy="376.4" r="0.4" fill="#50507a" opacity="0.5"/><circle cx="200.0" cy="376.7" r="0.4" fill="#50507a" opacity="0.5"/><circle cx="215.0" cy="367.4" r="0.4" fill="#50507a" opacity="0.5"/><circle cx="209.3" cy="369.4" r="0.4" fill="#50507a" opacity="0.5"/><circle cx="213.7" cy="367.9" r="0.4" fill="#50507a" opacity="0.5"/><circle cx="206.2" cy="371.3" r="0.4" fill="#50507a" opacity="0.5"/><circle cx="200.7" cy="376.1" r="0.4" fill="#50507a" opacity="0.5"/><circle cx="200.6" cy="374.5" r="0.4" fill="#50507a" opacity="0.5"/><circle cx="203.5" cy="374.1" r="0.4" fill="#50507a" opacity="0.5"/><circle cx="202.3" cy="371.8" r="0.4" fill="#50507a" opacity="0.5"/><circle cx="209.2" cy="368.8" r="0.4" fill="#50507a" opacity="0.5"/><circle cx="212.4" cy="369.9" r="0.4" fill="#50507a" opacity="0.5"/><circle cx="213.6" cy="366.7" r="0.4" fill="#50507a" opacity="0.5"/><circle cx="204.6" cy="372.8" r="0.4" fill="#50507a" opacity="0.5"/><circle cx="209.9" cy="369.8" r="0.4" fill="#50507a" opacity="0.5"/><circle cx="201.9" cy="375.5" r="0.4" fill="#50507a" opacity="0.5"/><circle cx="199.1" cy="376.6" r="0.4" fill="#50507a" opacity="0.5"/><circle cx="199.3" cy="376.2" r="0.4" fill="#50507a" opacity="0.5"/><circle cx="213.7" cy="366.4" r="0.4" fill="#50507a" opacity="0.5"/><circle cx="201.7" cy="375.0" r="0.4" fill="#50507a" opacity="0.5"/><circle cx="201.7" cy="373.2" r="0.4" fill="#50507a" opacity="0.5"/><circle cx="205.9" cy="371.7" r="0.4" fill="#50507a" opacity="0.5"/><circle cx="199.0" cy="376.6" r="0.4" fill="#50507a" opacity="0.5"/><circle cx="213.4" cy="367.5" r="0.4" fill="#50507a" opacity="0.5"/><circle cx="215.0" cy="365.8" r="0.4" fill="#50507a" opacity="0.5"/><circle cx="209.0" cy="370.9" r="0.4" fill="#50507a" opacity="0.5"/><circle cx="217.1" cy="364.4" r="0.4" fill="#50507a" opacity="0.5"/><circle cx="202.1" cy="374.5" r="0.4" fill="#50507a" opacity="0.5"/><circle cx="210.5" cy="367.7" r="0.4" fill="#50507a" opacity="0.5"/><circle cx="204.1" cy="375.1" r="0.4" fill="#50507a" opacity="0.5"/><circle cx="217.3" cy="364.0" r="0.4" fill="#50507a" opacity="0.5"/><circle cx="213.0" cy="366.7" r="0.4" fill="#50507a" opacity="0.5"/><circle cx="207.2" cy="371.2" r="0.4" fill="#50507a" opacity="0.5"/><circle cx="197.9" cy="377.6" r="0.4" fill="#50507a" opacity="0.5"/><circle cx="211.7" cy="368.7" r="0.4" fill="#50507a" opacity="0.5"/><circle cx="217.8" cy="365.9" r="0.4" fill="#50507a" opacity="0.5"/><circle cx="204.6" cy="373.6" r="0.4" fill="#50507a" opacity="0.5"/><circle cx="201.6" cy="376.2" r="0.4" fill="#50507a" opacity="0.5"/><circle cx="215.2" cy="365.5" r="0.4" fill="#50507a" opacity="0.5"/><circle cx="210.0" cy="369.0" r="0.4" fill="#50507a" opacity="0.5"/><circle cx="211.5" cy="368.4" r="0.4" fill="#50507a" opacity="0.5"/><circle cx="211.1" cy="368.4" r="0.4" fill="#50507a" opacity="0.5"/><circle cx="211.6" cy="369.4" r="0.4" fill="#50507a" opacity="0.5"/><circle cx="215.2" cy="366.3" r="0.4" fill="#50507a" opacity="0.5"/><circle cx="215.4" cy="365.3" r="0.4" fill="#50507a" opacity="0.5"/><circle cx="201.2" cy="377.5" r="0.4" fill="#50507a" opacity="0.5"/><circle cx="214.0" cy="369.1" r="0.4" fill="#50507a" opacity="0.5"/><circle cx="215.6" cy="364.8" r="0.4" fill="#50507a" opacity="0.5"/><circle cx="208.0" cy="370.8" r="0.4" fill="#50507a" opacity="0.5"/><circle cx="215.2" cy="364.7" r="0.4" fill="#50507a" opacity="0.5"/><circle cx="213.4" cy="366.9" r="0.4" fill="#50507a" opacity="0.5"/><circle cx="213.4" cy="368.1" r="0.4" fill="#50507a" opacity="0.5"/><circle cx="203.1" cy="375.0" r="0.4" fill="#50507a" opacity="0.5"/><circle cx="202.0" cy="374.4" r="0.4" fill="#50507a" opacity="0.5"/><circle cx="214.1" cy="367.3" r="0.4" fill="#50507a" opacity="0.5"/><circle cx="209.4" cy="369.7" r="0.4" fill="#50507a" opacity="0.5"/><circle cx="213.7" cy="366.3" r="0.4" fill="#50507a" opacity="0.5"/><circle cx="208.5" cy="371.1" r="0.4" fill="#50507a" opacity="0.5"/><circle cx="202.8" cy="375.1" r="0.4" fill="#50507a" opacity="0.5"/><circle cx="199.2" cy="375.4" r="0.4" fill="#50507a" opacity="0.5"/><circle cx="207.5" cy="371.7" r="0.4" fill="#50507a" opacity="0.5"/><circle cx="208.2" cy="370.1" r="0.4" fill="#50507a" opacity="0.5"/><circle cx="208.2" cy="371.3" r="0.4" fill="#50507a" opacity="0.5"/><circle cx="210.9" cy="367.9" r="0.4" fill="#50507a" opacity="0.5"/><circle cx="212.9" cy="367.6" r="0.4" fill="#50507a" opacity="0.5"/><circle cx="207.9" cy="369.9" r="0.4" fill="#50507a" opacity="0.5"/><circle cx="209.5" cy="369.3" r="0.4" fill="#50507a" opacity="0.5"/><circle cx="208.0" cy="371.0" r="0.4" fill="#50507a" opacity="0.5"/><circle cx="214.9" cy="366.5" r="0.4" fill="#50507a" opacity="0.5"/><circle cx="209.9" cy="369.9" r="0.4" fill="#50507a" opacity="0.5"/><circle cx="200.9" cy="376.3" r="0.4" fill="#50507a" opacity="0.5"/><circle cx="198.9" cy="376.7" r="0.4" fill="#50507a" opacity="0.5"/><circle cx="210.7" cy="367.1" r="0.4" fill="#50507a" opacity="0.5"/><circle cx="200.1" cy="373.9" r="0.4" fill="#50507a" opacity="0.5"/><circle cx="202.2" cy="373.7" r="0.4" fill="#50507a" opacity="0.5"/><circle cx="202.6" cy="374.3" r="0.4" fill="#50507a" opacity="0.5"/><circle cx="208.6" cy="371.3" r="0.4" fill="#50507a" opacity="0.5"/><circle cx="199.5" cy="375.8" r="0.4" fill="#50507a" opacity="0.5"/><circle cx="204.2" cy="374.0" r="0.4" fill="#50507a" opacity="0.5"/><circle cx="212.5" cy="368.8" r="0.4" fill="#50507a" opacity="0.5"/><circle cx="206.8" cy="372.1" r="0.4" fill="#50507a" opacity="0.5"/><circle cx="209.0" cy="369.7" r="0.4" fill="#50507a" opacity="0.5"/><circle cx="216.9" cy="362.9" r="0.4" fill="#50507a" opacity="0.5"/><circle cx="216.1" cy="368.9" r="0.38" fill="#5a5a80" opacity="0.55"/><circle cx="229.6" cy="369.8" r="0.38" fill="#5a5a80" opacity="0.55"/><circle cx="219.4" cy="371.0" r="0.38" fill="#5a5a80" opacity="0.55"/><circle cx="232.2" cy="371.1" r="0.38" fill="#5a5a80" opacity="0.55"/><circle cx="230.4" cy="368.9" r="0.38" fill="#5a5a80" opacity="0.55"/><circle cx="232.4" cy="370.5" r="0.38" fill="#5a5a80" opacity="0.55"/><circle cx="225.4" cy="368.6" r="0.38" fill="#5a5a80" opacity="0.55"/><circle cx="215.2" cy="367.9" r="0.38" fill="#5a5a80" opacity="0.55"/><circle cx="227.8" cy="368.1" r="0.38" fill="#5a5a80" opacity="0.55"/><circle cx="232.8" cy="369.5" r="0.38" fill="#5a5a80" opacity="0.55"/><circle cx="226.7" cy="369.4" r="0.38" fill="#5a5a80" opacity="0.55"/><circle cx="231.1" cy="367.9" r="0.38" fill="#5a5a80" opacity="0.55"/><circle cx="215.3" cy="371.0" r="0.38" fill="#5a5a80" opacity="0.55"/><circle cx="220.8" cy="366.7" r="0.38" fill="#5a5a80" opacity="0.55"/><circle cx="225.1" cy="370.9" r="0.38" fill="#5a5a80" opacity="0.55"/><circle cx="216.6" cy="368.0" r="0.38" fill="#5a5a80" opacity="0.55"/><circle cx="224.5" cy="369.1" r="0.38" fill="#5a5a80" opacity="0.55"/><circle cx="217.2" cy="370.3" r="0.38" fill="#5a5a80" opacity="0.55"/><circle cx="215.0" cy="369.7" r="0.38" fill="#5a5a80" opacity="0.55"/><circle cx="220.1" cy="371.3" r="0.38" fill="#5a5a80" opacity="0.55"/><circle cx="229.2" cy="368.2" r="0.38" fill="#5a5a80" opacity="0.55"/><circle cx="217.6" cy="372.1" r="0.38" fill="#5a5a80" opacity="0.55"/><circle cx="220.9" cy="371.1" r="0.38" fill="#5a5a80" opacity="0.55"/><circle cx="214.3" cy="369.2" r="0.38" fill="#5a5a80" opacity="0.55"/><circle cx="228.7" cy="367.3" r="0.38" fill="#5a5a80" opacity="0.55"/><circle cx="223.5" cy="368.4" r="0.38" fill="#5a5a80" opacity="0.55"/><circle cx="232.7" cy="373.0" r="0.38" fill="#5a5a80" opacity="0.55"/><circle cx="222.6" cy="372.1" r="0.38" fill="#5a5a80" opacity="0.55"/><circle cx="223.9" cy="370.4" r="0.38" fill="#5a5a80" opacity="0.55"/><circle cx="224.1" cy="366.7" r="0.38" fill="#5a5a80" opacity="0.55"/><circle cx="227.8" cy="371.5" r="0.38" fill="#5a5a80" opacity="0.55"/><circle cx="230.6" cy="368.7" r="0.38" fill="#5a5a80" opacity="0.55"/><circle cx="228.1" cy="367.2" r="0.38" fill="#5a5a80" opacity="0.55"/><circle cx="221.0" cy="366.9" r="0.38" fill="#5a5a80" opacity="0.55"/><circle cx="215.1" cy="369.7" r="0.38" fill="#5a5a80" opacity="0.55"/><circle cx="228.8" cy="369.8" r="0.38" fill="#5a5a80" opacity="0.55"/><circle cx="219.1" cy="369.6" r="0.38" fill="#5a5a80" opacity="0.55"/><circle cx="230.8" cy="370.0" r="0.38" fill="#5a5a80" opacity="0.55"/><circle cx="231.4" cy="367.9" r="0.38" fill="#5a5a80" opacity="0.55"/><circle cx="218.8" cy="367.1" r="0.38" fill="#5a5a80" opacity="0.55"/><circle cx="219.9" cy="367.5" r="0.38" fill="#5a5a80" opacity="0.55"/><circle cx="222.9" cy="369.4" r="0.38" fill="#5a5a80" opacity="0.55"/><circle cx="219.3" cy="376.1" r="0.38" fill="#5a5a80" opacity="0.55"/><circle cx="224.9" cy="367.3" r="0.38" fill="#5a5a80" opacity="0.55"/><circle cx="218.9" cy="371.3" r="0.38" fill="#5a5a80" opacity="0.55"/><circle cx="221.1" cy="368.5" r="0.38" fill="#5a5a80" opacity="0.55"/><circle cx="214.0" cy="366.7" r="0.38" fill="#5a5a80" opacity="0.55"/><circle cx="224.1" cy="371.1" r="0.38" fill="#5a5a80" opacity="0.55"/><circle cx="218.0" cy="368.7" r="0.38" fill="#5a5a80" opacity="0.55"/><circle cx="219.3" cy="369.0" r="0.38" fill="#5a5a80" opacity="0.55"/><circle cx="215.8" cy="368.4" r="0.38" fill="#5a5a80" opacity="0.55"/><circle cx="214.4" cy="369.5" r="0.38" fill="#5a5a80" opacity="0.55"/><circle cx="220.1" cy="369.4" r="0.38" fill="#5a5a80" opacity="0.55"/><circle cx="224.6" cy="372.6" r="0.38" fill="#5a5a80" opacity="0.55"/><circle cx="229.0" cy="366.6" r="0.38" fill="#5a5a80" opacity="0.55"/><circle cx="231.6" cy="365.4" r="0.38" fill="#5a5a80" opacity="0.55"/><circle cx="221.8" cy="365.4" r="0.38" fill="#5a5a80" opacity="0.55"/><circle cx="217.0" cy="376.0" r="0.38" fill="#5a5a80" opacity="0.55"/><circle cx="228.5" cy="368.5" r="0.38" fill="#5a5a80" opacity="0.55"/><circle cx="230.7" cy="368.4" r="0.38" fill="#5a5a80" opacity="0.55"/><circle cx="231.8" cy="365.9" r="0.38" fill="#5a5a80" opacity="0.55"/><circle cx="230.2" cy="365.8" r="0.38" fill="#5a5a80" opacity="0.55"/><circle cx="216.8" cy="365.8" r="0.38" fill="#5a5a80" opacity="0.55"/><circle cx="230.7" cy="368.5" r="0.38" fill="#5a5a80" opacity="0.55"/><circle cx="230.1" cy="370.7" r="0.38" fill="#5a5a80" opacity="0.55"/><circle cx="231.9" cy="365.8" r="0.38" fill="#5a5a80" opacity="0.55"/><circle cx="227.7" cy="368.3" r="0.38" fill="#5a5a80" opacity="0.55"/><circle cx="214.6" cy="367.2" r="0.38" fill="#5a5a80" opacity="0.55"/><circle cx="216.7" cy="368.2" r="0.38" fill="#5a5a80" opacity="0.55"/><circle cx="230.7" cy="370.0" r="0.38" fill="#5a5a80" opacity="0.55"/><circle cx="225.2" cy="366.3" r="0.38" fill="#5a5a80" opacity="0.55"/><circle cx="227.6" cy="366.2" r="0.38" fill="#5a5a80" opacity="0.55"/><circle cx="223.8" cy="373.9" r="0.38" fill="#5a5a80" opacity="0.55"/><circle cx="229.0" cy="369.1" r="0.38" fill="#5a5a80" opacity="0.55"/><circle cx="224.1" cy="365.1" r="0.38" fill="#5a5a80" opacity="0.55"/><circle cx="215.3" cy="368.1" r="0.38" fill="#5a5a80" opacity="0.55"/><circle cx="228.7" cy="369.0" r="0.38" fill="#5a5a80" opacity="0.55"/><circle cx="219.3" cy="370.1" r="0.38" fill="#5a5a80" opacity="0.55"/><circle cx="228.6" cy="370.2" r="0.38" fill="#5a5a80" opacity="0.55"/><circle cx="233.5" cy="373.3" r="0.38" fill="#5a5a80" opacity="0.55"/>
<rect x="210.00" y="371.20" width="19.40" height="11.20" fill="none" stroke="#333" stroke-width="0.6" />
<text x="239.20" y="359.30" font-size="4.6" fill="#222" stroke="#222" stroke-width="0.2" text-anchor="end">Line3</text>
<line x1="190.50" y1="353.70" x2="190.50" y2="382.40" stroke="#222" stroke-width="0.8"/>
<line x1="190.50" y1="382.40" x2="241.30" y2="382.40" stroke="#222" stroke-width="0.8"/>
<g transform="translate(187.90 377.60) rotate(-55)"><text x="0" y="0" font-size="3.3" text-anchor="middle" fill="#333" stroke="#333" stroke-width="0.12">10<tspan font-size="2.3" dy="-1.3">1</tspan></text></g>
<path d="M188.7 378.2 L190.5 379.2 L188.7 380.2 Z" fill="#111"/>
<g transform="translate(187.90 370.60) rotate(-55)"><text x="0" y="0" font-size="3.3" text-anchor="middle" fill="#333" stroke="#333" stroke-width="0.12">10<tspan font-size="2.3" dy="-1.3">2</tspan></text></g>
<path d="M188.7 371.2 L190.5 372.2 L188.7 373.2 Z" fill="#111"/>
<g transform="translate(187.90 363.60) rotate(-55)"><text x="0" y="0" font-size="3.3" text-anchor="middle" fill="#333" stroke="#333" stroke-width="0.12">10<tspan font-size="2.3" dy="-1.3">3</tspan></text></g>
<path d="M188.7 364.2 L190.5 365.2 L188.7 366.2 Z" fill="#111"/>
<g transform="translate(187.90 356.60) rotate(-55)"><text x="0" y="0" font-size="3.3" text-anchor="middle" fill="#333" stroke="#333" stroke-width="0.12">10<tspan font-size="2.3" dy="-1.3">4</tspan></text></g>
<path d="M188.7 357.2 L190.5 358.2 L188.7 359.2 Z" fill="#111"/>
<text x="180.50" y="366.85" font-size="4.0" fill="#222" stroke="#222" stroke-width="0.2" text-anchor="middle" textLength="11.6" lengthAdjust="spacingAndGlyphs" transform="rotate(-90 180.50 366.85)">CD48</text>
<g transform="translate(196.50 388.40) rotate(-55)"><text x="0" y="0" font-size="3.3" text-anchor="middle" fill="#333" stroke="#333" stroke-width="0.12">10<tspan font-size="2.3" dy="-1.3">0</tspan></text></g>
<path d="M196.0 384.2 L197.0 382.4 L198.0 384.2 Z" fill="#111"/>
<g transform="translate(209.00 388.40) rotate(-55)"><text x="0" y="0" font-size="3.3" text-anchor="middle" fill="#333" stroke="#333" stroke-width="0.12">10<tspan font-size="2.3" dy="-1.3">1</tspan></text></g>
<path d="M208.5 384.2 L209.5 382.4 L210.5 384.2 Z" fill="#111"/>
<g transform="translate(221.50 388.40) rotate(-55)"><text x="0" y="0" font-size="3.3" text-anchor="middle" fill="#333" stroke="#333" stroke-width="0.12">10<tspan font-size="2.3" dy="-1.3">2</tspan></text></g>
<path d="M221.0 384.2 L222.0 382.4 L223.0 384.2 Z" fill="#111"/>
<g transform="translate(234.00 388.40) rotate(-55)"><text x="0" y="0" font-size="3.3" text-anchor="middle" fill="#333" stroke="#333" stroke-width="0.12">10<tspan font-size="2.3" dy="-1.3">3</tspan></text></g>
<path d="M233.5 384.2 L234.5 382.4 L235.5 384.2 Z" fill="#111"/>
<text x="219.60" y="394.40" font-size="4.6" fill="#222" stroke="#222" stroke-width="0.2" text-anchor="middle">CD150</text>
<text x="296.30" y="5.90" font-size="6.6" fill="#000" stroke="#000" stroke-width="0.2" font-weight="bold">D</text>
<line x1="309.70" y1="6.00" x2="309.70" y2="85.40" stroke="#bbb" stroke-width="0.6"/>
<line x1="308.50" y1="85.40" x2="309.70" y2="85.40" stroke="#bbb" stroke-width="0.5"/>
<text x="307.20" y="86.84" font-size="4.0" fill="#222" stroke="#222" stroke-width="0.2" text-anchor="end">0</text>
<line x1="308.50" y1="76.85" x2="309.70" y2="76.85" stroke="#bbb" stroke-width="0.5"/>
<text x="307.20" y="78.29" font-size="4.0" fill="#222" stroke="#222" stroke-width="0.2" text-anchor="end">10</text>
<line x1="308.50" y1="68.30" x2="309.70" y2="68.30" stroke="#bbb" stroke-width="0.5"/>
<text x="307.20" y="69.74" font-size="4.0" fill="#222" stroke="#222" stroke-width="0.2" text-anchor="end">20</text>
<line x1="308.50" y1="59.75" x2="309.70" y2="59.75" stroke="#bbb" stroke-width="0.5"/>
<text x="307.20" y="61.19" font-size="4.0" fill="#222" stroke="#222" stroke-width="0.2" text-anchor="end">30</text>
<line x1="308.50" y1="51.20" x2="309.70" y2="51.20" stroke="#bbb" stroke-width="0.5"/>
<text x="307.20" y="52.64" font-size="4.0" fill="#222" stroke="#222" stroke-width="0.2" text-anchor="end">40</text>
<line x1="308.50" y1="42.65" x2="309.70" y2="42.65" stroke="#bbb" stroke-width="0.5"/>
<text x="307.20" y="44.09" font-size="4.0" fill="#222" stroke="#222" stroke-width="0.2" text-anchor="end">50</text>
<line x1="308.50" y1="34.10" x2="309.70" y2="34.10" stroke="#bbb" stroke-width="0.5"/>
<text x="307.20" y="35.54" font-size="4.0" fill="#222" stroke="#222" stroke-width="0.2" text-anchor="end">60</text>
<line x1="308.50" y1="25.55" x2="309.70" y2="25.55" stroke="#bbb" stroke-width="0.5"/>
<text x="307.20" y="26.99" font-size="4.0" fill="#222" stroke="#222" stroke-width="0.2" text-anchor="end">70</text>
<line x1="308.50" y1="17.00" x2="309.70" y2="17.00" stroke="#bbb" stroke-width="0.5"/>
<text x="307.20" y="18.44" font-size="4.0" fill="#222" stroke="#222" stroke-width="0.2" text-anchor="end">80</text>
<line x1="308.50" y1="8.45" x2="309.70" y2="8.45" stroke="#bbb" stroke-width="0.5"/>
<text x="307.20" y="9.89" font-size="4.0" fill="#222" stroke="#222" stroke-width="0.2" text-anchor="end">90</text>
<line x1="309.70" y1="85.40" x2="407.70" y2="85.40" stroke="#aaa" stroke-width="0.8"/>
<rect x="314.50" y="83.69" width="3.50" height="1.71" fill="#fff" stroke="#555" stroke-width="0.55" />
<line x1="316.25" y1="83.26" x2="316.25" y2="84.12" stroke="#444" stroke-width="0.5"/>
<line x1="315.25" y1="83.26" x2="317.25" y2="83.26" stroke="#444" stroke-width="0.5"/>
<line x1="315.25" y1="84.12" x2="317.25" y2="84.12" stroke="#444" stroke-width="0.5"/>
<rect x="318.00" y="84.55" width="4.00" height="0.86" fill="url(#chkD)" stroke="#222" stroke-width="0.55" />
<rect x="325.00" y="81.98" width="5.00" height="3.42" fill="#000" stroke="#222" stroke-width="0.55" />
<line x1="327.50" y1="81.30" x2="327.50" y2="82.66" stroke="#444" stroke-width="0.5"/>
<line x1="326.50" y1="81.30" x2="328.50" y2="81.30" stroke="#444" stroke-width="0.5"/>
<line x1="326.50" y1="82.66" x2="328.50" y2="82.66" stroke="#444" stroke-width="0.5"/>
<rect x="338.40" y="22.99" width="5.20" height="62.41" fill="#fff" stroke="#555" stroke-width="0.55" />
<line x1="341.00" y1="20.85" x2="341.00" y2="25.12" stroke="#444" stroke-width="0.5"/>
<line x1="340.00" y1="20.85" x2="342.00" y2="20.85" stroke="#444" stroke-width="0.5"/>
<line x1="340.00" y1="25.12" x2="342.00" y2="25.12" stroke="#444" stroke-width="0.5"/>
<rect x="343.60" y="13.15" width="6.00" height="72.25" fill="url(#chkD)" stroke="#222" stroke-width="0.55" />
<line x1="346.60" y1="11.87" x2="346.60" y2="14.44" stroke="#444" stroke-width="0.5"/>
<line x1="345.60" y1="11.87" x2="347.60" y2="11.87" stroke="#444" stroke-width="0.5"/>
<line x1="345.60" y1="14.44" x2="347.60" y2="14.44" stroke="#444" stroke-width="0.5"/>
<rect x="349.60" y="38.80" width="5.10" height="46.60" fill="#000" stroke="#222" stroke-width="0.55" />
<line x1="352.15" y1="37.95" x2="352.15" y2="39.66" stroke="#444" stroke-width="0.5"/>
<line x1="351.15" y1="37.95" x2="353.15" y2="37.95" stroke="#444" stroke-width="0.5"/>
<line x1="351.15" y1="39.66" x2="353.15" y2="39.66" stroke="#444" stroke-width="0.5"/>
<rect x="361.90" y="78.22" width="6.00" height="7.18" fill="#fff" stroke="#555" stroke-width="0.55" />
<line x1="364.90" y1="77.79" x2="364.90" y2="78.65" stroke="#444" stroke-width="0.5"/>
<line x1="363.90" y1="77.79" x2="365.90" y2="77.79" stroke="#444" stroke-width="0.5"/>
<line x1="363.90" y1="78.65" x2="365.90" y2="78.65" stroke="#444" stroke-width="0.5"/>
<rect x="367.90" y="81.72" width="5.60" height="3.68" fill="url(#chkD)" stroke="#222" stroke-width="0.55" />
<line x1="370.70" y1="81.04" x2="370.70" y2="82.41" stroke="#444" stroke-width="0.5"/>
<line x1="369.70" y1="81.04" x2="371.70" y2="81.04" stroke="#444" stroke-width="0.5"/>
<line x1="369.70" y1="82.41" x2="371.70" y2="82.41" stroke="#444" stroke-width="0.5"/>
<rect x="374.00" y="76.68" width="4.80" height="8.72" fill="#000" stroke="#222" stroke-width="0.55" />
<line x1="376.40" y1="76.25" x2="376.40" y2="77.11" stroke="#444" stroke-width="0.5"/>
<line x1="375.40" y1="76.25" x2="377.40" y2="76.25" stroke="#444" stroke-width="0.5"/>
<line x1="375.40" y1="77.11" x2="377.40" y2="77.11" stroke="#444" stroke-width="0.5"/>
<rect x="387.30" y="75.23" width="5.60" height="10.17" fill="#fff" stroke="#555" stroke-width="0.55" />
<line x1="390.10" y1="73.52" x2="390.10" y2="76.94" stroke="#444" stroke-width="0.5"/>
<line x1="389.10" y1="73.52" x2="391.10" y2="73.52" stroke="#444" stroke-width="0.5"/>
<line x1="389.10" y1="76.94" x2="391.10" y2="76.94" stroke="#444" stroke-width="0.5"/>
<rect x="392.90" y="79.59" width="4.60" height="5.81" fill="url(#chkD)" stroke="#222" stroke-width="0.55" />
<line x1="395.20" y1="78.30" x2="395.20" y2="80.87" stroke="#444" stroke-width="0.5"/>
<line x1="394.20" y1="78.30" x2="396.20" y2="78.30" stroke="#444" stroke-width="0.5"/>
<line x1="394.20" y1="80.87" x2="396.20" y2="80.87" stroke="#444" stroke-width="0.5"/>
<rect x="398.20" y="71.81" width="5.70" height="13.59" fill="#000" stroke="#222" stroke-width="0.55" />
<line x1="401.05" y1="70.95" x2="401.05" y2="72.66" stroke="#444" stroke-width="0.5"/>
<line x1="400.05" y1="70.95" x2="402.05" y2="70.95" stroke="#444" stroke-width="0.5"/>
<line x1="400.05" y1="72.66" x2="402.05" y2="72.66" stroke="#444" stroke-width="0.5"/>
<text x="321.00" y="90.60" font-size="4.0" fill="#333" stroke="#333" stroke-width="0.2" text-anchor="middle">sub-G0/G1</text>
<text x="344.40" y="90.60" font-size="4.0" fill="#333" stroke="#333" stroke-width="0.2" text-anchor="middle">G0/G1</text>
<text x="369.80" y="90.60" font-size="4.0" fill="#333" stroke="#333" stroke-width="0.2" text-anchor="middle">S</text>
<text x="393.00" y="90.60" font-size="4.0" fill="#333" stroke="#333" stroke-width="0.2" text-anchor="middle">G2M</text>
<circle cx="393.05" cy="10.90" r="0.95" fill="#fff" stroke="#333" stroke-width="0.35"/>
<text x="394.30" y="12.16" font-size="3.5" fill="#222" stroke="#222" stroke-width="0.2">Cont</text>
<circle cx="393.05" cy="15.35" r="0.95" fill="#777" stroke="#333" stroke-width="0.35"/>
<text x="394.30" y="16.61" font-size="3.5" fill="#222" stroke="#222" stroke-width="0.2">Line 6</text>
<circle cx="393.05" cy="19.80" r="0.95" fill="#000" stroke="#333" stroke-width="0.35"/>
<text x="394.30" y="21.06" font-size="3.5" fill="#222" stroke="#222" stroke-width="0.2">Line3</text>
<text x="301.90" y="46.00" font-size="4.2" fill="#222" stroke="#222" stroke-width="0.22" text-anchor="middle" font-weight="bold" textLength="42" lengthAdjust="spacingAndGlyphs" transform="rotate(-90 301.90 46.00)">% of Lin<tspan font-size="2.8" dy="-1.3">-</tspan><tspan dy="1.3"> Sca-1</tspan><tspan font-size="2.8" dy="-1.3">+</tspan><tspan dy="1.3"> mBMCs</tspan></text>
<line x1="422.60" y1="6.00" x2="422.60" y2="85.40" stroke="#bbb" stroke-width="0.6"/>
<line x1="421.40" y1="85.40" x2="422.60" y2="85.40" stroke="#bbb" stroke-width="0.5"/>
<text x="419.20" y="86.84" font-size="4.0" fill="#222" stroke="#222" stroke-width="0.2" text-anchor="end">0</text>
<line x1="421.40" y1="76.85" x2="422.60" y2="76.85" stroke="#bbb" stroke-width="0.5"/>
<text x="419.20" y="78.29" font-size="4.0" fill="#222" stroke="#222" stroke-width="0.2" text-anchor="end">10</text>
<line x1="421.40" y1="68.30" x2="422.60" y2="68.30" stroke="#bbb" stroke-width="0.5"/>
<text x="419.20" y="69.74" font-size="4.0" fill="#222" stroke="#222" stroke-width="0.2" text-anchor="end">20</text>
<line x1="421.40" y1="59.75" x2="422.60" y2="59.75" stroke="#bbb" stroke-width="0.5"/>
<text x="419.20" y="61.19" font-size="4.0" fill="#222" stroke="#222" stroke-width="0.2" text-anchor="end">30</text>
<line x1="421.40" y1="51.20" x2="422.60" y2="51.20" stroke="#bbb" stroke-width="0.5"/>
<text x="419.20" y="52.64" font-size="4.0" fill="#222" stroke="#222" stroke-width="0.2" text-anchor="end">40</text>
<line x1="421.40" y1="42.65" x2="422.60" y2="42.65" stroke="#bbb" stroke-width="0.5"/>
<text x="419.20" y="44.09" font-size="4.0" fill="#222" stroke="#222" stroke-width="0.2" text-anchor="end">50</text>
<line x1="421.40" y1="34.10" x2="422.60" y2="34.10" stroke="#bbb" stroke-width="0.5"/>
<text x="419.20" y="35.54" font-size="4.0" fill="#222" stroke="#222" stroke-width="0.2" text-anchor="end">60</text>
<line x1="421.40" y1="25.55" x2="422.60" y2="25.55" stroke="#bbb" stroke-width="0.5"/>
<text x="419.20" y="26.99" font-size="4.0" fill="#222" stroke="#222" stroke-width="0.2" text-anchor="end">70</text>
<line x1="421.40" y1="17.00" x2="422.60" y2="17.00" stroke="#bbb" stroke-width="0.5"/>
<text x="419.20" y="18.44" font-size="4.0" fill="#222" stroke="#222" stroke-width="0.2" text-anchor="end">80</text>
<line x1="421.40" y1="8.45" x2="422.60" y2="8.45" stroke="#bbb" stroke-width="0.5"/>
<text x="419.20" y="9.89" font-size="4.0" fill="#222" stroke="#222" stroke-width="0.2" text-anchor="end">90</text>
<line x1="422.60" y1="85.40" x2="520.60" y2="85.40" stroke="#aaa" stroke-width="0.8"/>
<rect x="427.20" y="83.69" width="3.60" height="1.71" fill="#fff" stroke="#555" stroke-width="0.55" />
<line x1="429.00" y1="83.26" x2="429.00" y2="84.12" stroke="#444" stroke-width="0.5"/>
<line x1="428.00" y1="83.26" x2="430.00" y2="83.26" stroke="#444" stroke-width="0.5"/>
<line x1="428.00" y1="84.12" x2="430.00" y2="84.12" stroke="#444" stroke-width="0.5"/>
<rect x="430.80" y="84.12" width="3.60" height="1.28" fill="url(#chkD)" stroke="#222" stroke-width="0.55" />
<line x1="432.60" y1="83.86" x2="432.60" y2="84.37" stroke="#444" stroke-width="0.5"/>
<line x1="431.60" y1="83.86" x2="433.60" y2="83.86" stroke="#444" stroke-width="0.5"/>
<line x1="431.60" y1="84.37" x2="433.60" y2="84.37" stroke="#444" stroke-width="0.5"/>
<rect x="437.30" y="81.12" width="5.30" height="4.28" fill="#000" stroke="#222" stroke-width="0.55" />
<line x1="439.95" y1="80.27" x2="439.95" y2="81.98" stroke="#444" stroke-width="0.5"/>
<line x1="438.95" y1="80.27" x2="440.95" y2="80.27" stroke="#444" stroke-width="0.5"/>
<line x1="438.95" y1="81.98" x2="440.95" y2="81.98" stroke="#444" stroke-width="0.5"/>
<rect x="450.50" y="30.68" width="5.30" height="54.72" fill="#fff" stroke="#555" stroke-width="0.55" />
<line x1="453.15" y1="29.40" x2="453.15" y2="31.96" stroke="#444" stroke-width="0.5"/>
<line x1="452.15" y1="29.40" x2="454.15" y2="29.40" stroke="#444" stroke-width="0.5"/>
<line x1="452.15" y1="31.96" x2="454.15" y2="31.96" stroke="#444" stroke-width="0.5"/>
<rect x="455.80" y="33.25" width="5.50" height="52.16" fill="url(#chkD)" stroke="#222" stroke-width="0.55" />
<line x1="458.55" y1="28.97" x2="458.55" y2="37.52" stroke="#444" stroke-width="0.5"/>
<line x1="457.55" y1="28.97" x2="459.55" y2="28.97" stroke="#444" stroke-width="0.5"/>
<line x1="457.55" y1="37.52" x2="459.55" y2="37.52" stroke="#444" stroke-width="0.5"/>
<rect x="461.30" y="39.23" width="5.30" height="46.17" fill="#000" stroke="#222" stroke-width="0.55" />
<line x1="463.95" y1="37.95" x2="463.95" y2="40.51" stroke="#444" stroke-width="0.5"/>
<line x1="462.95" y1="37.95" x2="464.95" y2="37.95" stroke="#444" stroke-width="0.5"/>
<line x1="462.95" y1="40.51" x2="464.95" y2="40.51" stroke="#444" stroke-width="0.5"/>
<rect x="475.30" y="61.89" width="5.30" height="23.51" fill="#fff" stroke="#555" stroke-width="0.55" />
<line x1="477.95" y1="61.46" x2="477.95" y2="62.32" stroke="#444" stroke-width="0.5"/>
<line x1="476.95" y1="61.46" x2="478.95" y2="61.46" stroke="#444" stroke-width="0.5"/>
<line x1="476.95" y1="62.32" x2="478.95" y2="62.32" stroke="#444" stroke-width="0.5"/>
<rect x="480.60" y="64.88" width="5.40" height="20.52" fill="url(#chkD)" stroke="#222" stroke-width="0.55" />
<line x1="483.30" y1="56.33" x2="483.30" y2="73.43" stroke="#444" stroke-width="0.5"/>
<line x1="482.30" y1="56.33" x2="484.30" y2="56.33" stroke="#444" stroke-width="0.5"/>
<line x1="482.30" y1="73.43" x2="484.30" y2="73.43" stroke="#444" stroke-width="0.5"/>
<rect x="486.00" y="56.33" width="5.40" height="29.07" fill="#000" stroke="#222" stroke-width="0.55" />
<line x1="488.70" y1="55.48" x2="488.70" y2="57.19" stroke="#444" stroke-width="0.5"/>
<line x1="487.70" y1="55.48" x2="489.70" y2="55.48" stroke="#444" stroke-width="0.5"/>
<line x1="487.70" y1="57.19" x2="489.70" y2="57.19" stroke="#444" stroke-width="0.5"/>
<rect x="500.50" y="83.69" width="5.00" height="1.71" fill="#fff" stroke="#555" stroke-width="0.55" />
<line x1="503.00" y1="83.43" x2="503.00" y2="83.95" stroke="#444" stroke-width="0.5"/>
<line x1="502.00" y1="83.43" x2="504.00" y2="83.43" stroke="#444" stroke-width="0.5"/>
<line x1="502.00" y1="83.95" x2="504.00" y2="83.95" stroke="#444" stroke-width="0.5"/>
<rect x="505.50" y="75.14" width="4.60" height="10.26" fill="url(#chkD)" stroke="#222" stroke-width="0.55" />
<line x1="507.80" y1="70.87" x2="507.80" y2="79.42" stroke="#444" stroke-width="0.5"/>
<line x1="506.80" y1="70.87" x2="508.80" y2="70.87" stroke="#444" stroke-width="0.5"/>
<line x1="506.80" y1="79.42" x2="508.80" y2="79.42" stroke="#444" stroke-width="0.5"/>
<rect x="510.10" y="81.55" width="5.30" height="3.85" fill="#000" stroke="#222" stroke-width="0.55" />
<line x1="512.75" y1="81.12" x2="512.75" y2="81.98" stroke="#444" stroke-width="0.5"/>
<line x1="511.75" y1="81.12" x2="513.75" y2="81.12" stroke="#444" stroke-width="0.5"/>
<line x1="511.75" y1="81.98" x2="513.75" y2="81.98" stroke="#444" stroke-width="0.5"/>
<text x="433.70" y="90.60" font-size="4.0" fill="#333" stroke="#333" stroke-width="0.2" text-anchor="middle">sub-G0/G1</text>
<text x="459.00" y="90.60" font-size="4.0" fill="#333" stroke="#333" stroke-width="0.2" text-anchor="middle">G0/G1</text>
<text x="483.00" y="90.60" font-size="4.0" fill="#333" stroke="#333" stroke-width="0.2" text-anchor="middle">S</text>
<text x="508.20" y="90.60" font-size="4.0" fill="#333" stroke="#333" stroke-width="0.2" text-anchor="middle">G2M</text>
<circle cx="505.15" cy="10.90" r="0.95" fill="#fff" stroke="#333" stroke-width="0.35"/>
<text x="506.40" y="12.16" font-size="3.5" fill="#222" stroke="#222" stroke-width="0.2">Cont</text>
<circle cx="505.15" cy="15.35" r="0.95" fill="#777" stroke="#333" stroke-width="0.35"/>
<text x="506.40" y="16.61" font-size="3.5" fill="#222" stroke="#222" stroke-width="0.2">Line 6</text>
<circle cx="505.15" cy="19.80" r="0.95" fill="#000" stroke="#333" stroke-width="0.35"/>
<text x="506.40" y="21.06" font-size="3.5" fill="#222" stroke="#222" stroke-width="0.2">Line3</text>
<text x="412.40" y="49.00" font-size="4.2" fill="#222" stroke="#222" stroke-width="0.22" text-anchor="middle" font-weight="bold" textLength="31" lengthAdjust="spacingAndGlyphs" transform="rotate(-90 412.40 49.00)">% of Lin<tspan font-size="2.8" dy="-1.3">+</tspan><tspan dy="1.3"> mBMCs</tspan></text>
<path d="M344.2 11 L344.2 3.5 L352.5 3.5 L352.5 34.6" fill="none" stroke="#777" stroke-width="0.5" />
<text x="347.50" y="2.50" font-size="4" fill="#333" stroke="#333" stroke-width="0.2" text-anchor="middle">*</text>
<path d="M339.2 18.5 L339.2 8.1 L347.3 8.1 L347.3 11" fill="none" stroke="#777" stroke-width="0.5" />
<text x="341.00" y="6.50" font-size="3.6" fill="#333" stroke="#333" stroke-width="0.2" text-anchor="middle">**</text>
<path d="M317.7 82 L317.7 78.2 L322.6 78.2 L322.6 83" fill="none" stroke="#777" stroke-width="0.5" />
<text x="320.20" y="77.60" font-size="4.0" fill="#333" stroke="#333" stroke-width="0.2" text-anchor="middle">*</text>
<path d="M366.6 77.5 L366.6 73.2 L371.4 73.2 L371.4 81.2" fill="none" stroke="#777" stroke-width="0.5" />
<text x="368.80" y="72.60" font-size="4.0" fill="#333" stroke="#333" stroke-width="0.2" text-anchor="middle">*</text>
<path d="M453 27 L453 21.5 L464 21.5 L464 36" fill="none" stroke="#777" stroke-width="0.5" />
<text x="458.50" y="20.80" font-size="3.6" fill="#333" stroke="#333" stroke-width="0.2" text-anchor="middle">*</text>
<path d="M478 59 L478 46.5 L489 46.5 L489 53" fill="none" stroke="#777" stroke-width="0.5" />
<text x="483.50" y="45.80" font-size="3.6" fill="#333" stroke="#333" stroke-width="0.2" text-anchor="middle">*</text>
<text x="295.40" y="108.90" font-size="8.0" fill="#000" stroke="#000" stroke-width="0.2" font-weight="bold">E</text>
<line x1="317.30" y1="106.00" x2="317.30" y2="185.00" stroke="#bbb" stroke-width="0.6"/>
<line x1="316.10" y1="185.00" x2="317.30" y2="185.00" stroke="#bbb" stroke-width="0.5"/>
<text x="313.80" y="186.37" font-size="3.8" fill="#222" stroke="#222" stroke-width="0.2" text-anchor="end">0</text>
<line x1="316.10" y1="177.20" x2="317.30" y2="177.20" stroke="#bbb" stroke-width="0.5"/>
<text x="313.80" y="178.57" font-size="3.8" fill="#222" stroke="#222" stroke-width="0.2" text-anchor="end">10</text>
<line x1="316.10" y1="169.40" x2="317.30" y2="169.40" stroke="#bbb" stroke-width="0.5"/>
<text x="313.80" y="170.77" font-size="3.8" fill="#222" stroke="#222" stroke-width="0.2" text-anchor="end">20</text>
<line x1="316.10" y1="161.60" x2="317.30" y2="161.60" stroke="#bbb" stroke-width="0.5"/>
<text x="313.80" y="162.97" font-size="3.8" fill="#222" stroke="#222" stroke-width="0.2" text-anchor="end">30</text>
<line x1="316.10" y1="153.80" x2="317.30" y2="153.80" stroke="#bbb" stroke-width="0.5"/>
<text x="313.80" y="155.17" font-size="3.8" fill="#222" stroke="#222" stroke-width="0.2" text-anchor="end">40</text>
<line x1="316.10" y1="146.00" x2="317.30" y2="146.00" stroke="#bbb" stroke-width="0.5"/>
<text x="313.80" y="147.37" font-size="3.8" fill="#222" stroke="#222" stroke-width="0.2" text-anchor="end">50</text>
<line x1="316.10" y1="138.20" x2="317.30" y2="138.20" stroke="#bbb" stroke-width="0.5"/>
<text x="313.80" y="139.57" font-size="3.8" fill="#222" stroke="#222" stroke-width="0.2" text-anchor="end">60</text>
<line x1="316.10" y1="130.40" x2="317.30" y2="130.40" stroke="#bbb" stroke-width="0.5"/>
<text x="313.80" y="131.77" font-size="3.8" fill="#222" stroke="#222" stroke-width="0.2" text-anchor="end">70</text>
<line x1="316.10" y1="122.60" x2="317.30" y2="122.60" stroke="#bbb" stroke-width="0.5"/>
<text x="313.80" y="123.97" font-size="3.8" fill="#222" stroke="#222" stroke-width="0.2" text-anchor="end">80</text>
<line x1="316.10" y1="114.80" x2="317.30" y2="114.80" stroke="#bbb" stroke-width="0.5"/>
<text x="313.80" y="116.17" font-size="3.8" fill="#222" stroke="#222" stroke-width="0.2" text-anchor="end">90</text>
<line x1="316.10" y1="107.00" x2="317.30" y2="107.00" stroke="#bbb" stroke-width="0.5"/>
<text x="313.80" y="108.37" font-size="3.8" fill="#222" stroke="#222" stroke-width="0.2" text-anchor="end">100</text>
<line x1="317.30" y1="185.00" x2="398.00" y2="185.00" stroke="#aaa" stroke-width="0.8"/>
<rect x="324.70" y="141.32" width="11.20" height="43.68" fill="#fff" stroke="#555" stroke-width="0.55" />
<line x1="330.30" y1="129.62" x2="330.30" y2="141.32" stroke="#444" stroke-width="0.5"/>
<line x1="329.10" y1="129.62" x2="331.50" y2="129.62" stroke="#444" stroke-width="0.5"/>
<line x1="329.10" y1="141.32" x2="331.50" y2="141.32" stroke="#444" stroke-width="0.5"/>
<rect x="351.30" y="117.53" width="11.70" height="67.47" fill="url(#chkE)" stroke="#222" stroke-width="0.55" />
<line x1="357.15" y1="116.75" x2="357.15" y2="118.31" stroke="#444" stroke-width="0.5"/>
<line x1="355.95" y1="116.75" x2="358.35" y2="116.75" stroke="#444" stroke-width="0.5"/>
<line x1="355.95" y1="118.31" x2="358.35" y2="118.31" stroke="#444" stroke-width="0.5"/>
<rect x="378.50" y="141.71" width="10.50" height="43.29" fill="#000" stroke="#222" stroke-width="0.55" />
<line x1="383.75" y1="136.64" x2="383.75" y2="141.71" stroke="#444" stroke-width="0.5"/>
<line x1="382.55" y1="136.64" x2="384.95" y2="136.64" stroke="#444" stroke-width="0.5"/>
<line x1="382.55" y1="141.71" x2="384.95" y2="141.71" stroke="#444" stroke-width="0.5"/>
<text x="357.20" y="114.00" font-size="4.2" fill="#333" stroke="#333" stroke-width="0.2" text-anchor="middle">**</text>
<text x="330.30" y="190.30" font-size="4.2" fill="#333" stroke="#333" stroke-width="0.2" text-anchor="middle">Control</text>
<text x="357.20" y="190.30" font-size="4.2" fill="#333" stroke="#333" stroke-width="0.2" text-anchor="middle">Line6</text>
<text x="384.30" y="190.30" font-size="4.2" fill="#333" stroke="#333" stroke-width="0.2" text-anchor="middle">Line3</text>
<circle cx="383.90" cy="106.60" r="0.9" fill="#fff" stroke="#333" stroke-width="0.35"/>
<text x="385.10" y="107.79" font-size="3.3" fill="#222" stroke="#222" stroke-width="0.2">Control</text>
<circle cx="383.90" cy="110.75" r="0.9" fill="#777" stroke="#333" stroke-width="0.35"/>
<text x="385.10" y="111.94" font-size="3.3" fill="#222" stroke="#222" stroke-width="0.2">Line6</text>
<circle cx="383.90" cy="114.90" r="0.9" fill="#000" stroke="#333" stroke-width="0.35"/>
<text x="385.10" y="116.09" font-size="3.3" fill="#222" stroke="#222" stroke-width="0.2">Line3</text>
<text x="305.60" y="147.00" font-size="4.2" fill="#222" stroke="#222" stroke-width="0.22" text-anchor="middle" font-weight="bold" textLength="36" lengthAdjust="spacingAndGlyphs" transform="rotate(-90 305.60 147.00)">Donor-derived cell (%)</text>
<text x="414.40" y="107.60" font-size="7.6" fill="#000" stroke="#000" stroke-width="0.2" font-weight="bold">F</text>
<line x1="430.40" y1="108.00" x2="430.40" y2="187.90" stroke="#bbb" stroke-width="0.6"/>
<line x1="429.20" y1="187.90" x2="430.40" y2="187.90" stroke="#bbb" stroke-width="0.5"/>
<text x="427.90" y="189.27" font-size="3.8" fill="#222" stroke="#222" stroke-width="0.2" text-anchor="end">0</text>
<line x1="429.20" y1="180.07" x2="430.40" y2="180.07" stroke="#bbb" stroke-width="0.5"/>
<text x="427.90" y="181.44" font-size="3.8" fill="#222" stroke="#222" stroke-width="0.2" text-anchor="end">10</text>
<line x1="429.20" y1="172.24" x2="430.40" y2="172.24" stroke="#bbb" stroke-width="0.5"/>
<text x="427.90" y="173.61" font-size="3.8" fill="#222" stroke="#222" stroke-width="0.2" text-anchor="end">20</text>
<line x1="429.20" y1="164.41" x2="430.40" y2="164.41" stroke="#bbb" stroke-width="0.5"/>
<text x="427.90" y="165.78" font-size="3.8" fill="#222" stroke="#222" stroke-width="0.2" text-anchor="end">30</text>
<line x1="429.20" y1="156.58" x2="430.40" y2="156.58" stroke="#bbb" stroke-width="0.5"/>
<text x="427.90" y="157.95" font-size="3.8" fill="#222" stroke="#222" stroke-width="0.2" text-anchor="end">40</text>
<line x1="429.20" y1="148.75" x2="430.40" y2="148.75" stroke="#bbb" stroke-width="0.5"/>
<text x="427.90" y="150.12" font-size="3.8" fill="#222" stroke="#222" stroke-width="0.2" text-anchor="end">50</text>
<line x1="429.20" y1="140.92" x2="430.40" y2="140.92" stroke="#bbb" stroke-width="0.5"/>
<text x="427.90" y="142.29" font-size="3.8" fill="#222" stroke="#222" stroke-width="0.2" text-anchor="end">60</text>
<line x1="429.20" y1="133.09" x2="430.40" y2="133.09" stroke="#bbb" stroke-width="0.5"/>
<text x="427.90" y="134.46" font-size="3.8" fill="#222" stroke="#222" stroke-width="0.2" text-anchor="end">70</text>
<line x1="429.20" y1="125.26" x2="430.40" y2="125.26" stroke="#bbb" stroke-width="0.5"/>
<text x="427.90" y="126.63" font-size="3.8" fill="#222" stroke="#222" stroke-width="0.2" text-anchor="end">80</text>
<line x1="429.20" y1="117.43" x2="430.40" y2="117.43" stroke="#bbb" stroke-width="0.5"/>
<text x="427.90" y="118.80" font-size="3.8" fill="#222" stroke="#222" stroke-width="0.2" text-anchor="end">90</text>
<line x1="429.20" y1="109.60" x2="430.40" y2="109.60" stroke="#bbb" stroke-width="0.5"/>
<text x="427.90" y="110.97" font-size="3.8" fill="#222" stroke="#222" stroke-width="0.2" text-anchor="end">100</text>
<line x1="430.40" y1="187.90" x2="517.00" y2="187.90" stroke="#aaa" stroke-width="0.8"/>
<rect x="434.70" y="114.30" width="5.70" height="73.60" fill="#fff" stroke="#555" stroke-width="0.55" />
<line x1="437.55" y1="113.91" x2="437.55" y2="114.69" stroke="#444" stroke-width="0.5"/>
<line x1="436.55" y1="113.91" x2="438.55" y2="113.91" stroke="#444" stroke-width="0.5"/>
<line x1="436.55" y1="114.69" x2="438.55" y2="114.69" stroke="#444" stroke-width="0.5"/>
<rect x="440.40" y="114.30" width="6.10" height="73.60" fill="url(#chkF)" stroke="#222" stroke-width="0.55" />
<line x1="443.45" y1="113.91" x2="443.45" y2="114.69" stroke="#444" stroke-width="0.5"/>
<line x1="442.45" y1="113.91" x2="444.45" y2="113.91" stroke="#444" stroke-width="0.5"/>
<line x1="442.45" y1="114.69" x2="444.45" y2="114.69" stroke="#444" stroke-width="0.5"/>
<rect x="446.50" y="120.17" width="5.40" height="67.73" fill="#000" stroke="#222" stroke-width="0.55" />
<line x1="449.20" y1="114.30" x2="449.20" y2="120.17" stroke="#444" stroke-width="0.5"/>
<line x1="448.20" y1="114.30" x2="450.20" y2="114.30" stroke="#444" stroke-width="0.5"/>
<line x1="448.20" y1="120.17" x2="450.20" y2="120.17" stroke="#444" stroke-width="0.5"/>
<rect x="460.30" y="118.21" width="5.60" height="69.69" fill="#fff" stroke="#555" stroke-width="0.55" />
<line x1="463.10" y1="114.30" x2="463.10" y2="118.21" stroke="#444" stroke-width="0.5"/>
<line x1="462.10" y1="114.30" x2="464.10" y2="114.30" stroke="#444" stroke-width="0.5"/>
<line x1="462.10" y1="118.21" x2="464.10" y2="118.21" stroke="#444" stroke-width="0.5"/>
<rect x="465.90" y="125.26" width="6.20" height="62.64" fill="url(#chkF)" stroke="#222" stroke-width="0.55" />
<line x1="469.00" y1="118.21" x2="469.00" y2="125.26" stroke="#444" stroke-width="0.5"/>
<line x1="468.00" y1="118.21" x2="470.00" y2="118.21" stroke="#444" stroke-width="0.5"/>
<line x1="468.00" y1="125.26" x2="470.00" y2="125.26" stroke="#444" stroke-width="0.5"/>
<rect x="472.10" y="129.72" width="5.60" height="58.18" fill="#000" stroke="#222" stroke-width="0.55" />
<line x1="474.90" y1="128.55" x2="474.90" y2="129.72" stroke="#444" stroke-width="0.5"/>
<line x1="473.90" y1="128.55" x2="475.90" y2="128.55" stroke="#444" stroke-width="0.5"/>
<line x1="473.90" y1="129.72" x2="475.90" y2="129.72" stroke="#444" stroke-width="0.5"/>
<rect x="486.40" y="185.55" width="5.30" height="2.35" fill="#fff" stroke="#555" stroke-width="0.55" />
<line x1="489.05" y1="182.81" x2="489.05" y2="186.33" stroke="#444" stroke-width="0.5"/>
<line x1="488.05" y1="182.81" x2="490.05" y2="182.81" stroke="#444" stroke-width="0.5"/>
<line x1="488.05" y1="186.33" x2="490.05" y2="186.33" stroke="#444" stroke-width="0.5"/>
<rect x="492.20" y="127.22" width="5.80" height="60.68" fill="url(#chkF)" stroke="#222" stroke-width="0.55" />
<line x1="495.10" y1="122.91" x2="495.10" y2="127.22" stroke="#444" stroke-width="0.5"/>
<line x1="494.10" y1="122.91" x2="496.10" y2="122.91" stroke="#444" stroke-width="0.5"/>
<line x1="494.10" y1="127.22" x2="496.10" y2="127.22" stroke="#444" stroke-width="0.5"/>
<rect x="498.00" y="166.99" width="5.70" height="20.91" fill="#000" stroke="#222" stroke-width="0.55" />
<line x1="500.85" y1="165.98" x2="500.85" y2="166.99" stroke="#444" stroke-width="0.5"/>
<line x1="499.85" y1="165.98" x2="501.85" y2="165.98" stroke="#444" stroke-width="0.5"/>
<line x1="499.85" y1="166.99" x2="501.85" y2="166.99" stroke="#444" stroke-width="0.5"/>
<path d="M463.9 113 L463.9 108.4 L475.4 108.4 L475.4 128.9" fill="none" stroke="#777" stroke-width="0.5" />
<text x="469.50" y="107.30" font-size="4" fill="#333" stroke="#333" stroke-width="0.2" text-anchor="middle">*</text>
<path d="M488.7 182 L488.7 113.2 L494.7 113.2 L494.7 122" fill="none" stroke="#777" stroke-width="0.5" />
<text x="491.50" y="111.50" font-size="3.6" fill="#333" stroke="#333" stroke-width="0.2" text-anchor="middle">**</text>
<path d="M491 182 L491 120.4 L499.5 120.4 L499.5 166" fill="none" stroke="#777" stroke-width="0.5" />
<text x="496.00" y="118.60" font-size="3.6" fill="#333" stroke="#333" stroke-width="0.2" text-anchor="middle">**</text>
<text x="443.90" y="193.60" font-size="4.2" fill="#333" stroke="#333" stroke-width="0.2" text-anchor="middle">1st</text>
<text x="469.40" y="193.60" font-size="4.2" fill="#333" stroke="#333" stroke-width="0.2" text-anchor="middle">2nd</text>
<text x="495.70" y="194.20" font-size="4.2" fill="#333" stroke="#333" stroke-width="0.2" text-anchor="middle">3rd</text>
<circle cx="508.70" cy="107.30" r="1.0" fill="#fff" stroke="#333" stroke-width="0.35"/>
<text x="510.00" y="108.56" font-size="3.5" fill="#222" stroke="#222" stroke-width="0.2">Cont</text>
<circle cx="508.70" cy="111.95" r="1.0" fill="#777" stroke="#333" stroke-width="0.35"/>
<text x="510.00" y="113.21" font-size="3.5" fill="#222" stroke="#222" stroke-width="0.2">Line6</text>
<circle cx="508.70" cy="116.60" r="1.0" fill="#000" stroke="#333" stroke-width="0.35"/>
<text x="510.00" y="117.86" font-size="3.5" fill="#222" stroke="#222" stroke-width="0.2">Line3</text>
<text x="419.00" y="148.30" font-size="4.2" fill="#222" stroke="#222" stroke-width="0.22" text-anchor="middle" font-weight="bold" textLength="41" lengthAdjust="spacingAndGlyphs" transform="rotate(-90 419.00 148.30)">Donor-derived cells (%)</text>
<text x="295.60" y="205.90" font-size="7.8" fill="#000" stroke="#000" stroke-width="0.2" font-weight="bold">G</text>
<text x="330.30" y="213.80" font-size="4.4" fill="#222" stroke="#222" stroke-width="0.2" text-anchor="middle" font-weight="bold">Control</text>
<text x="330.30" y="236.20" font-size="4.4" fill="#222" stroke="#222" stroke-width="0.2" text-anchor="middle" font-weight="bold">Low LSD1</text>
<text x="330.30" y="241.00" font-size="4.4" fill="#222" stroke="#222" stroke-width="0.2" text-anchor="middle" font-weight="bold">(Line6)</text>
<text x="330.30" y="260.80" font-size="4.4" fill="#222" stroke="#222" stroke-width="0.2" text-anchor="middle" font-weight="bold">High LSD1</text>
<text x="330.30" y="265.60" font-size="4.4" fill="#222" stroke="#222" stroke-width="0.2" text-anchor="middle" font-weight="bold">(Line3)</text>
<g fill="#777" stroke="#777" stroke-width="1.5"><circle cx="350.9" cy="208.30" r="3.9"/><circle cx="350.9" cy="214.90" r="3.9"/><circle cx="387.1" cy="208.30" r="3.9"/><circle cx="387.1" cy="214.90" r="3.9"/><rect x="350.9" y="208.20" width="36.20" height="7.8"/></g>
<g fill="#fff"><circle cx="350.9" cy="208.30" r="3.9"/><circle cx="350.9" cy="214.90" r="3.9"/><circle cx="387.1" cy="208.30" r="3.9"/><circle cx="387.1" cy="214.90" r="3.9"/><rect x="350.9" y="208.20" width="36.20" height="7.8"/></g>
<rect x="357.4" y="209" width="4.10" height="5.00" fill="#a8cfc0" opacity="0.8" filter="url(#blur1)"/>
<rect x="370.5" y="212" width="7.50" height="3.00" fill="#c8d0cc" opacity="0.8" filter="url(#blur1)"/>
<circle cx="351.6" cy="208.3" r="1.6" fill="#000"/>
<circle cx="355.9" cy="210.3" r="1.6" fill="#000"/>
<circle cx="355.9" cy="213.4" r="1.6" fill="#000"/>
<circle cx="353.4" cy="214.6" r="1.6" fill="#000"/>
<circle cx="350.3" cy="216.2" r="1.6" fill="#000"/>
<circle cx="363.2" cy="210.3" r="1.6" fill="#000"/>
<circle cx="362.7" cy="213.4" r="1.6" fill="#000"/>
<circle cx="367.0" cy="213.4" r="1.6" fill="#000"/>
<circle cx="369.3" cy="210.1" r="1.6" fill="#000"/>
<circle cx="375.6" cy="210.6" r="1.6" fill="#000"/>
<circle cx="379.9" cy="210.6" r="1.6" fill="#000"/>
<circle cx="381.4" cy="213.9" r="1.6" fill="#000"/>
<circle cx="385.2" cy="210.6" r="1.6" fill="#000"/>
<circle cx="387.2" cy="207.1" r="1.6" fill="#000"/>
<circle cx="387.7" cy="217.2" r="1.6" fill="#000"/>
<g fill="#777" stroke="#777" stroke-width="1.5"><circle cx="350.9" cy="233.50" r="3.9"/><circle cx="350.9" cy="240.10" r="3.9"/><circle cx="387.1" cy="233.50" r="3.9"/><circle cx="387.1" cy="240.10" r="3.9"/><rect x="350.9" y="233.40" width="36.20" height="7.8"/></g>
<g fill="#fff"><circle cx="350.9" cy="233.50" r="3.9"/><circle cx="350.9" cy="240.10" r="3.9"/><circle cx="387.1" cy="233.50" r="3.9"/><circle cx="387.1" cy="240.10" r="3.9"/><rect x="350.9" y="233.40" width="36.20" height="7.8"/></g>
<rect x="356.5" y="233.7" width="8.20" height="3.10" fill="#e83a3a" opacity="0.9" filter="url(#blur1)"/>
<rect x="370.4" y="237" width="6.30" height="2.60" fill="#e83a3a" opacity="0.9" filter="url(#blur1)"/>
<circle cx="351.7" cy="232.7" r="1.6" fill="#000"/>
<circle cx="350.3" cy="240.4" r="1.6" fill="#000"/>
<circle cx="353.1" cy="238.5" r="1.6" fill="#000"/>
<circle cx="355.5" cy="236.1" r="1.6" fill="#000"/>
<circle cx="358.4" cy="238.5" r="1.6" fill="#000"/>
<circle cx="362.8" cy="235.1" r="1.6" fill="#000"/>
<circle cx="362.5" cy="238.0" r="1.6" fill="#000"/>
<circle cx="367.0" cy="237.5" r="1.6" fill="#000"/>
<circle cx="369.5" cy="234.7" r="1.6" fill="#000"/>
<circle cx="375.2" cy="235.1" r="1.6" fill="#000"/>
<circle cx="380.0" cy="235.1" r="1.6" fill="#000"/>
<circle cx="381.5" cy="238.5" r="1.6" fill="#000"/>
<circle cx="385.3" cy="235.1" r="1.6" fill="#000"/>
<circle cx="387.3" cy="232.0" r="1.6" fill="#000"/>
<circle cx="387.7" cy="241.4" r="1.6" fill="#000"/>
<g fill="#777" stroke="#777" stroke-width="1.5"><circle cx="350.9" cy="258.90" r="3.9"/><circle cx="350.9" cy="265.50" r="3.9"/><circle cx="387.1" cy="258.90" r="3.9"/><circle cx="387.1" cy="265.50" r="3.9"/><rect x="350.9" y="258.80" width="36.20" height="7.8"/></g>
<g fill="#fff"><circle cx="350.9" cy="258.90" r="3.9"/><circle cx="350.9" cy="265.50" r="3.9"/><circle cx="387.1" cy="258.90" r="3.9"/><circle cx="387.1" cy="265.50" r="3.9"/><rect x="350.9" y="258.80" width="36.20" height="7.8"/></g>
<rect x="364.2" y="260.6" width="11.50" height="3.90" fill="#a8cfc0" opacity="0.7" filter="url(#blur1)"/>
<rect x="356" y="259.5" width="5.00" height="3.50" fill="#d0dcd6" opacity="0.6" filter="url(#blur1)"/>
<circle cx="351.7" cy="257.9" r="1.6" fill="#000"/>
<circle cx="354.6" cy="261.3" r="1.6" fill="#000"/>
<circle cx="352.7" cy="263.7" r="1.6" fill="#000"/>
<circle cx="363.2" cy="259.9" r="1.6" fill="#000"/>
<circle cx="362.3" cy="263.2" r="1.6" fill="#000"/>
<circle cx="369.5" cy="259.9" r="1.6" fill="#000"/>
<circle cx="379.6" cy="260.3" r="1.6" fill="#000"/>
<circle cx="381.5" cy="263.7" r="1.6" fill="#000"/>
<circle cx="385.3" cy="260.3" r="1.6" fill="#000"/>
<circle cx="387.7" cy="266.6" r="1.6" fill="#000"/>
<path d="M423.9 207.0 L432.0 219.2 L415.8 219.2 Z" fill="#bdbdbd"/>
<text x="423.80" y="206.20" font-size="2.9" fill="#222" stroke="#222" stroke-width="0.1" text-anchor="middle" font-weight="bold" textLength="14" lengthAdjust="spacingAndGlyphs">Quiescent</text>
<text x="409.75" y="220.30" font-size="2.9" fill="#222" stroke="#222" stroke-width="0.1" text-anchor="middle" font-weight="bold" textLength="19" lengthAdjust="spacingAndGlyphs">Self-renewal</text>
<text x="435.00" y="220.30" font-size="2.9" fill="#222" stroke="#222" stroke-width="0.1" text-anchor="middle" font-weight="bold" textLength="22" lengthAdjust="spacingAndGlyphs">Differentiation</text>
<linearGradient id="pinkg" x1="0" y1="0" x2="0" y2="1"><stop offset="0" stop-color="#f8d0d0"/><stop offset="1" stop-color="#f2b4b4"/></linearGradient>
<path d="M423.8 232.0 L431.4 243.0 L416.2 243.0 Z" fill="url(#pinkg)"/>
<text x="423.50" y="232.60" font-size="5.0" fill="#111" stroke="#111" stroke-width="0.15" text-anchor="middle" font-weight="bold" textLength="25" lengthAdjust="spacingAndGlyphs">Quiescent</text>
<text x="409.75" y="245.10" font-size="3.3" fill="#222" stroke="#222" stroke-width="0.1" text-anchor="middle" font-weight="bold" textLength="24" lengthAdjust="spacingAndGlyphs">Self-renewal</text>
<text x="434.60" y="244.90" font-size="2.9" fill="#222" stroke="#222" stroke-width="0.1" text-anchor="middle" font-weight="bold" textLength="21.5" lengthAdjust="spacingAndGlyphs">Differentiation</text>
<path d="M424.0 255.7 L433.0 268.3 L415.0 268.3 Z" fill="#f04444"/>
<text x="423.00" y="255.40" font-size="2.9" fill="#222" stroke="#222" stroke-width="0.1" text-anchor="middle" font-weight="bold" textLength="14" lengthAdjust="spacingAndGlyphs">Quiescent</text>
<text x="409.40" y="269.20" font-size="5.2" fill="#111" stroke="#111" stroke-width="0.15" text-anchor="middle" font-weight="bold" textLength="31" lengthAdjust="spacingAndGlyphs">Self-renewal</text>
<text x="435.60" y="271.60" font-size="2.9" fill="#222" stroke="#222" stroke-width="0.1" text-anchor="middle" font-weight="bold" textLength="26" lengthAdjust="spacingAndGlyphs">Differentiation</text>
<circle cx="340.5" cy="296.2" r="12.6" fill="#c2c2c2"/>
<circle cx="341.6" cy="299.6" r="8.6" fill="#f0eaf8"/>
<circle cx="341.6" cy="299.6" r="8.1" fill="url(#purp)"/>
<circle cx="393.4" cy="296.6" r="12.8" fill="#fff" stroke="#ccc" stroke-width="0.8"/>
<circle cx="394.2" cy="299.2" r="8.7" fill="url(#purp)"/>
<circle cx="441" cy="296.6" r="12.8" fill="#fff" stroke="#ccc" stroke-width="0.8"/>
<circle cx="441.8" cy="299.2" r="8.7" fill="url(#purp)"/>
<line x1="409.50" y1="296.60" x2="425.00" y2="296.60" stroke="#333" stroke-width="0.6"/>
<path d="M423.5 295 L426.3 296.6 L423.5 298.2" fill="none" stroke="#333" stroke-width="0.6" />
<text x="340.50" y="318.00" font-size="4.3" fill="#111" stroke="#111" stroke-width="0.2" text-anchor="middle" font-weight="bold">Quiescent</text>
<text x="340.50" y="322.60" font-size="4.3" fill="#111" stroke="#111" stroke-width="0.2" text-anchor="middle" font-weight="bold">HSC</text>
<line x1="327.40" y1="325.00" x2="353.50" y2="325.00" stroke="#222" stroke-width="1.15"/>
<line x1="327.40" y1="322.50" x2="327.40" y2="327.50" stroke="#222" stroke-width="1.15"/>
<line x1="353.50" y1="322.50" x2="353.50" y2="327.50" stroke="#222" stroke-width="1.15"/>
<text x="340.50" y="331.60" font-size="4.2" fill="#d02020" stroke="#d02020" stroke-width="0.2" text-anchor="middle" font-weight="bold">Line6</text>
<text x="393.40" y="318.00" font-size="4.3" fill="#333" stroke="#333" stroke-width="0.2" text-anchor="middle">Active</text>
<text x="393.40" y="322.40" font-size="4.3" fill="#333" stroke="#333" stroke-width="0.2" text-anchor="middle">HSC</text>
<text x="442.70" y="320.60" font-size="4.3" fill="#222" stroke="#222" stroke-width="0.2" text-anchor="middle">Progenitors</text>
<line x1="380.70" y1="325.20" x2="453.00" y2="325.20" stroke="#111" stroke-width="1.15"/>
<line x1="380.70" y1="322.70" x2="380.70" y2="327.70" stroke="#111" stroke-width="1.15"/>
<path d="M451.5 323.2 L455.3 325.2 L451.5 327.2 Z" fill="#111" stroke="#111" stroke-width="0.3" />
<text x="393.40" y="331.60" font-size="4.2" fill="#d02020" stroke="#d02020" stroke-width="0.2" text-anchor="middle" font-weight="bold">Line3</text>
</svg></body></html>
